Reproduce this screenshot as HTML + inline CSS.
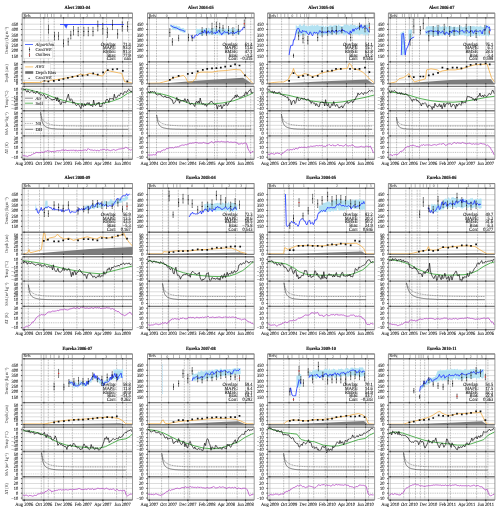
<!DOCTYPE html><html><head><meta charset="utf-8"><style>html,body{margin:0;padding:0;background:#fff;width:500px;height:512px;overflow:hidden}svg{display:block;will-change:transform}text{font-family:"Liberation Serif",serif;fill:#111;stroke:#111;stroke-width:0.07px;text-rendering:geometricPrecision}.tk{font-size:5.0px;text-anchor:end}.rs{font-size:4.4px;stroke-width:0.03px;fill:#222}.xl{text-anchor:middle}.st{font-size:5px;text-anchor:end}.sd{font-size:4.1px;text-anchor:middle;fill:#333;stroke-width:0}.lg{font-size:4.6px;stroke-width:0.04px;fill:#222}.ti{font-size:4.9px;font-weight:bold;text-anchor:middle;stroke-width:0.14px}.yl{font-size:4.6px;text-anchor:middle;stroke-width:0;fill:#333}</style></head><body><svg xmlns="http://www.w3.org/2000/svg" width="500" height="512" viewBox="0 0 500 512"><rect width="500" height="512" fill="#fff"/>
<text class="ti" transform="matrix(0.9 0 0 1 77.35 9)">Alert 2003-04</text>
<rect x="22.2" y="13.1" width="110.3" height="4.8" fill="#b9b9b9"/>
<path d="M22.7 13.8H39.9V17.1H22.7ZM40.9 13.8H44.4V17.1H40.9ZM45.4 13.8H47V17.1H45.4ZM48 13.8H51V17.1H48ZM52 13.8H53.5V17.1H52ZM54.5 13.8H67.5V17.1H54.5ZM68.5 13.8H79.9V17.1H68.5ZM80.9 13.8H93.6V17.1H80.9ZM94.6 13.8H106.1V17.1H94.6ZM107.1 13.8H118.1V17.1H107.1ZM119.1 13.8H127.8V17.1H119.1ZM128.8 13.8H132V17.1H128.8Z" fill="#fff"/>
<path d="M22.2 24.2H132.5M22.2 29.5H132.5M22.2 34.8H132.5M22.2 40.1H132.5M22.2 45.4H132.5M22.2 50.7H132.5M22.2 56H132.5M22.2 64.5H132.5M22.2 68.34H132.5M22.2 72.18H132.5M22.2 76.02H132.5M22.2 79.86H132.5M22.2 88.98H132.5M22.2 96.82H132.5M22.2 100.74H132.5M22.2 104.66H132.5M22.2 108.58H132.5M22.2 113.6H132.5M22.2 117.5H132.5M22.2 121.4H132.5M22.2 125.3H132.5M22.2 129.2H132.5M22.2 137.85H132.5M22.2 142.7H132.5M22.2 147.55H132.5M22.2 157.25H132.5" stroke="#d0d0d0" stroke-width="0.75" fill="none"/>
<path d="M24.2 17.9V61.8M43.88 17.9V61.8M63.56 17.9V61.8M83.24 17.9V61.8M102.92 17.9V61.8M122.6 17.9V61.8M24.2 61.8V83.9M43.88 61.8V83.9M63.56 61.8V83.9M83.24 61.8V83.9M102.92 61.8V83.9M122.6 61.8V83.9M24.2 86.3V110.7M43.88 86.3V110.7M63.56 86.3V110.7M83.24 86.3V110.7M102.92 86.3V110.7M122.6 86.3V110.7M24.2 110.7V135.9M43.88 110.7V135.9M63.56 110.7V135.9M83.24 110.7V135.9M102.92 110.7V135.9M122.6 110.7V135.9M24.2 135.9V159.2M43.88 135.9V159.2M63.56 135.9V159.2M83.24 135.9V159.2M102.92 135.9V159.2M122.6 135.9V159.2" stroke="#b4b4b4" stroke-width="0.65" fill="none"/>
<path d="M40.6 17.9V61.8M48.4 17.9V61.8M54.2 17.9V61.8M80.6 17.9V61.8M106.6 17.9V61.8M128.7 17.9V61.8M40.6 61.8V83.9M48.4 61.8V83.9M54.2 61.8V83.9M80.6 61.8V83.9M106.6 61.8V83.9M128.7 61.8V83.9M40.6 86.3V110.7M48.4 86.3V110.7M54.2 86.3V110.7M80.6 86.3V110.7M106.6 86.3V110.7M128.7 86.3V110.7M40.6 110.7V135.9M48.4 110.7V135.9M54.2 110.7V135.9M80.6 110.7V135.9M106.6 110.7V135.9M128.7 110.7V135.9M40.6 135.9V159.2M48.4 135.9V159.2M54.2 135.9V159.2M80.6 135.9V159.2M106.6 135.9V159.2M128.7 135.9V159.2" stroke="#5a5a5a" stroke-width="0.5" stroke-dasharray="0.75 0.85" fill="none"/>
<path d="M22.2 133.1H132.5M22.2 92.9H132.5" stroke="#a0a0a0" stroke-width="0.45" stroke-dasharray="1 0.8"/>
<path d="M63.5 24.3 68 24.3 66.3 28.8Z" fill="#3a55ff"/>
<path d="M60 24.5 124 24.5" stroke="#2238ff" stroke-width="0.85" fill="none" stroke-linejoin="round"/>
<path d="M48.5 25.2V33.3M48 25.2h0.9M48 33.3h0.9M54.5 32.2V40M54 32.2h0.9M54 40h0.9M58.5 32.4V39.7M58 32.4h0.9M58 39.7h0.9M63.5 39.7V46.8M63 39.7h0.9M63 46.8h0.9M68.2 38.2V45.2M67.8 38.2h0.9M67.8 45.2h0.9M70.8 31.2V39M70.3 31.2h0.9M70.3 39h0.9M73.5 26.5V35M73 26.5h0.9M73 35h0.9M78.2 27.3V35.8M77.8 27.3h0.9M77.8 35.8h0.9M83.8 27.3V35.8M83.3 27.3h0.9M83.3 35.8h0.9M88.3 27.3V35.8M87.8 27.3h0.9M87.8 35.8h0.9M93 27.3V35.8M92.5 27.3h0.9M92.5 35.8h0.9M97.8 21V31M97.3 21h0.9M97.3 31h0.9M102.8 23.4V34.3M102.3 23.4h0.9M102.3 34.3h0.9M107.5 28V37.4M107 28h0.9M107 37.4h0.9M112.5 20.2V29.6M112 20.2h0.9M112 29.6h0.9M117.6 29.6V38.2M117.1 29.6h0.9M117.1 38.2h0.9M122.3 21.8V31.2M121.8 21.8h0.9M121.8 31.2h0.9M127.5 21.8V31.2M127 21.8h0.9M127 31.2h0.9" stroke="#1e1e1e" stroke-width="0.55" fill="none"/>
<path d="M48.5 29.2h0.01M54.5 36.1h0.01M58.5 36h0.01M63.5 43.2h0.01M68.2 41.7h0.01M70.8 35.1h0.01M73.5 30.8h0.01M78.2 31.5h0.01M83.8 31.5h0.01M88.3 31.5h0.01M93 31.5h0.01M97.8 26h0.01M102.8 28.8h0.01M107.5 32.7h0.01M112.5 24.9h0.01M117.6 33.9h0.01M122.3 26.5h0.01M127.5 26.5h0.01" stroke="#111" stroke-width="1.1" stroke-linecap="round"/>
<text class="st" transform="matrix(.88 0 0 1 116.2 45.6)">Overlap:</text><text class="st" transform="matrix(.88 0 0 1 130.7 45.6)">71.4</text>
<text class="st" transform="matrix(.88 0 0 1 116.2 49.25)">MAPE:</text><text class="st" transform="matrix(.88 0 0 1 130.7 49.25)">93.3</text>
<text class="st" transform="matrix(.88 0 0 1 116.2 52.9)">RMSE:</text><text class="st" transform="matrix(.88 0 0 1 130.7 52.9)">91.3</text>
<text class="st" transform="matrix(.88 0 0 1 116.2 56.55)">Bias:</text><text class="st" transform="matrix(.88 0 0 1 130.7 56.55)">77.9</text>
<text class="st" transform="matrix(.88 0 0 1 116.2 60.2)">Corr:</text><text class="st" transform="matrix(.88 0 0 1 130.7 60.2)">nan</text>
<path d="M22.5 82.6 41 82.4 44.4 80.6 47.8 81.3 51.1 80.2 55.6 79.7 62.3 78.6 69 77.5 75.8 76.1 80.7 74.1 84.7 75.2 89.2 73.4 93.7 73.9 98.2 75.2 102.6 76.1 106.7 70.1 110.5 71.2 118.3 72.8 121.7 73.4 124.6 81.7 128.4 82.4 132.3 83" stroke="#f3ab3c" stroke-opacity="0.8" stroke-width="0.95" fill="none" stroke-linejoin="round"/>
<path d="M44.4 80.6h0.01M48.4 81.3h0.01M53.8 80.8h0.01M59 80.2h0.01M63.4 79h0.01M67.9 77.9h0.01M72.4 76.8h0.01M77.6 76.1h0.01M82.5 75.7h0.01M87.6 75h0.01M93.2 73.4h0.01M97.7 74.6h0.01M103.1 72.3h0.01M107.8 70.1h0.01M112.7 69.4h0.01M117.2 69h0.01M122.8 70.8h0.01M127.3 81.3h0.01" stroke="#111" stroke-width="1.7" stroke-linecap="square"/>
<path d="M22.5 90.2 26.5 89.1 35.4 91.4 44.4 93.6 55.6 98.1 66.8 101.4 78 103.7 89.2 104.8 100.4 103.7 111.6 101.4 120.6 98.1 127.3 93.6 132.3 91.4" stroke="#2ca02c" stroke-width="0.8" fill="none"/>
<path d="M22.5 89 23.4 88.7 24.3 89.9 25.2 89.1 26.1 91.1 27 92.2 27.9 90.4 28.8 92 29.7 92.6 30.6 91.9 31.5 91.1 32.4 90.5 33.3 92.8 34.2 92.2 35.1 93.2 36 93.3 36.9 91.1 37.8 92.6 38.7 93.7 39.6 93.3 40.5 95.4 41.4 94.5 42.3 95.6 43.2 94.6 44.1 94.8 45 96.7 45.9 98.7 46.8 98.1 47.7 96.1 48.6 97.4 49.5 98.4 50.4 98.9 51.3 99.1 52.2 100.3 53.1 99 54 100 54.9 99.2 55.8 97.3 56.7 101 57.6 97.5 58.5 101.8 59.4 100 60.3 104.4 61.2 104.4 62.1 101.6 63 102.5 63.9 102.2 64.8 102.7 65.7 102.9 66.6 99.1 67.5 96.9 68.4 94.1 69.3 99.1 70.2 100.7 71.1 98.7 72 99.6 72.9 103.4 73.8 101.9 74.7 102.6 75.6 104.7 76.5 105.7 77.4 104.4 78.3 104.1 79.2 105.4 80.1 107.1 81 108.7 81.9 103.3 82.8 105.9 83.7 106.4 84.6 103.7 85.5 105.9 86.4 103.9 87.3 102.6 88.2 104.4 89.1 102.5 90 105.2 90.9 105.4 91.8 105.4 92.7 106.6 93.6 100 94.5 104.4 95.4 105.5 96.3 104.8 97.2 102.8 98.1 103.9 99 102 99.9 107 100.8 106 101.7 106.5 102.6 103.1 103.5 102.8 104.4 103.6 105.3 102.6 106.2 99.7 107.1 99 108 100.1 108.9 102.5 109.8 98.1 110.7 98.8 111.6 98.7 112.5 98.4 113.4 99.9 114.3 94.2 115.2 97.9 116.1 98.1 117 97.6 117.9 95.5 118.8 95.1 119.7 95.7 120.6 93 121.5 93.2 122.4 94.2 123.3 94.5 124.2 92.1 125.1 91.3 126 92.6 126.9 92 127.8 90.2 128.7 89.4 129.6 90 130.5 91.5 131.4 91.1 132.3 93.1" stroke="#111" stroke-width="0.7" fill="none" stroke-linejoin="round"/>
<path d="M40.6 112.5 41.1 114.9 41.6 116.7 42.1 118.1 42.6 119.1 43.1 120 43.6 120.7 44.1 121.3 44.6 121.7 45.1 122.1 45.6 122.5 46.1 122.8 46.6 123 47.1 123.2 47.6 123.5 48.1 123.6 48.6 123.8 49.1 124 49.6 124.1 50.1 124.3 50.6 124.4 51.1 124.5 51.6 124.6 52.1 124.7 52.6 124.8 53.1 124.9 53.6 124.9 54.1 125 54.6 125.1 55.1 125.1 55.6 125.2 56.1 125.3 56.6 125.3 57.1 125.4 57.6 125.4 58.1 125.4 58.6 125.5 59.1 125.5 59.6 125.6 60.1 125.6 60.6 125.6 61.1 125.6 61.6 125.7 62.1 125.7 62.6 125.7 63.1 125.7 63.6 125.7 64.1 125.8 64.6 125.8 65.1 125.8 65.6 125.8 66.1 125.8 66.6 125.8 67.1 125.8 67.6 125.9 68.1 125.9 68.6 125.9 69.1 125.9 69.6 125.9 70.1 125.9 70.6 125.9 71.1 125.9 71.6 125.9 72.1 125.9 72.6 125.9 73.1 125.9 73.6 125.9 74.1 125.9 74.6 125.9 75.1 126 75.6 126 76.1 126 76.6 126 77.1 126 77.6 126 78.1 126 78.6 126 79.1 126 79.6 126 80.1 126 80.6 126 81.1 126 85.1 126 89.1 126 93.1 126 97.1 126 101.1 126 105.1 126 109.1 126 113.1 126 117.1 126 121.1 126 125.1 126 128.4 126" stroke="#444" stroke-width="0.55" stroke-dasharray="1 0.7" fill="none"/>
<path d="M40.6 112.5 41.1 116.6 41.6 119.4 42.1 121.4 42.6 122.9 43.1 124 43.6 124.8 44.1 125.4 44.6 125.9 45.1 126.3 45.6 126.7 46.1 127 46.6 127.2 47.1 127.4 47.6 127.6 48.1 127.8 48.6 127.9 49.1 128.1 49.6 128.2 50.1 128.3 50.6 128.4 51.1 128.5 51.6 128.6 52.1 128.6 52.6 128.7 53.1 128.7 53.6 128.8 54.1 128.8 54.6 128.9 55.1 128.9 55.6 129 56.1 129 56.6 129 57.1 129.1 57.6 129.1 58.1 129.1 58.6 129.1 59.1 129.1 59.6 129.1 60.1 129.2 60.6 129.2 61.1 129.2 61.6 129.2 62.1 129.2 62.6 129.2 63.1 129.2 63.6 129.2 64.1 129.2 64.6 129.2 65.1 129.2 65.6 129.3 66.1 129.3 66.6 129.3 67.1 129.3 67.6 129.3 68.1 129.3 68.6 129.3 69.1 129.3 69.6 129.3 70.1 129.3 70.6 129.3 71.1 129.3 71.6 129.3 72.1 129.3 72.6 129.3 73.1 129.3 73.6 129.3 74.1 129.3 74.6 129.3 75.1 129.3 75.6 129.3 76.1 129.3 76.6 129.3 77.1 129.3 77.6 129.3 78.1 129.3 78.6 129.3 79.1 129.3 79.6 129.3 80.1 129.3 80.6 129.3 81.1 129.3 85.1 129.3 89.1 129.3 93.1 129.3 97.1 129.3 101.1 129.3 105.1 129.3 109.1 129.3 113.1 129.3 117.1 129.3 121.1 129.3 125.1 129.3 128.4 129.3" stroke="#333" stroke-width="0.6" fill="none"/>
<path d="M22.2 152.4H132.5" stroke="#555" stroke-width="0.4" stroke-dasharray="1 0.8"/>
<path d="M22.5 155 23.3 155.7 24.1 155.4 24.9 156 25.7 156 26.5 156.1 27.3 156.6 28.1 156.1 28.9 155.6 29.7 155.5 30.5 155.5 31.3 154.9 32.1 154.7 32.9 153.9 33.7 153.7 34.5 153.5 35.3 153 36.1 152.6 36.9 152.3 37.7 152.6 38.5 152.7 39.3 152.6 40.1 152.7 40.9 152.1 41.7 152.2 42.5 152.3 43.3 152.5 44.1 151.9 44.9 151.8 45.7 151.1 46.5 151.3 47.3 150.7 48.1 150.7 48.9 151.6 49.7 150.8 50.5 151.5 51.3 151.6 52.1 151.4 52.9 151.5 53.7 151.6 54.5 151.8 55.3 151.4 56.1 151 56.9 150.8 57.7 150.6 58.5 150.8 59.3 150.6 60.1 151.1 60.9 150.3 61.7 150.1 62.5 150.1 63.3 149.6 64.1 150.9 64.9 149.8 65.7 150.1 66.5 150.1 67.3 151 68.1 150 68.9 150.7 69.7 150.3 70.5 150.3 71.3 150.2 72.1 150.6 72.9 150.1 73.7 150.2 74.5 150.4 75.3 151.1 76.1 149.8 76.9 150.7 77.7 150.9 78.5 150.4 79.3 150.5 80.1 150.2 80.9 150.9 81.7 150.6 82.5 150.4 83.3 150.2 84.1 150.1 84.9 150.1 85.7 149.8 86.5 150.8 87.3 149.7 88.1 148.5 88.9 149.3 89.7 149.6 90.5 150 91.3 150 92.1 150 92.9 150.2 93.7 150.5 94.5 150.1 95.3 150 96.1 150.8 96.9 150.6 97.7 150 98.5 150.9 99.3 150.8 100.1 150.2 100.9 149.7 101.7 150 102.5 149.7 103.3 149.5 104.1 149.3 104.9 149.5 105.7 150.2 106.5 150 107.3 149.5 108.1 150.1 108.9 150.1 109.7 150.4 110.5 150.7 111.3 150.3 112.1 150.1 112.9 150 113.7 149.5 114.5 149.9 115.3 150.4 116.1 150.1 116.9 149.8 117.7 149.6 118.5 149.2 119.3 149 120.1 149 120.9 148.8 121.7 148.7 122.5 148.2 123.3 148.5 124.1 148.5 124.9 147.9 125.7 147.1 126.5 147.5 127.3 148 128.1 148.5 128.9 149.2 129.7 149.7 130.5 150.1 131.3 149.7 132.1 150.2" stroke="#b03cc0" stroke-width="0.75" fill="none" stroke-linejoin="round"/>
<rect x="23.3" y="41.3" width="28.9" height="17.2" fill="#fff" fill-opacity="0.85" stroke="#ccc" stroke-width="0.4"/>
<path d="M25 44.5H33" stroke="#3050ff" stroke-width="0.8"/>
<path d="M29.5 47.8V51.3M29 47.8h1M29 51.3h1M29.5 53.3V56.5M29 53.3h1M29 56.5h1" stroke="#222" stroke-width="0.5"/>
<path d="M29.5 49.5h.01" stroke="#111" stroke-width="1.2" stroke-linecap="round"/><path d="M29.5 55h.01" stroke="#e8312a" stroke-width="1.3" stroke-linecap="round"/>
<text x="35.5" y="45.9" class="lg"><tspan font-style="italic">Algorithm</tspan></text>
<text x="35.5" y="51" class="lg">Can<tspan font-style="italic">SWE</tspan></text>
<text x="35.5" y="56.3" class="lg">Outliers</text>
<rect x="23.3" y="63.6" width="27" height="16.5" fill="#fff" fill-opacity="0.85" stroke="#ccc" stroke-width="0.4"/>
<path d="M25.2 66.9H33.2" stroke="#f9c77a" stroke-width="1.1"/>
<rect x="25.2" y="71.2" width="8" height="2.6" fill="#707070"/>
<path d="M29.1 78.3h.01" stroke="#111" stroke-width="1.2" stroke-linecap="round"/>
<text x="35.5" y="68.3" class="lg"><tspan font-style="italic">AWS</tspan></text>
<text x="35.5" y="73.6" class="lg">Depth Bias</text>
<text x="35.5" y="79.2" class="lg">Can<tspan font-style="italic">SWE</tspan></text>
<path d="M25 98.2H33" stroke="#444" stroke-width="0.6"/><path d="M25 103.2H33" stroke="#2ca02c" stroke-width="0.7"/>
<text x="35.5" y="99.6" class="lg"><tspan font-style="italic">Air</tspan></text>
<text x="35.5" y="104.6" class="lg">Soil</text>
<path d="M25 123.4H33" stroke="#555" stroke-width="0.5" stroke-dasharray="1 0.7"/><path d="M25 129.3H33" stroke="#333" stroke-width="0.55"/>
<text x="35.5" y="124.8" class="lg">NS</text>
<text x="35.5" y="130.7" class="lg">DH</text>
<path d="M22.2 17.9V13.1H132.5V17.9M22.2 17.9V61.8M132.5 17.9V61.8M22.2 61.8V83.9M132.5 61.8V83.9M22.2 86.3V110.7M132.5 86.3V110.7M22.2 110.7V135.9M132.5 110.7V135.9M22.2 135.9V159.2M132.5 135.9V159.2M22.2 13.1H132.5" stroke="#808080" stroke-width="0.8" fill="none"/>
<path d="M22.2 17.9H132.5M22.2 61.8H132.5M22.2 83.9H132.5M22.2 86.3H132.5M22.2 110.7H132.5M22.2 135.9H132.5M22.2 159.2H132.5" stroke="#7a7a7a" stroke-width="1.35" fill="none"/>
<path d="M24.2 17.2v1.4M43.88 17.2v1.4M63.56 17.2v1.4M83.24 17.2v1.4M102.92 17.2v1.4M122.6 17.2v1.4M24.2 61.1v1.4M43.88 61.1v1.4M63.56 61.1v1.4M83.24 61.1v1.4M102.92 61.1v1.4M122.6 61.1v1.4M20.9 24.2h1.3M20.9 29.5h1.3M20.9 34.8h1.3M20.9 40.1h1.3M20.9 45.4h1.3M20.9 50.7h1.3M20.9 56h1.3M24.2 83.2v1.4M43.88 83.2v1.4M63.56 83.2v1.4M83.24 83.2v1.4M102.92 83.2v1.4M122.6 83.2v1.4M20.9 64.5h1.3M20.9 68.34h1.3M20.9 72.18h1.3M20.9 76.02h1.3M20.9 79.86h1.3M20.9 83.7h1.3M24.2 85.6v1.4M43.88 85.6v1.4M63.56 85.6v1.4M83.24 85.6v1.4M102.92 85.6v1.4M122.6 85.6v1.4M24.2 110v1.4M43.88 110v1.4M63.56 110v1.4M83.24 110v1.4M102.92 110v1.4M122.6 110v1.4M20.9 88.98h1.3M20.9 92.9h1.3M20.9 96.82h1.3M20.9 100.74h1.3M20.9 104.66h1.3M20.9 108.58h1.3M24.2 135.2v1.4M43.88 135.2v1.4M63.56 135.2v1.4M83.24 135.2v1.4M102.92 135.2v1.4M122.6 135.2v1.4M20.9 113.6h1.3M20.9 117.5h1.3M20.9 121.4h1.3M20.9 125.3h1.3M20.9 129.2h1.3M20.9 133.1h1.3M24.2 158.5v1.4M43.88 158.5v1.4M63.56 158.5v1.4M83.24 158.5v1.4M102.92 158.5v1.4M122.6 158.5v1.4M20.9 137.85h1.3M20.9 142.7h1.3M20.9 147.55h1.3M20.9 152.4h1.3M20.9 157.25h1.3M24.2 159.2v1.3M43.88 159.2v1.3M63.56 159.2v1.3M83.24 159.2v1.3M102.92 159.2v1.3M122.6 159.2v1.3" stroke="#1e1e1e" stroke-width="0.75" fill="none"/>
<text class="sd" transform="matrix(.88 0 0 1 61 16.7)">0</text>
<text class="sd" transform="matrix(.88 0 0 1 74.2 16.7)">1</text>
<text class="sd" transform="matrix(.88 0 0 1 87.25 16.7)">2</text>
<text class="sd" transform="matrix(.88 0 0 1 100.35 16.7)">3</text>
<text class="rs" transform="matrix(.88 0 0 1 23.4 16.6)">Refs</text>
<text class="tk" transform="matrix(.88 0 0 1 18.2 25.9)">450</text>
<text class="tk" transform="matrix(.88 0 0 1 18.2 31.2)">400</text>
<text class="tk" transform="matrix(.88 0 0 1 18.2 36.5)">350</text>
<text class="tk" transform="matrix(.88 0 0 1 18.2 41.8)">300</text>
<text class="tk" transform="matrix(.88 0 0 1 18.2 47.1)">250</text>
<text class="tk" transform="matrix(.88 0 0 1 18.2 52.4)">200</text>
<text class="tk" transform="matrix(.88 0 0 1 18.2 57.7)">150</text>
<text class="yl" transform="translate(8.3 40.35) rotate(-90) scale(0.86 1)">Density (kg m<tspan dy="-1.3" font-size="3.2">−3</tspan><tspan dy="1.3">)</tspan></text>
<text class="tk" transform="matrix(.88 0 0 1 18.2 66.2)">50</text>
<text class="tk" transform="matrix(.88 0 0 1 18.2 70.04)">40</text>
<text class="tk" transform="matrix(.88 0 0 1 18.2 73.88)">30</text>
<text class="tk" transform="matrix(.88 0 0 1 18.2 77.72)">20</text>
<text class="tk" transform="matrix(.88 0 0 1 18.2 81.56)">10</text>
<text class="tk" transform="matrix(.88 0 0 1 18.2 85.4)">0</text>
<text class="yl" transform="translate(8.3 73.35) rotate(-90) scale(0.86 1)">Depth (cm)</text>
<text class="tk" transform="matrix(.88 0 0 1 18.2 90.68)">10</text>
<text class="tk" transform="matrix(.88 0 0 1 18.2 94.6)">0</text>
<text class="tk" transform="matrix(.88 0 0 1 18.2 98.52)">−10</text>
<text class="tk" transform="matrix(.88 0 0 1 18.2 102.44)">−20</text>
<text class="tk" transform="matrix(.88 0 0 1 18.2 106.36)">−30</text>
<text class="tk" transform="matrix(.88 0 0 1 18.2 110.28)">−40</text>
<text class="yl" transform="translate(8.3 99) rotate(-90) scale(0.86 1)">Temp (°C)</text>
<text class="tk" transform="matrix(.88 0 0 1 18.2 115.3)">50</text>
<text class="tk" transform="matrix(.88 0 0 1 18.2 119.2)">40</text>
<text class="tk" transform="matrix(.88 0 0 1 18.2 123.1)">30</text>
<text class="tk" transform="matrix(.88 0 0 1 18.2 127)">20</text>
<text class="tk" transform="matrix(.88 0 0 1 18.2 130.9)">10</text>
<text class="tk" transform="matrix(.88 0 0 1 18.2 134.8)">0</text>
<text class="yl" transform="translate(8.3 123.8) rotate(-90) scale(0.86 1)">SSA (m<tspan dy="-1.3" font-size="3.2">2</tspan><tspan dy="1.3"> kg</tspan><tspan dy="-1.3" font-size="3.2">−1</tspan><tspan dy="1.3">)</tspan></text>
<text class="tk" transform="matrix(.88 0 0 1 18.2 139.55)">30</text>
<text class="tk" transform="matrix(.88 0 0 1 18.2 144.4)">20</text>
<text class="tk" transform="matrix(.88 0 0 1 18.2 149.25)">10</text>
<text class="tk" transform="matrix(.88 0 0 1 18.2 154.1)">0</text>
<text class="tk" transform="matrix(.88 0 0 1 18.2 158.95)">−10</text>
<text class="yl" transform="translate(8.3 148.05) rotate(-90) scale(0.86 1)">ΔT (K)</text>
<text class="tk xl" transform="matrix(0.9 0 0 1 24.2 165)">Aug 2003</text>
<text class="tk xl" transform="matrix(0.9 0 0 1 43.88 165)">Oct 2003</text>
<text class="tk xl" transform="matrix(0.9 0 0 1 63.56 165)">Dec 2003</text>
<text class="tk xl" transform="matrix(0.9 0 0 1 83.24 165)">Feb 2004</text>
<text class="tk xl" transform="matrix(0.9 0 0 1 102.92 165)">Apr 2004</text>
<text class="tk xl" transform="matrix(0.9 0 0 1 122.6 165)">Jun 2004</text>
<text class="ti" transform="matrix(0.9 0 0 1 200.85 9)">Alert 2004-05</text>
<rect x="147.5" y="13.1" width="106.7" height="4.8" fill="#b9b9b9"/>
<path d="M148 13.8H155.8V17.1H148ZM156.8 13.8H176.3V17.1H156.8ZM177.3 13.8H195.7V17.1H177.3ZM196.7 13.8H206V17.1H196.7ZM207 13.8H214.1V17.1H207ZM215.1 13.8H215.9V17.1H215.1ZM216.9 13.8H227.3V17.1H216.9ZM228.3 13.8H235.3V17.1H228.3ZM236.3 13.8H244.1V17.1H236.3ZM245.1 13.8H251.1V17.1H245.1ZM252.1 13.8H253.7V17.1H252.1Z" fill="#fff"/>
<path d="M147.5 24.2H254.2M147.5 29.5H254.2M147.5 34.8H254.2M147.5 40.1H254.2M147.5 45.4H254.2M147.5 50.7H254.2M147.5 56H254.2M147.5 64.5H254.2M147.5 68.34H254.2M147.5 72.18H254.2M147.5 76.02H254.2M147.5 79.86H254.2M147.5 88.98H254.2M147.5 96.82H254.2M147.5 100.74H254.2M147.5 104.66H254.2M147.5 108.58H254.2M147.5 113.6H254.2M147.5 117.5H254.2M147.5 121.4H254.2M147.5 125.3H254.2M147.5 129.2H254.2M147.5 137.85H254.2M147.5 142.7H254.2M147.5 147.55H254.2M147.5 157.25H254.2" stroke="#d0d0d0" stroke-width="0.75" fill="none"/>
<path d="M149.4 17.9V61.8M168.64 17.9V61.8M187.88 17.9V61.8M207.12 17.9V61.8M226.36 17.9V61.8M245.6 17.9V61.8M149.4 61.8V83.9M168.64 61.8V83.9M187.88 61.8V83.9M207.12 61.8V83.9M226.36 61.8V83.9M245.6 61.8V83.9M149.4 86.3V110.7M168.64 86.3V110.7M187.88 86.3V110.7M207.12 86.3V110.7M226.36 86.3V110.7M245.6 86.3V110.7M149.4 110.7V135.9M168.64 110.7V135.9M187.88 110.7V135.9M207.12 110.7V135.9M226.36 110.7V135.9M245.6 110.7V135.9M149.4 135.9V159.2M168.64 135.9V159.2M187.88 135.9V159.2M207.12 135.9V159.2M226.36 135.9V159.2M245.6 135.9V159.2" stroke="#b4b4b4" stroke-width="0.65" fill="none"/>
<path d="M156.5 17.9V61.8M196.1 17.9V61.8M214.5 17.9V61.8M217.2 17.9V61.8M236.1 17.9V61.8M250.7 17.9V61.8M156.5 61.8V83.9M196.1 61.8V83.9M214.5 61.8V83.9M217.2 61.8V83.9M236.1 61.8V83.9M250.7 61.8V83.9M156.5 86.3V110.7M196.1 86.3V110.7M214.5 86.3V110.7M217.2 86.3V110.7M236.1 86.3V110.7M250.7 86.3V110.7M156.5 110.7V135.9M196.1 110.7V135.9M214.5 110.7V135.9M217.2 110.7V135.9M236.1 110.7V135.9M250.7 110.7V135.9M156.5 135.9V159.2M196.1 135.9V159.2M214.5 135.9V159.2M217.2 135.9V159.2M236.1 135.9V159.2M250.7 135.9V159.2" stroke="#5a5a5a" stroke-width="0.5" stroke-dasharray="0.75 0.85" fill="none"/>
<path d="M147.5 133.1H254.2M147.5 92.9H254.2" stroke="#a0a0a0" stroke-width="0.45" stroke-dasharray="1 0.8"/>
<path d="M170 24.9 171 24.1 172 25.6 173 25.3 174 24.7 175 26.2 176 25.4 177 25.7 178 26.8 179 26 180 26.7 181 28.4 182 28.4 183 27.7 184 28.6 185 30.1 186 29.5 186 31.1 185 32.9 184 32.5 183 32.8 182 31.8 181 31.4 180 31.5 179 30.2 178 29.9 177 29.8 176 30.6 175 30 174 28.9 173 30.2 172 28.3 171 26.8 170 27Z" fill="#b3e2f2"/>
<path d="M196 27.9 196.9 28.8 197.8 29.1 198.7 28.9 199.6 28.7 200.5 29.2 201.4 29 202.3 29.2 203.2 28.2 204.1 29.2 205 28.5 205.9 28 206.8 28.3 207.7 29.5 208.6 27.6 209.5 28.4 210.5 29.4 211.4 28.6 212.3 29.1 213.2 28.3 214.1 27.8 215 29.2 215.9 27.7 216.8 28.4 217.7 29.8 218.6 28.5 219.5 28.6 220.5 28.8 221.4 28.3 222.3 28.9 223.2 28.9 224.1 28 225 29.7 225.9 28.6 226.8 28.1 227.7 29.4 228.6 27.9 229.5 28.4 230.5 29.2 231.4 27.8 232.3 28.7 233.2 29.8 234.1 27.5 235 28 236 29.7 237 29.2 238 28.5 239 29.4 240 29.5 240 35.2 239.1 35.1 238.2 35.1 237.3 34.1 236.4 34.4 235.5 34.3 234.5 34.5 233.6 34.1 232.7 34.6 231.8 34.3 230.9 34.3 230 35 229.1 34.1 228.1 34.5 227.2 34.5 226.2 34.1 225.3 35.3 224.4 34.6 223.4 34.4 222.5 35.2 221.6 34.7 220.6 34.8 219.7 35.8 218.8 34.7 217.8 34.5 216.9 35.1 215.9 35.3 215 34.8 214.1 34.5 213.2 34.6 212.3 35.1 211.4 34.8 210.5 34.2 209.5 34.9 208.6 34.8 207.7 33.4 206.8 35.2 205.9 33.3 205 33.6 204.1 34.7 203.2 35 202.3 35.9 201.4 35.4 200.5 35.3 199.6 34 198.7 34.7 197.8 35.2 196.9 33.4 196 35Z" fill="#b3e2f2"/>
<path d="M170.6 25.4 173.5 27.2 176.8 28 179 29.4 182.3 30.2 185.2 31.6" stroke="#2238ff" stroke-width="0.85" fill="none" stroke-linejoin="round"/>
<path d="M191.1 35.2 192 37.8 192.9 37.3 193.8 38.3 194.7 35.5 195.6 36.1 196.5 34.4 197.4 35.5 198.3 35 199.2 33.8 200.1 33.1 201 33.6 201.9 33 202.8 31.8 203.7 33 204.6 29.9 205.5 31.7 206.4 34.1 207.3 33 208.2 30.9 209.1 33.1 210 32.6 210.9 31.8 211.8 31.6 212.7 32.3 213.6 33.2 214.5 32.3 215.4 34 216.3 31.7 217.2 33 218.1 30.9 219 30.2 219.9 32.2 220.8 33.1 221.7 35.1 222.6 33 223.5 33.1 224.4 31.4 225.3 32.2 226.2 32.8 227.1 31.8 228 33.2 228.9 34 229.8 33.5 230.7 32.8 231.6 32.7 232.5 33.7 233.4 32.1 234.3 33.8 235.2 32.4 236.1 33 237 31.5 237.9 31.2 238.8 31.1 239.7 32.1 240.6 30.9 241.5 29.8 242.4 29.8 243.3 27.1 244.2 27.8 245.1 27.2" stroke="#2238ff" stroke-width="0.85" fill="none" stroke-linejoin="round"/>
<path d="M169.8 28.7V36.4M169.4 28.7h0.9M169.4 36.4h0.9M172.4 38.6V45.2M172 38.6h0.9M172 45.2h0.9M178.6 35.3V40.8M178.2 35.3h0.9M178.2 40.8h0.9M188.5 34.2V40.8M188.1 34.2h0.9M188.1 40.8h0.9M192.2 35.3V40.8M191.8 35.3h0.9M191.8 40.8h0.9M202.1 27.6V35.3M201.7 27.6h0.9M201.7 35.3h0.9M206.5 28.7V35.3M206.1 28.7h0.9M206.1 35.3h0.9M212 23.2V34.2M211.6 23.2h0.9M211.6 34.2h0.9M216.4 22.1V30.9M216 22.1h0.9M216 30.9h0.9M219.7 23.2V32M219.2 23.2h0.9M219.2 32h0.9M223 25.4V30.9M222.6 25.4h0.9M222.6 30.9h0.9M228.5 26.5V34.2M228.1 26.5h0.9M228.1 34.2h0.9M232.9 27.6V35.3M232.5 27.6h0.9M232.5 35.3h0.9M238.4 25.4V34.2M238 25.4h0.9M238 34.2h0.9M244.3 19.9V27.6M243.9 19.9h0.9M243.9 27.6h0.9" stroke="#1e1e1e" stroke-width="0.55" fill="none"/>
<path d="M169.8 32.5h0.01M172.4 41.9h0.01M178.6 38h0.01M188.5 37.5h0.01M192.2 38h0.01M202.1 31.4h0.01M206.5 32h0.01M212 28.7h0.01M216.4 26.5h0.01M219.7 27.6h0.01M223 28.1h0.01M228.5 30.4h0.01M232.9 31.4h0.01M238.4 29.8h0.01" stroke="#111" stroke-width="1.1" stroke-linecap="round"/>
<path d="M244.3 23.8h0.01" stroke="#e8312a" stroke-width="1.4" stroke-linecap="round"/>
<text class="st" transform="matrix(.88 0 0 1 237.9 45.6)">Overlap:</text><text class="st" transform="matrix(.88 0 0 1 252.4 45.6)">61.4</text>
<text class="st" transform="matrix(.88 0 0 1 237.9 49.25)">MAPE:</text><text class="st" transform="matrix(.88 0 0 1 252.4 49.25)">11.6</text>
<text class="st" transform="matrix(.88 0 0 1 237.9 52.9)">RMSE:</text><text class="st" transform="matrix(.88 0 0 1 252.4 52.9)">47.1</text>
<text class="st" transform="matrix(.88 0 0 1 237.9 56.55)">Bias:</text><text class="st" transform="matrix(.88 0 0 1 252.4 56.55)">−1.2</text>
<text class="st" transform="matrix(.88 0 0 1 237.9 60.2)">Corr:</text><text class="st" transform="matrix(.88 0 0 1 252.4 60.2)">−0.315</text>
<path d="M163 83.6 200 80.5 243 77.8 252 83.6Z" fill="#6f6f6f" fill-opacity="0.9"/>
<path d="M148 83.3 159.2 83.1 163.6 82 168 80.9 170.2 79.4 174.6 77.6 179 76.5 183.4 75.4 185.6 77.6 187.8 82 192.2 82 195.5 78.7 197 73.2 201 72.1 207.6 72.1 212 72.1 218.6 71 225.2 70.6 234 69.5 240.6 69.9 243.9 74.3 247.2 77.2 250.5 80.9 253.4 84" stroke="#f3ab3c" stroke-opacity="0.8" stroke-width="0.95" fill="none" stroke-linejoin="round"/>
<path d="M169.8 79.8h0.01M173 77.6h0.01M178.6 75.8h0.01M187.8 73.9h0.01M192.2 73.2h0.01M197.7 71.4h0.01M202.8 69.9h0.01M207.2 68.8h0.01M212 68.4h0.01M216.4 68.1h0.01M220.8 67.7h0.01M225.2 66.6h0.01M230.7 66.2h0.01M235.1 64.4h0.01M239.5 65.5h0.01M245 75.4h0.01" stroke="#111" stroke-width="1.7" stroke-linecap="square"/>
<path d="M148 92.4 150.4 92.6 159.2 93.4 168 95.6 179 99.6 190 103.6 201 104 212 104 223 102.9 234 100.7 242.8 97.4 249.4 94.8 253.4 92.6" stroke="#2ca02c" stroke-width="0.8" fill="none"/>
<path d="M148 91.6 148.9 91.9 149.8 93.3 150.7 91.1 151.6 92.3 152.5 91.3 153.4 92.2 154.3 91.5 155.2 92.2 156.1 94.4 157 94.5 157.9 95.2 158.8 94.4 159.7 94.4 160.6 94.3 161.5 96 162.4 96.3 163.3 97 164.2 96.9 165.1 95.8 166 97.6 166.9 97.1 167.8 98 168.7 96.9 169.6 98.3 170.5 98.2 171.4 99.9 172.3 99.8 173.2 103.4 174.1 103.4 175 102.2 175.9 100.6 176.8 97.4 177.7 100.5 178.6 99.1 179.5 103.2 180.4 100.4 181.3 100.9 182.2 100.8 183.1 100.1 184 101.3 184.9 98.6 185.8 101 186.7 102.5 187.6 99 188.5 101 189.4 102.7 190.3 104.7 191.2 103.4 192.1 103.2 193 104.2 193.9 105 194.8 106.6 195.7 102.2 196.6 101.2 197.5 103.1 198.4 101 199.3 103.3 200.2 98 201.1 102 202 104.2 202.9 103.9 203.8 103.7 204.7 105.3 205.6 104 206.5 106.4 207.4 104.6 208.3 103.9 209.2 103.8 210.1 101.9 211 101.8 211.9 101.2 212.8 102.8 213.7 103.8 214.6 104.4 215.5 104.5 216.4 104.7 217.3 109.1 218.2 105.6 219.1 105.9 220 106.6 220.9 104.8 221.8 108.8 222.7 106.9 223.6 104.7 224.5 105.8 225.4 104.1 226.3 102.6 227.2 105.6 228.1 104.6 229 102.7 229.9 101.6 230.8 101.2 231.7 100 232.6 98.5 233.5 97.9 234.4 97.9 235.3 95.1 236.2 97.4 237.1 94.7 238 96.9 238.9 96.5 239.8 97.7 240.7 97 241.6 96.9 242.5 96.4 243.4 95.3 244.3 96 245.2 92.7 246.1 91.8 247 94.6 247.9 92.2 248.8 91.2 249.7 90 250.6 89.3 251.5 92.9 252.4 92.8 253.3 92.6" stroke="#111" stroke-width="0.7" fill="none" stroke-linejoin="round"/>
<path d="M156.6 115 157.1 116.9 157.6 118.4 158.1 119.5 158.6 120.4 159.1 121.1 159.6 121.7 160.1 122.1 160.6 122.5 161.1 122.8 161.6 123.1 162.1 123.4 162.6 123.6 163.1 123.8 163.6 123.9 164.1 124.1 164.6 124.2 165.1 124.3 165.6 124.5 166.1 124.6 166.6 124.7 167.1 124.8 167.6 124.9 168.1 124.9 168.6 125 169.1 125.1 169.6 125.1 170.1 125.2 170.6 125.3 171.1 125.3 171.6 125.4 172.1 125.4 172.6 125.4 173.1 125.5 173.6 125.5 174.1 125.5 174.6 125.6 175.1 125.6 175.6 125.6 176.1 125.7 176.6 125.7 177.1 125.7 177.6 125.7 178.1 125.7 178.6 125.8 179.1 125.8 179.6 125.8 180.1 125.8 180.6 125.8 181.1 125.8 181.6 125.8 182.1 125.9 182.6 125.9 183.1 125.9 183.6 125.9 184.1 125.9 184.6 125.9 185.1 125.9 185.6 125.9 186.1 125.9 186.6 125.9 187.1 125.9 187.6 125.9 188.1 125.9 188.6 125.9 189.1 125.9 189.6 126 190.1 126 190.6 126 191.1 126 191.6 126 192.1 126 192.6 126 193.1 126 193.6 126 194.1 126 194.6 126 195.1 126 195.6 126 196.1 126 196.6 126 200.6 126 204.6 126 208.6 126 212.6 126 216.6 126 220.6 126 224.6 126 228.6 126 232.6 126 236.6 126 240.6 126 244.6 126 248.6 126 251.2 126" stroke="#444" stroke-width="0.55" stroke-dasharray="1 0.7" fill="none"/>
<path d="M156.6 115 157.1 118.5 157.6 120.9 158.1 122.6 158.6 123.8 159.1 124.8 159.6 125.5 160.1 126 160.6 126.4 161.1 126.8 161.6 127.1 162.1 127.3 162.6 127.5 163.1 127.7 163.6 127.9 164.1 128 164.6 128.1 165.1 128.2 165.6 128.3 166.1 128.4 166.6 128.5 167.1 128.6 167.6 128.7 168.1 128.7 168.6 128.8 169.1 128.8 169.6 128.9 170.1 128.9 170.6 129 171.1 129 171.6 129 172.1 129 172.6 129.1 173.1 129.1 173.6 129.1 174.1 129.1 174.6 129.1 175.1 129.2 175.6 129.2 176.1 129.2 176.6 129.2 177.1 129.2 177.6 129.2 178.1 129.2 178.6 129.2 179.1 129.2 179.6 129.2 180.1 129.2 180.6 129.3 181.1 129.3 181.6 129.3 182.1 129.3 182.6 129.3 183.1 129.3 183.6 129.3 184.1 129.3 184.6 129.3 185.1 129.3 185.6 129.3 186.1 129.3 186.6 129.3 187.1 129.3 187.6 129.3 188.1 129.3 188.6 129.3 189.1 129.3 189.6 129.3 190.1 129.3 190.6 129.3 191.1 129.3 191.6 129.3 192.1 129.3 192.6 129.3 193.1 129.3 193.6 129.3 194.1 129.3 194.6 129.3 195.1 129.3 195.6 129.3 196.1 129.3 196.6 129.3 200.6 129.3 204.6 129.3 208.6 129.3 212.6 129.3 216.6 129.3 220.6 129.3 224.6 129.3 228.6 129.3 232.6 129.3 236.6 129.3 240.6 129.3 244.6 129.3 248.6 129.3 251.2 129.3" stroke="#333" stroke-width="0.6" fill="none"/>
<path d="M147.5 152.4H254.2" stroke="#555" stroke-width="0.4" stroke-dasharray="1 0.8"/>
<path d="M148 154.5 148.8 155.2 149.6 155.1 150.4 155 151.2 155.1 152 154.8 152.8 155 153.6 154.6 154.4 154.9 155.2 154.8 156 154.6 156.8 152.3 157.6 151.8 158.4 151.8 159.2 151.7 160 152.2 160.8 151.9 161.6 150.6 162.4 150.5 163.2 150 164 149.7 164.8 150.1 165.6 149.6 166.4 148.5 167.2 148.7 168 148.5 168.8 148 169.6 147.7 170.4 147.7 171.2 147.8 172 147.6 172.8 147.6 173.6 148.2 174.4 147.4 175.2 147 176 146.9 176.8 147.2 177.6 146.7 178.4 147.1 179.2 146.2 180 145.7 180.8 145.7 181.6 145.2 182.4 145 183.2 145.2 184 145.2 184.8 144.9 185.6 144.5 186.4 144.8 187.2 144.4 188 143.9 188.8 144.1 189.6 143.2 190.4 143.2 191.2 143.4 192 143.2 192.8 142.9 193.6 143 194.4 142.8 195.2 142.6 196 142.3 196.8 143 197.6 142.7 198.4 143.2 199.2 143.1 200 142.9 200.8 143.1 201.6 143.1 202.4 143 203.2 142.4 204 142.6 204.8 143 205.6 143.1 206.4 143.3 207.2 143.6 208 143.3 208.8 143.8 209.6 142.6 210.4 142.5 211.2 141.5 212 142.2 212.8 142.3 213.6 142.9 214.4 142.4 215.2 141.5 216 142.3 216.8 141.6 217.6 141.3 218.4 141.6 219.2 142 220 141.7 220.8 141.8 221.6 141.1 222.4 142 223.2 141.8 224 141.8 224.8 142 225.6 142 226.4 142 227.2 141.6 228 141.7 228.8 142 229.6 142.4 230.4 142.1 231.2 142.1 232 142.2 232.8 142.4 233.6 142.3 234.4 142.2 235.2 142.1 236 142.8 236.8 142.9 237.6 142.9 238.4 144.3 239.2 144 240 144 240.8 143.7 241.6 143.2 242.4 143.9 243.2 143.6 244 143.1 244.8 143.1 245.6 142.9 246.4 143.4 247.2 145.6 248 148.7 248.8 150.4 249.6 151.2 250.4 153.2 251.2 152.6 252 151.7 252.8 151.3 253.6 152.2" stroke="#b03cc0" stroke-width="0.75" fill="none" stroke-linejoin="round"/>
<path d="M147.5 17.9V13.1H254.2V17.9M147.5 17.9V61.8M254.2 17.9V61.8M147.5 61.8V83.9M254.2 61.8V83.9M147.5 86.3V110.7M254.2 86.3V110.7M147.5 110.7V135.9M254.2 110.7V135.9M147.5 135.9V159.2M254.2 135.9V159.2M147.5 13.1H254.2" stroke="#808080" stroke-width="0.8" fill="none"/>
<path d="M147.5 17.9H254.2M147.5 61.8H254.2M147.5 83.9H254.2M147.5 86.3H254.2M147.5 110.7H254.2M147.5 135.9H254.2M147.5 159.2H254.2" stroke="#7a7a7a" stroke-width="1.35" fill="none"/>
<path d="M149.4 17.2v1.4M168.64 17.2v1.4M187.88 17.2v1.4M207.12 17.2v1.4M226.36 17.2v1.4M245.6 17.2v1.4M149.4 61.1v1.4M168.64 61.1v1.4M187.88 61.1v1.4M207.12 61.1v1.4M226.36 61.1v1.4M245.6 61.1v1.4M146.2 24.2h1.3M146.2 29.5h1.3M146.2 34.8h1.3M146.2 40.1h1.3M146.2 45.4h1.3M146.2 50.7h1.3M146.2 56h1.3M149.4 83.2v1.4M168.64 83.2v1.4M187.88 83.2v1.4M207.12 83.2v1.4M226.36 83.2v1.4M245.6 83.2v1.4M146.2 64.5h1.3M146.2 68.34h1.3M146.2 72.18h1.3M146.2 76.02h1.3M146.2 79.86h1.3M146.2 83.7h1.3M149.4 85.6v1.4M168.64 85.6v1.4M187.88 85.6v1.4M207.12 85.6v1.4M226.36 85.6v1.4M245.6 85.6v1.4M149.4 110v1.4M168.64 110v1.4M187.88 110v1.4M207.12 110v1.4M226.36 110v1.4M245.6 110v1.4M146.2 88.98h1.3M146.2 92.9h1.3M146.2 96.82h1.3M146.2 100.74h1.3M146.2 104.66h1.3M146.2 108.58h1.3M149.4 135.2v1.4M168.64 135.2v1.4M187.88 135.2v1.4M207.12 135.2v1.4M226.36 135.2v1.4M245.6 135.2v1.4M146.2 113.6h1.3M146.2 117.5h1.3M146.2 121.4h1.3M146.2 125.3h1.3M146.2 129.2h1.3M146.2 133.1h1.3M149.4 158.5v1.4M168.64 158.5v1.4M187.88 158.5v1.4M207.12 158.5v1.4M226.36 158.5v1.4M245.6 158.5v1.4M146.2 137.85h1.3M146.2 142.7h1.3M146.2 147.55h1.3M146.2 152.4h1.3M146.2 157.25h1.3M149.4 159.2v1.3M168.64 159.2v1.3M187.88 159.2v1.3M207.12 159.2v1.3M226.36 159.2v1.3M245.6 159.2v1.3" stroke="#1e1e1e" stroke-width="0.75" fill="none"/>
<text class="sd" transform="matrix(.88 0 0 1 166.55 16.7)">0</text>
<text class="sd" transform="matrix(.88 0 0 1 186.5 16.7)">1</text>
<text class="sd" transform="matrix(.88 0 0 1 201.35 16.7)">2</text>
<text class="sd" transform="matrix(.88 0 0 1 210.55 16.7)">3</text>
<text class="rs" transform="matrix(.88 0 0 1 148.7 16.6)">Refs</text>
<text class="tk" transform="matrix(.88 0 0 1 143.5 25.9)">450</text>
<text class="tk" transform="matrix(.88 0 0 1 143.5 31.2)">400</text>
<text class="tk" transform="matrix(.88 0 0 1 143.5 36.5)">350</text>
<text class="tk" transform="matrix(.88 0 0 1 143.5 41.8)">300</text>
<text class="tk" transform="matrix(.88 0 0 1 143.5 47.1)">250</text>
<text class="tk" transform="matrix(.88 0 0 1 143.5 52.4)">200</text>
<text class="tk" transform="matrix(.88 0 0 1 143.5 57.7)">150</text>
<text class="tk" transform="matrix(.88 0 0 1 143.5 66.2)">50</text>
<text class="tk" transform="matrix(.88 0 0 1 143.5 70.04)">40</text>
<text class="tk" transform="matrix(.88 0 0 1 143.5 73.88)">30</text>
<text class="tk" transform="matrix(.88 0 0 1 143.5 77.72)">20</text>
<text class="tk" transform="matrix(.88 0 0 1 143.5 81.56)">10</text>
<text class="tk" transform="matrix(.88 0 0 1 143.5 85.4)">0</text>
<text class="tk" transform="matrix(.88 0 0 1 143.5 90.68)">10</text>
<text class="tk" transform="matrix(.88 0 0 1 143.5 94.6)">0</text>
<text class="tk" transform="matrix(.88 0 0 1 143.5 98.52)">−10</text>
<text class="tk" transform="matrix(.88 0 0 1 143.5 102.44)">−20</text>
<text class="tk" transform="matrix(.88 0 0 1 143.5 106.36)">−30</text>
<text class="tk" transform="matrix(.88 0 0 1 143.5 110.28)">−40</text>
<text class="tk" transform="matrix(.88 0 0 1 143.5 115.3)">50</text>
<text class="tk" transform="matrix(.88 0 0 1 143.5 119.2)">40</text>
<text class="tk" transform="matrix(.88 0 0 1 143.5 123.1)">30</text>
<text class="tk" transform="matrix(.88 0 0 1 143.5 127)">20</text>
<text class="tk" transform="matrix(.88 0 0 1 143.5 130.9)">10</text>
<text class="tk" transform="matrix(.88 0 0 1 143.5 134.8)">0</text>
<text class="tk" transform="matrix(.88 0 0 1 143.5 139.55)">30</text>
<text class="tk" transform="matrix(.88 0 0 1 143.5 144.4)">20</text>
<text class="tk" transform="matrix(.88 0 0 1 143.5 149.25)">10</text>
<text class="tk" transform="matrix(.88 0 0 1 143.5 154.1)">0</text>
<text class="tk" transform="matrix(.88 0 0 1 143.5 158.95)">−10</text>
<text class="tk xl" transform="matrix(0.9 0 0 1 149.4 165)">Aug 2004</text>
<text class="tk xl" transform="matrix(0.9 0 0 1 168.64 165)">Oct 2004</text>
<text class="tk xl" transform="matrix(0.9 0 0 1 187.88 165)">Dec 2004</text>
<text class="tk xl" transform="matrix(0.9 0 0 1 207.12 165)">Feb 2005</text>
<text class="tk xl" transform="matrix(0.9 0 0 1 226.36 165)">Apr 2005</text>
<text class="tk xl" transform="matrix(0.9 0 0 1 245.6 165)">Jun 2005</text>
<text class="ti" transform="matrix(0.9 0 0 1 321.1 9)">Alert 2005-06</text>
<rect x="267.6" y="13.1" width="107" height="4.8" fill="#b9b9b9"/>
<path d="M268.1 13.8H276.9V17.1H268.1ZM277.9 13.8H280.5V17.1H277.9ZM281.5 13.8H284.2V17.1H281.5ZM285.2 13.8H287.5V17.1H285.2ZM288.5 13.8H296.3V17.1H288.5ZM297.3 13.8H304V17.1H297.3ZM305 13.8H306.2V17.1H305ZM307.2 13.8H308.4V17.1H307.2ZM309.4 13.8H315.7V17.1H309.4ZM316.7 13.8H337.7V17.1H316.7ZM338.7 13.8H351.3V17.1H338.7ZM352.3 13.8H364.5V17.1H352.3ZM365.5 13.8H373.3V17.1H365.5Z" fill="#fff"/>
<path d="M267.6 24.2H374.6M267.6 29.5H374.6M267.6 34.8H374.6M267.6 40.1H374.6M267.6 45.4H374.6M267.6 50.7H374.6M267.6 56H374.6M267.6 64.5H374.6M267.6 68.34H374.6M267.6 72.18H374.6M267.6 76.02H374.6M267.6 79.86H374.6M267.6 88.98H374.6M267.6 96.82H374.6M267.6 100.74H374.6M267.6 104.66H374.6M267.6 108.58H374.6M267.6 113.6H374.6M267.6 117.5H374.6M267.6 121.4H374.6M267.6 125.3H374.6M267.6 129.2H374.6M267.6 137.85H374.6M267.6 142.7H374.6M267.6 147.55H374.6M267.6 157.25H374.6" stroke="#d0d0d0" stroke-width="0.75" fill="none"/>
<path d="M269.9 17.9V61.8M289.04 17.9V61.8M308.18 17.9V61.8M327.32 17.9V61.8M346.46 17.9V61.8M365.6 17.9V61.8M269.9 61.8V83.9M289.04 61.8V83.9M308.18 61.8V83.9M327.32 61.8V83.9M346.46 61.8V83.9M365.6 61.8V83.9M269.9 86.3V110.7M289.04 86.3V110.7M308.18 86.3V110.7M327.32 86.3V110.7M346.46 86.3V110.7M365.6 86.3V110.7M269.9 110.7V135.9M289.04 110.7V135.9M308.18 110.7V135.9M327.32 110.7V135.9M346.46 110.7V135.9M365.6 110.7V135.9M269.9 135.9V159.2M289.04 135.9V159.2M308.18 135.9V159.2M327.32 135.9V159.2M346.46 135.9V159.2M365.6 135.9V159.2" stroke="#b4b4b4" stroke-width="0.65" fill="none"/>
<path d="M281.6 17.9V61.8M304.3 17.9V61.8M322.3 17.9V61.8M352.5 17.9V61.8M368.5 17.9V61.8M281.6 61.8V83.9M304.3 61.8V83.9M322.3 61.8V83.9M352.5 61.8V83.9M368.5 61.8V83.9M281.6 86.3V110.7M304.3 86.3V110.7M322.3 86.3V110.7M352.5 86.3V110.7M368.5 86.3V110.7M281.6 110.7V135.9M304.3 110.7V135.9M322.3 110.7V135.9M352.5 110.7V135.9M368.5 110.7V135.9M281.6 135.9V159.2M304.3 135.9V159.2M322.3 135.9V159.2M352.5 135.9V159.2M368.5 135.9V159.2" stroke="#5a5a5a" stroke-width="0.5" stroke-dasharray="0.75 0.85" fill="none"/>
<path d="M267.6 133.1H374.6M267.6 92.9H374.6" stroke="#a0a0a0" stroke-width="0.45" stroke-dasharray="1 0.8"/>
<path d="M295.7 25.3 296.6 25.5 297.5 26.6 298.4 26.6 299.3 24.4 300.2 23.7 301.1 25.7 302 25.7 302.9 25.5 303.8 24 304.7 24.5 305.6 26.2 306.5 25.2 307.4 26.8 308.3 25.4 309.2 26.1 310.1 26 311 25.1 311.9 25.7 312.8 24.6 313.7 26.2 314.6 24.8 315.5 26.1 316.4 25.3 317.3 24.7 318.2 25 319.1 26.4 320 25.3 320.9 26.3 321.9 25.2 322.8 26.1 323.7 25.5 324.6 27.5 325.6 25.6 326.5 26.9 327.4 25.2 328.3 26.4 329.3 25.8 330.2 25.3 331.1 25.6 332 25.6 333 25.9 333.9 25.1 334.8 25.2 335.7 25.1 336.7 24.5 337.6 26.4 338.5 23.8 339.4 25.7 340.4 25.8 341.3 26.1 342.2 25.9 343.1 26.3 344.1 24.5 345 24.4 345.9 24.5 346.8 24.9 347.7 24.6 348.6 25.3 349.5 25.7 350.4 24.6 351.3 24.1 352.2 25.3 353.1 25.3 354 24.9 354.9 24.9 355.8 25.6 356.7 26.3 357.7 25.2 358.6 25.6 359.5 25.1 360.4 25.1 361.3 24.8 362.2 25.4 363.1 24.9 364 25.5 364.9 26 365.8 24.5 366.7 24.4 367.6 24.9 368.5 24.3 369.4 25 369.4 34.7 368.5 33.7 367.6 35.6 366.7 35.4 365.8 34.1 364.9 34.7 364 35.9 363.1 34 362.2 34.2 361.3 34 360.4 34.6 359.5 35.6 358.6 34.9 357.7 34.2 356.7 33.7 355.8 34.9 354.9 33.4 354 34.2 353.1 34.1 352.2 34.9 351.3 34.2 350.4 33.9 349.5 33.3 348.6 34.2 347.7 33.8 346.8 35 345.9 34.6 345 34.3 344.1 35.4 343.1 35 342.2 32.4 341.3 33.6 340.4 33.8 339.4 34.3 338.5 35.1 337.6 34.7 336.7 33.5 335.7 34.6 334.8 34.1 333.9 32.9 333 34.9 332 34.7 331.1 34.6 330.2 34.7 329.3 33.8 328.3 33.7 327.4 35.4 326.5 34.7 325.6 34.1 324.6 34.2 323.7 35.5 322.8 35.5 321.9 33.7 320.9 35.4 320 35.9 319.1 35 318.2 34.6 317.3 34.6 316.4 33.7 315.5 33.7 314.6 33.5 313.7 33.9 312.8 34.6 311.9 33.4 311 34.3 310.1 34.4 309.2 33.9 308.3 33.3 307.4 34.1 306.5 34 305.6 36.2 304.7 33.7 303.8 34.1 302.9 34.3 302 35.6 301.1 34.6 300.2 36.4 299.3 34.2 298.4 34.1 297.5 34.6 296.6 33.3 295.7 34.2Z" fill="#b3e2f2"/>
<path d="M289.1 55.1 290 49 290.9 45.3 291.8 45.4 292.7 45.4 293.6 39.7 294.5 39.8 295.4 35.4 296.3 31.2 297.2 28.8 298.1 28.6 299 28.7 299.9 32.1 300.8 31.9 301.7 32.9 302.6 30.3 303.5 31.4 304.4 31.2 305.3 31.7 306.2 31.2 307.1 33 308 33.9 308.9 35 309.8 32.1 310.7 32.2 311.6 34.6 312.5 35.9 313.4 33.6 314.3 31.9 315.2 33.3 316.1 32.6 317 32.5 317.9 33.7 318.8 32.6 319.7 30.6 320.6 31.3 321.5 32.8 322.4 31.5 323.3 32.5 324.2 31.7 325.1 32.6 326 31.6 326.9 32.9 327.8 31.8 328.7 30.7 329.6 32.1 330.5 32.2 331.4 31.9 332.3 30 333.2 30.7 334.1 32.3 335 31.8 335.9 30 336.8 32.2 337.7 31.7 338.6 31 339.5 30.6 340.4 31 341.3 31.8 342.2 29.1 343.1 30.8 344 30.1 344.9 31.9 345.8 31.9 346.7 31.9 347.6 32.3 348.5 33.8 349.4 34.4 350.3 30.9 351.2 33.1 352.1 31.4 353 28.9 353.9 31.3 354.8 29.1 355.7 28.4 356.6 29.5 357.5 28.1 358.4 27.8 359.3 28.5 360.2 27.3 361.1 24.6 362 27.7 362.9 28.1 363.8 27 364.7 25.8 365.6 27.5 366.5 28.3 367.4 28.8 368.3 31.4 369.2 32" stroke="#2238ff" stroke-width="0.85" fill="none" stroke-linejoin="round"/>
<path d="M293.5 54V57.3M293.1 54h0.9M293.1 57.3h0.9M298.6 32V39.7M298.2 32h0.9M298.2 39.7h0.9M303 34.2V43M302.6 34.2h0.9M302.6 43h0.9M307.8 36.4V44.1M307.4 36.4h0.9M307.4 44.1h0.9M317.7 34.2V40.8M317.2 34.2h0.9M317.2 40.8h0.9M322.1 27.6V36.4M321.7 27.6h0.9M321.7 36.4h0.9M327.6 27.6V35.3M327.2 27.6h0.9M327.2 35.3h0.9M332 27.6V34.2M331.6 27.6h0.9M331.6 34.2h0.9M336.4 26.5V34.2M335.9 26.5h0.9M335.9 34.2h0.9M341.9 27.6V33.1M341.4 27.6h0.9M341.4 33.1h0.9M350.7 34.2V40.8M350.2 34.2h0.9M350.2 40.8h0.9M359.5 23.2V29.8M359.1 23.2h0.9M359.1 29.8h0.9M365 25.4V32M364.6 25.4h0.9M364.6 32h0.9M369.4 23.2V32M368.9 23.2h0.9M368.9 32h0.9" stroke="#1e1e1e" stroke-width="0.55" fill="none"/>
<path d="M293.5 55.6h0.01M298.6 35.9h0.01M303 38.6h0.01M307.8 40.2h0.01M317.7 37.5h0.01M322.1 32h0.01M327.6 31.4h0.01M332 30.9h0.01M336.4 30.4h0.01M341.9 30.4h0.01M350.7 37.5h0.01M359.5 26.5h0.01M365 28.7h0.01" stroke="#111" stroke-width="1.1" stroke-linecap="round"/>
<path d="M369.4 27.6h0.01" stroke="#e8312a" stroke-width="1.4" stroke-linecap="round"/>
<text class="st" transform="matrix(.88 0 0 1 358.3 45.6)">Overlap:</text><text class="st" transform="matrix(.88 0 0 1 372.8 45.6)">54.1</text>
<text class="st" transform="matrix(.88 0 0 1 358.3 49.25)">MAPE:</text><text class="st" transform="matrix(.88 0 0 1 372.8 49.25)">15.7</text>
<text class="st" transform="matrix(.88 0 0 1 358.3 52.9)">RMSE:</text><text class="st" transform="matrix(.88 0 0 1 372.8 52.9)">62.8</text>
<text class="st" transform="matrix(.88 0 0 1 358.3 56.55)">Bias:</text><text class="st" transform="matrix(.88 0 0 1 372.8 56.55)">51.2</text>
<text class="st" transform="matrix(.88 0 0 1 358.3 60.2)">Corr:</text><text class="st" transform="matrix(.88 0 0 1 372.8 60.2)">0.516</text>
<path d="M279 83.6 320 81.5 367 79.4 373 83.6Z" fill="#6f6f6f" fill-opacity="0.9"/>
<path d="M268 83.2 269.3 83.1 274.8 82.4 279.2 82 283.6 82 288 79.8 290.2 75.4 292.4 72.1 293.5 68.4 294.6 72.1 296.8 75.4 301.2 75.4 304.5 73.6 307.8 74.3 312.2 76.5 316.6 75.4 321 73.2 325.4 72.1 332 71 338.6 69.2 343 68.8 347.4 68.4 349.2 63.3 350.7 64.4 352.9 68.8 358.4 69.9 362.8 72.1 367.2 76.5 370.5 79.8 374 82.6" stroke="#f3ab3c" stroke-opacity="0.8" stroke-width="0.95" fill="none" stroke-linejoin="round"/>
<path d="M289.1 80.9h0.01M293.5 73.2h0.01M298.6 77.2h0.01M303 75.8h0.01M307.8 75h0.01M312.6 77.2h0.01M317.7 75.8h0.01M322.1 71.4h0.01M327.6 71h0.01M332 70.6h0.01M336 68.8h0.01M340.8 68.8h0.01M350 68.8h0.01M355.1 69.2h0.01M359.5 68.8h0.01M365 67.7h0.01M369.4 72.1h0.01" stroke="#111" stroke-width="1.7" stroke-linecap="square"/>
<path d="M268 91.8 269.3 91.9 277 93.4 288 95.2 299 97.8 310 100.7 321 102.2 332 102.9 343 101.8 354 99.6 365 97.4 374 95.1" stroke="#2ca02c" stroke-width="0.8" fill="none"/>
<path d="M268 90.6 268.9 89.4 269.8 90.6 270.7 91.5 271.6 91.8 272.5 91.2 273.4 93.3 274.3 91.2 275.2 93 276.1 92.9 277 92.8 277.9 93.1 278.8 92 279.7 92.2 280.6 94.4 281.5 94.3 282.4 95.3 283.3 95 284.2 96.1 285.1 96.2 286 96.8 286.9 97.7 287.8 96.9 288.7 100.5 289.6 99.6 290.5 100.6 291.4 104.9 292.3 101.5 293.2 100.7 294.1 100.3 295 103.6 295.9 102.4 296.8 97.6 297.7 97.2 298.6 100.5 299.5 100.4 300.4 99.8 301.3 98.1 302.2 98.2 303.1 99.4 304 98.2 304.9 98.7 305.8 99.8 306.7 100.2 307.6 99 308.5 99.1 309.4 101.2 310.3 101.1 311.2 103.5 312.1 101.4 313 102.7 313.9 103.5 314.8 102.9 315.7 105.7 316.6 103.6 317.5 105.2 318.4 106.7 319.3 106.6 320.2 102.5 321.1 102.6 322 101.7 322.9 103 323.8 102.1 324.7 106 325.6 99.7 326.5 104.5 327.4 105.9 328.3 103.4 329.2 107 330.1 108 331 106 331.9 103.8 332.8 105.6 333.7 101.5 334.6 104.7 335.5 106.4 336.4 104.5 337.3 104.7 338.2 106.8 339.1 108.2 340 106.8 340.9 107.2 341.8 105.7 342.7 108 343.6 106.4 344.5 104.6 345.4 103.3 346.3 102.7 347.2 101.2 348.1 103.6 349 102.2 349.9 102.2 350.8 101.6 351.7 100.5 352.6 102.9 353.5 102 354.4 99.4 355.3 99.5 356.2 96.7 357.1 96.4 358 92.9 358.9 94.7 359.8 94.3 360.7 93.8 361.6 92.5 362.5 93.6 363.4 94.7 364.3 92.6 365.2 92.9 366.1 93.1 367 93.1 367.9 92.3 368.8 91 369.7 90.4 370.6 91.3 371.5 90.6 372.4 90.8 373.3 91.2" stroke="#111" stroke-width="0.7" fill="none" stroke-linejoin="round"/>
<path d="M281.4 114.2 281.9 116.3 282.4 117.9 282.9 119.1 283.4 120 283.9 120.8 284.4 121.4 284.9 121.8 285.4 122.3 285.9 122.6 286.4 122.9 286.9 123.2 287.4 123.4 287.9 123.6 288.4 123.8 288.9 123.9 289.4 124.1 289.9 124.2 290.4 124.4 290.9 124.5 291.4 124.6 291.9 124.7 292.4 124.8 292.9 124.9 293.4 124.9 293.9 125 294.4 125.1 294.9 125.1 295.4 125.2 295.9 125.3 296.4 125.3 296.9 125.4 297.4 125.4 297.9 125.4 298.4 125.5 298.9 125.5 299.4 125.5 299.9 125.6 300.4 125.6 300.9 125.6 301.4 125.7 301.9 125.7 302.4 125.7 302.9 125.7 303.4 125.7 303.9 125.8 304.4 125.8 304.9 125.8 305.4 125.8 305.9 125.8 306.4 125.8 306.9 125.8 307.4 125.9 307.9 125.9 308.4 125.9 308.9 125.9 309.4 125.9 309.9 125.9 310.4 125.9 310.9 125.9 311.4 125.9 311.9 125.9 312.4 125.9 312.9 125.9 313.4 125.9 313.9 125.9 314.4 125.9 314.9 126 315.4 126 315.9 126 316.4 126 316.9 126 317.4 126 317.9 126 318.4 126 318.9 126 319.4 126 319.9 126 320.4 126 320.9 126 321.4 126 325.4 126 329.4 126 333.4 126 337.4 126 341.4 126 345.4 126 349.4 126 353.4 126 357.4 126 361.4 126 365.4 126 369.4 126 372 126" stroke="#444" stroke-width="0.55" stroke-dasharray="1 0.7" fill="none"/>
<path d="M281.4 114.2 281.9 117.9 282.4 120.4 282.9 122.2 283.4 123.5 283.9 124.5 284.4 125.2 284.9 125.8 285.4 126.3 285.9 126.6 286.4 126.9 286.9 127.2 287.4 127.4 287.9 127.6 288.4 127.8 288.9 127.9 289.4 128.1 289.9 128.2 290.4 128.3 290.9 128.4 291.4 128.5 291.9 128.6 292.4 128.6 292.9 128.7 293.4 128.8 293.9 128.8 294.4 128.9 294.9 128.9 295.4 128.9 295.9 129 296.4 129 296.9 129 297.4 129.1 297.9 129.1 298.4 129.1 298.9 129.1 299.4 129.1 299.9 129.2 300.4 129.2 300.9 129.2 301.4 129.2 301.9 129.2 302.4 129.2 302.9 129.2 303.4 129.2 303.9 129.2 304.4 129.2 304.9 129.2 305.4 129.3 305.9 129.3 306.4 129.3 306.9 129.3 307.4 129.3 307.9 129.3 308.4 129.3 308.9 129.3 309.4 129.3 309.9 129.3 310.4 129.3 310.9 129.3 311.4 129.3 311.9 129.3 312.4 129.3 312.9 129.3 313.4 129.3 313.9 129.3 314.4 129.3 314.9 129.3 315.4 129.3 315.9 129.3 316.4 129.3 316.9 129.3 317.4 129.3 317.9 129.3 318.4 129.3 318.9 129.3 319.4 129.3 319.9 129.3 320.4 129.3 320.9 129.3 321.4 129.3 325.4 129.3 329.4 129.3 333.4 129.3 337.4 129.3 341.4 129.3 345.4 129.3 349.4 129.3 353.4 129.3 357.4 129.3 361.4 129.3 365.4 129.3 369.4 129.3 372 129.3" stroke="#333" stroke-width="0.6" fill="none"/>
<path d="M267.6 152.4H374.6" stroke="#555" stroke-width="0.4" stroke-dasharray="1 0.8"/>
<path d="M268 154.5 268.8 154.3 269.6 154.8 270.4 153.7 271.2 154 272 153.2 272.8 154 273.6 154 274.4 154.3 275.2 153.6 276 153.5 276.8 153.1 277.6 153 278.4 153.5 279.2 153.3 280 153.7 280.8 154.5 281.6 154.4 282.4 153.3 283.2 153.3 284 152.2 284.8 151.4 285.6 151.1 286.4 150.4 287.2 150 288 149.5 288.8 150.3 289.6 149.9 290.4 149.6 291.2 149.6 292 150.1 292.8 149.4 293.6 148.8 294.4 149.7 295.2 148.5 296 148.3 296.8 148.5 297.6 149.1 298.4 148.2 299.2 147 300 147.6 300.8 147.4 301.6 147.2 302.4 147.4 303.2 147.3 304 147.3 304.8 147 305.6 147.4 306.4 147.7 307.2 147.2 308 146.7 308.8 146.9 309.6 146.9 310.4 146.2 311.2 146.1 312 146.6 312.8 146.3 313.6 146.1 314.4 146.1 315.2 146 316 145.9 316.8 145.1 317.6 146 318.4 145.9 319.2 145.4 320 145.8 320.8 145.7 321.6 145.5 322.4 145.8 323.2 146.4 324 146.1 324.8 146.3 325.6 146.6 326.4 145.5 327.2 145.1 328 145.4 328.8 144.6 329.6 144.7 330.4 145.4 331.2 145.6 332 145.5 332.8 144.6 333.6 145.8 334.4 145.7 335.2 145.8 336 145.8 336.8 144.9 337.6 144.6 338.4 144.6 339.2 145.8 340 145.4 340.8 145.5 341.6 145.5 342.4 145.9 343.2 146.1 344 146 344.8 145.4 345.6 144.4 346.4 145.2 347.2 145.6 348 146.2 348.8 145.9 349.6 145.6 350.4 145.9 351.2 145.2 352 145.1 352.8 145.1 353.6 145.5 354.4 146.6 355.2 146.8 356 147.1 356.8 147 357.6 147.1 358.4 147 359.2 147.1 360 146.4 360.8 146.6 361.6 146.3 362.4 146.8 363.2 146.9 364 147 364.8 147.1 365.6 146.2 366.4 146.2 367.2 146.4 368 146.2 368.8 146.6 369.6 146.5 370.4 146 371.2 147.8 372 149.4 372.8 151.4 373.6 153.1" stroke="#b03cc0" stroke-width="0.75" fill="none" stroke-linejoin="round"/>
<path d="M267.6 17.9V13.1H374.6V17.9M267.6 17.9V61.8M374.6 17.9V61.8M267.6 61.8V83.9M374.6 61.8V83.9M267.6 86.3V110.7M374.6 86.3V110.7M267.6 110.7V135.9M374.6 110.7V135.9M267.6 135.9V159.2M374.6 135.9V159.2M267.6 13.1H374.6" stroke="#808080" stroke-width="0.8" fill="none"/>
<path d="M267.6 17.9H374.6M267.6 61.8H374.6M267.6 83.9H374.6M267.6 86.3H374.6M267.6 110.7H374.6M267.6 135.9H374.6M267.6 159.2H374.6" stroke="#7a7a7a" stroke-width="1.35" fill="none"/>
<path d="M269.9 17.2v1.4M289.04 17.2v1.4M308.18 17.2v1.4M327.32 17.2v1.4M346.46 17.2v1.4M365.6 17.2v1.4M269.9 61.1v1.4M289.04 61.1v1.4M308.18 61.1v1.4M327.32 61.1v1.4M346.46 61.1v1.4M365.6 61.1v1.4M266.3 24.2h1.3M266.3 29.5h1.3M266.3 34.8h1.3M266.3 40.1h1.3M266.3 45.4h1.3M266.3 50.7h1.3M266.3 56h1.3M269.9 83.2v1.4M289.04 83.2v1.4M308.18 83.2v1.4M327.32 83.2v1.4M346.46 83.2v1.4M365.6 83.2v1.4M266.3 64.5h1.3M266.3 68.34h1.3M266.3 72.18h1.3M266.3 76.02h1.3M266.3 79.86h1.3M266.3 83.7h1.3M269.9 85.6v1.4M289.04 85.6v1.4M308.18 85.6v1.4M327.32 85.6v1.4M346.46 85.6v1.4M365.6 85.6v1.4M269.9 110v1.4M289.04 110v1.4M308.18 110v1.4M327.32 110v1.4M346.46 110v1.4M365.6 110v1.4M266.3 88.98h1.3M266.3 92.9h1.3M266.3 96.82h1.3M266.3 100.74h1.3M266.3 104.66h1.3M266.3 108.58h1.3M269.9 135.2v1.4M289.04 135.2v1.4M308.18 135.2v1.4M327.32 135.2v1.4M346.46 135.2v1.4M365.6 135.2v1.4M266.3 113.6h1.3M266.3 117.5h1.3M266.3 121.4h1.3M266.3 125.3h1.3M266.3 129.2h1.3M266.3 133.1h1.3M269.9 158.5v1.4M289.04 158.5v1.4M308.18 158.5v1.4M327.32 158.5v1.4M346.46 158.5v1.4M365.6 158.5v1.4M266.3 137.85h1.3M266.3 142.7h1.3M266.3 147.55h1.3M266.3 152.4h1.3M266.3 157.25h1.3M269.9 159.2v1.3M289.04 159.2v1.3M308.18 159.2v1.3M327.32 159.2v1.3M346.46 159.2v1.3M365.6 159.2v1.3" stroke="#1e1e1e" stroke-width="0.75" fill="none"/>
<text class="sd" transform="matrix(.88 0 0 1 292.4 16.7)">0</text>
<text class="sd" transform="matrix(.88 0 0 1 300.65 16.7)">1</text>
<text class="sd" transform="matrix(.88 0 0 1 327.2 16.7)">2</text>
<text class="sd" transform="matrix(.88 0 0 1 345 16.7)">3</text>
<text class="rs" transform="matrix(.88 0 0 1 268.8 16.6)">Refs</text>
<text class="tk" transform="matrix(.88 0 0 1 263.6 25.9)">450</text>
<text class="tk" transform="matrix(.88 0 0 1 263.6 31.2)">400</text>
<text class="tk" transform="matrix(.88 0 0 1 263.6 36.5)">350</text>
<text class="tk" transform="matrix(.88 0 0 1 263.6 41.8)">300</text>
<text class="tk" transform="matrix(.88 0 0 1 263.6 47.1)">250</text>
<text class="tk" transform="matrix(.88 0 0 1 263.6 52.4)">200</text>
<text class="tk" transform="matrix(.88 0 0 1 263.6 57.7)">150</text>
<text class="tk" transform="matrix(.88 0 0 1 263.6 66.2)">50</text>
<text class="tk" transform="matrix(.88 0 0 1 263.6 70.04)">40</text>
<text class="tk" transform="matrix(.88 0 0 1 263.6 73.88)">30</text>
<text class="tk" transform="matrix(.88 0 0 1 263.6 77.72)">20</text>
<text class="tk" transform="matrix(.88 0 0 1 263.6 81.56)">10</text>
<text class="tk" transform="matrix(.88 0 0 1 263.6 85.4)">0</text>
<text class="tk" transform="matrix(.88 0 0 1 263.6 90.68)">10</text>
<text class="tk" transform="matrix(.88 0 0 1 263.6 94.6)">0</text>
<text class="tk" transform="matrix(.88 0 0 1 263.6 98.52)">−10</text>
<text class="tk" transform="matrix(.88 0 0 1 263.6 102.44)">−20</text>
<text class="tk" transform="matrix(.88 0 0 1 263.6 106.36)">−30</text>
<text class="tk" transform="matrix(.88 0 0 1 263.6 110.28)">−40</text>
<text class="tk" transform="matrix(.88 0 0 1 263.6 115.3)">50</text>
<text class="tk" transform="matrix(.88 0 0 1 263.6 119.2)">40</text>
<text class="tk" transform="matrix(.88 0 0 1 263.6 123.1)">30</text>
<text class="tk" transform="matrix(.88 0 0 1 263.6 127)">20</text>
<text class="tk" transform="matrix(.88 0 0 1 263.6 130.9)">10</text>
<text class="tk" transform="matrix(.88 0 0 1 263.6 134.8)">0</text>
<text class="tk" transform="matrix(.88 0 0 1 263.6 139.55)">30</text>
<text class="tk" transform="matrix(.88 0 0 1 263.6 144.4)">20</text>
<text class="tk" transform="matrix(.88 0 0 1 263.6 149.25)">10</text>
<text class="tk" transform="matrix(.88 0 0 1 263.6 154.1)">0</text>
<text class="tk" transform="matrix(.88 0 0 1 263.6 158.95)">−10</text>
<text class="tk xl" transform="matrix(0.9 0 0 1 269.9 165)">Aug 2005</text>
<text class="tk xl" transform="matrix(0.9 0 0 1 289.04 165)">Oct 2005</text>
<text class="tk xl" transform="matrix(0.9 0 0 1 308.18 165)">Dec 2005</text>
<text class="tk xl" transform="matrix(0.9 0 0 1 327.32 165)">Feb 2006</text>
<text class="tk xl" transform="matrix(0.9 0 0 1 346.46 165)">Apr 2006</text>
<text class="tk xl" transform="matrix(0.9 0 0 1 365.6 165)">Jun 2006</text>
<text class="ti" transform="matrix(0.9 0 0 1 441.65 9)">Alert 2006-07</text>
<rect x="388.4" y="13.1" width="106.5" height="4.8" fill="#b9b9b9"/>
<path d="M388.9 13.8H396.4V17.1H388.9ZM397.4 13.8H401.9V17.1H397.4ZM402.9 13.8H404.1V17.1H402.9ZM405.1 13.8H408.5V17.1H405.1ZM409.5 13.8H410.7V17.1H409.5ZM411.7 13.8H414V17.1H411.7ZM415 13.8H417.3V17.1H415ZM418.3 13.8H431.6V17.1H418.3ZM432.6 13.8H441.1V17.1H432.6ZM442.1 13.8H460.2V17.1H442.1ZM461.2 13.8H476.7V17.1H461.2ZM477.7 13.8H486.6V17.1H477.7ZM487.6 13.8H494.4V17.1H487.6Z" fill="#fff"/>
<path d="M388.4 24.2H494.9M388.4 29.5H494.9M388.4 34.8H494.9M388.4 40.1H494.9M388.4 45.4H494.9M388.4 50.7H494.9M388.4 56H494.9M388.4 64.5H494.9M388.4 68.34H494.9M388.4 72.18H494.9M388.4 76.02H494.9M388.4 79.86H494.9M388.4 88.98H494.9M388.4 96.82H494.9M388.4 100.74H494.9M388.4 104.66H494.9M388.4 108.58H494.9M388.4 113.6H494.9M388.4 117.5H494.9M388.4 121.4H494.9M388.4 125.3H494.9M388.4 129.2H494.9M388.4 137.85H494.9M388.4 142.7H494.9M388.4 147.55H494.9M388.4 157.25H494.9" stroke="#d0d0d0" stroke-width="0.75" fill="none"/>
<path d="M390.3 17.9V61.8M409.4 17.9V61.8M428.5 17.9V61.8M447.6 17.9V61.8M466.7 17.9V61.8M485.8 17.9V61.8M390.3 61.8V83.9M409.4 61.8V83.9M428.5 61.8V83.9M447.6 61.8V83.9M466.7 61.8V83.9M485.8 61.8V83.9M390.3 86.3V110.7M409.4 86.3V110.7M428.5 86.3V110.7M447.6 86.3V110.7M466.7 86.3V110.7M485.8 86.3V110.7M390.3 110.7V135.9M409.4 110.7V135.9M428.5 110.7V135.9M447.6 110.7V135.9M466.7 110.7V135.9M485.8 110.7V135.9M390.3 135.9V159.2M409.4 135.9V159.2M428.5 135.9V159.2M447.6 135.9V159.2M466.7 135.9V159.2M485.8 135.9V159.2" stroke="#b4b4b4" stroke-width="0.65" fill="none"/>
<path d="M396.6 17.9V61.8M405.5 17.9V61.8M412.3 17.9V61.8M419.5 17.9V61.8M477.1 17.9V61.8M396.6 61.8V83.9M405.5 61.8V83.9M412.3 61.8V83.9M419.5 61.8V83.9M477.1 61.8V83.9M396.6 86.3V110.7M405.5 86.3V110.7M412.3 86.3V110.7M419.5 86.3V110.7M477.1 86.3V110.7M396.6 110.7V135.9M405.5 110.7V135.9M412.3 110.7V135.9M419.5 110.7V135.9M477.1 110.7V135.9M396.6 135.9V159.2M405.5 135.9V159.2M412.3 135.9V159.2M419.5 135.9V159.2M477.1 135.9V159.2" stroke="#5a5a5a" stroke-width="0.5" stroke-dasharray="0.75 0.85" fill="none"/>
<path d="M388.4 133.1H494.9M388.4 92.9H494.9" stroke="#a0a0a0" stroke-width="0.45" stroke-dasharray="1 0.8"/>
<path d="M400.5 33 404 31 406 52 402 56Z" fill="#b3e2f2"/>
<path d="M408.5 29.4 412 29.4 412 38.5 408.5 40Z" fill="#b3e2f2"/>
<path d="M425.5 28.1 426.4 26.3 427.3 26.7 428.2 25.5 429.1 26.3 430 26.1 430.9 26.6 431.9 25.9 432.8 26.5 433.7 26.4 434.6 26.8 435.5 27 436.4 24.5 437.3 26.8 438.2 27.4 439.1 25.1 440 25.7 440.9 27.3 441.8 26.4 442.7 25.9 443.6 27.2 444.6 25.9 445.5 25.5 446.4 26.7 447.3 27.2 448.2 26.6 449.1 26.3 450 26.8 450.9 26.1 451.8 26.7 452.7 27.2 453.6 26.5 454.5 26.4 455.5 26.6 456.4 27.4 457.3 26.5 458.2 27.4 459.1 26.1 460 26.5 460.9 26.3 461.8 26.2 462.7 27.6 463.6 26.9 464.5 26.5 465.5 26.2 466.4 26.6 467.3 26.6 468.2 26 469.1 25.6 470 26.6 470.9 26.7 471.8 26.6 472.8 25.9 473.7 26.2 474.6 26.3 475.5 26.8 476.4 26.1 477.4 26.8 478.3 26.4 479.2 27 480.1 25.4 481 26.3 481.9 26.8 482.9 27.2 483.8 27 484.7 25.9 485.6 25.1 486.5 24.8 487.5 26.6 488.4 25 489.3 26 489.3 36.2 488.4 36.4 487.5 35.1 486.5 35.7 485.6 35.8 484.7 35.1 483.8 36.1 482.9 35 481.9 36.6 481 34.6 480.1 35.4 479.2 36.4 478.3 34.9 477.4 35.6 476.4 37.4 475.5 34.5 474.6 34.7 473.7 35.8 472.8 35.9 471.8 35.7 470.9 35.8 470 35.3 469.1 36.1 468.2 36.2 467.3 36.8 466.4 35.6 465.5 35.5 464.5 35.8 463.6 34.4 462.7 35.1 461.8 35 460.9 35.5 460 34 459.1 35.6 458.2 35.5 457.3 35.2 456.4 35.8 455.5 36 454.5 34.8 453.6 35.7 452.7 34.8 451.8 34.2 450.9 35.8 450 35.9 449.1 35.1 448.2 35.1 447.3 34.7 446.4 35 445.5 35.8 444.6 36 443.6 33.6 442.7 35.7 441.8 35.7 440.9 34.8 440 35.6 439.1 35.7 438.2 35.5 437.3 35.3 436.4 35.7 435.5 35.9 434.6 36.1 433.7 35.2 432.8 35.5 431.9 34.9 430.9 35.6 430 35.1 429.1 34.8 428.2 34.5 427.3 34.9 426.4 35.2 425.5 35.3Z" fill="#b3e2f2"/>
<path d="M401.3 55.1 402 34 403.5 33.5 404.5 45 405.2 55.1 406 50 408 46 410 40 412 38 414.2 37" stroke="#2238ff" stroke-width="0.85" fill="none" stroke-linejoin="round"/>
<path d="M425.5 31.6 426.4 32.7 427.3 31.5 428.2 32.4 429.1 30.8 430 31.6 430.9 30.3 431.8 31.2 432.7 30.9 433.6 31.9 434.5 31.4 435.4 31.1 436.3 31.4 437.2 31 438.1 34.3 439 31.1 439.9 32.3 440.8 33 441.7 32.1 442.6 30.8 443.5 32.6 444.4 34.2 445.3 34.5 446.2 32 447.1 32.7 448 33.2 448.9 34.9 449.8 32.1 450.7 31.4 451.6 32.9 452.5 30.3 453.4 31 454.3 29.7 455.2 31.3 456.1 30.9 457 30.8 457.9 32.1 458.8 32 459.7 31.6 460.6 31 461.5 30.7 462.4 30.1 463.3 31.9 464.2 32.6 465.1 31.4 466 30.4 466.9 30 467.8 31.5 468.7 32.4 469.6 32.5 470.5 30.6 471.4 30.8 472.3 30.7 473.2 33.3 474.1 32.5 475 30.4 475.9 31.5 476.8 31.4 477.7 31.3 478.6 31.7 479.5 30.8 480.4 30.5 481.3 32.3 482.2 34 483.1 30.4 484 29.3 484.9 30.7 485.8 28.5 486.7 25.8 487.6 27 488.5 27.9 489.4 26.8 490.3 31.2" stroke="#2238ff" stroke-width="0.85" fill="none" stroke-linejoin="round"/>
<path d="M410.1 34.2V45.2M409.7 34.2h0.9M409.7 45.2h0.9M413.8 18.8V33.1M413.4 18.8h0.9M413.4 33.1h0.9M420.4 26.5V34.2M419.9 26.5h0.9M419.9 34.2h0.9M423.3 17.7V28.7M422.9 17.7h0.9M422.9 28.7h0.9M428.8 30.9V40.8M428.4 30.9h0.9M428.4 40.8h0.9M433.2 26.5V36.4M432.8 26.5h0.9M432.8 36.4h0.9M438 25.4V35.3M437.6 25.4h0.9M437.6 35.3h0.9M444.2 24.3V34.2M443.8 24.3h0.9M443.8 34.2h0.9M449.7 26.5V36.4M449.2 26.5h0.9M449.2 36.4h0.9M454.1 27.6V35.3M453.7 27.6h0.9M453.7 35.3h0.9M459.6 25.4V34.2M459.2 25.4h0.9M459.2 34.2h0.9M466.2 24.3V33.1M465.8 24.3h0.9M465.8 33.1h0.9M470.6 26.5V36.4M470.2 26.5h0.9M470.2 36.4h0.9M476.1 29.8V37.5M475.7 29.8h0.9M475.7 37.5h0.9M484.9 25.4V34.2M484.4 25.4h0.9M484.4 34.2h0.9M489.3 29.8V34.2M488.9 29.8h0.9M488.9 34.2h0.9" stroke="#1e1e1e" stroke-width="0.55" fill="none"/>
<path d="M410.1 39.7h0.01M413.8 26h0.01M420.4 30.4h0.01M423.3 23.2h0.01M428.8 35.8h0.01M433.2 31.4h0.01M438 30.3h0.01M444.2 29.2h0.01M449.7 31.4h0.01M454.1 31.4h0.01M459.6 29.8h0.01M466.2 28.7h0.01M470.6 31.4h0.01M476.1 33.6h0.01M484.9 29.8h0.01" stroke="#111" stroke-width="1.1" stroke-linecap="round"/>
<path d="M489.3 32h0.01" stroke="#e8312a" stroke-width="1.4" stroke-linecap="round"/>
<text class="st" transform="matrix(.88 0 0 1 478.6 45.6)">Overlap:</text><text class="st" transform="matrix(.88 0 0 1 493.1 45.6)">76.1</text>
<text class="st" transform="matrix(.88 0 0 1 478.6 49.25)">MAPE:</text><text class="st" transform="matrix(.88 0 0 1 493.1 49.25)">6.1</text>
<text class="st" transform="matrix(.88 0 0 1 478.6 52.9)">RMSE:</text><text class="st" transform="matrix(.88 0 0 1 493.1 52.9)">28.5</text>
<text class="st" transform="matrix(.88 0 0 1 478.6 56.55)">Bias:</text><text class="st" transform="matrix(.88 0 0 1 493.1 56.55)">3.4</text>
<text class="st" transform="matrix(.88 0 0 1 478.6 60.2)">Corr:</text><text class="st" transform="matrix(.88 0 0 1 493.1 60.2)">0.598</text>
<path d="M395.8 84 450 79.9 491 79.3 494.5 84Z" fill="#6f6f6f" fill-opacity="0.9"/>
<path d="M389 83.2 390.3 83.1 395.8 82 399.1 78.7 403.5 77.6 406.8 75.4 409 73.6 411.2 77.6 414.5 82 417.8 80.9 422.2 79.8 425.5 78.7 426.6 69.9 431 68.8 437.6 69.9 439.8 72.1 442 71 448.6 69.9 455.2 69.9 461.8 68.8 468.4 66.6 475 64.8 481.6 64.4 487.1 64 489.3 71 491.5 77.6 494.6 82.2" stroke="#f3ab3c" stroke-opacity="0.8" stroke-width="0.95" fill="none" stroke-linejoin="round"/>
<path d="M409 76.5h0.01M413.8 77.2h0.01M420.4 76.5h0.01M423.3 76.5h0.01M428.8 75.4h0.01M433.2 74.3h0.01M438 72.8h0.01M442.4 67.7h0.01M447.5 68.8h0.01M452.6 67.7h0.01M457 67.7h0.01M461.4 68.4h0.01M466.6 66.6h0.01M470.6 64.8h0.01M476.1 64h0.01M480.5 64.4h0.01M485.6 63.3h0.01M489.7 64.4h0.01" stroke="#111" stroke-width="1.7" stroke-linecap="square"/>
<path d="M389 91.8 390.3 91.9 398 93 409 95.2 420 98.5 431 100.7 442 101.8 453 102.2 464 101.4 475 99.6 486 97.4 494.6 96.3" stroke="#2ca02c" stroke-width="0.8" fill="none"/>
<path d="M389 89.9 389.9 91.9 390.8 93.1 391.7 90.6 392.6 91.3 393.5 91.4 394.4 90.4 395.3 91.7 396.2 92 397.1 93.5 398 92.7 398.9 93.7 399.8 92.4 400.7 94.4 401.6 92.6 402.5 94.2 403.4 93.8 404.3 94.9 405.2 93.5 406.1 94.3 407 94.2 407.9 95.6 408.8 96.2 409.7 97 410.6 98.3 411.5 100.2 412.4 101.4 413.3 99.1 414.2 99.9 415.1 99.6 416 98.6 416.9 101.1 417.8 100.3 418.7 102.1 419.6 102.3 420.5 103.9 421.4 106 422.3 103.1 423.2 103.8 424.1 103.6 425 102.6 425.9 103.6 426.8 105.9 427.7 107.5 428.6 105 429.5 105.4 430.4 106.1 431.3 106.6 432.2 109.5 433.1 106.3 434 107.9 434.9 103.2 435.8 105.6 436.7 105.8 437.6 107.1 438.5 105.7 439.4 103.8 440.3 106.9 441.2 104.7 442.1 108.9 443 105.7 443.9 103.2 444.8 107.2 445.7 104.1 446.6 103.8 447.5 102.8 448.4 104.4 449.3 103.2 450.2 103.1 451.1 107.1 452 106.3 452.9 104.1 453.8 104.6 454.7 105.3 455.6 108.8 456.5 104 457.4 106.2 458.3 104.2 459.2 103.5 460.1 104.4 461 105.4 461.9 101.3 462.8 103.3 463.7 102.6 464.6 102.5 465.5 102.9 466.4 100.1 467.3 96.3 468.2 96.4 469.1 97.2 470 96.6 470.9 97.8 471.8 97.3 472.7 99.4 473.6 98.7 474.5 100.7 475.4 98.5 476.3 100.8 477.2 97.4 478.1 95.8 479 96.3 479.9 93 480.8 96.3 481.7 96.5 482.6 95.1 483.5 97.1 484.4 94.8 485.3 95.6 486.2 96.4 487.1 96.4 488 95.1 488.9 93.5 489.8 93.8 490.7 94.6 491.6 92.5 492.5 90 493.4 91 494.3 93.8" stroke="#111" stroke-width="0.7" fill="none" stroke-linejoin="round"/>
<path d="M396.5 117.4 397 119.4 397.5 120.8 398 121.8 398.5 122.5 399 123 399.5 123.4 400 123.7 400.5 124 401 124.2 401.5 124.4 402 124.6 402.5 124.7 403 124.8 403.5 125 404 125.1 404.5 125.2 405 125.2 405.5 125.3 406 125.4 406.5 125.4 407 125.5 407.5 125.5 408 125.6 408.5 125.6 409 125.7 409.5 125.7 410 125.7 410.5 125.8 411 125.8 411.5 125.8 412 125.8 412.5 125.8 413 125.9 413.5 125.9 414 125.9 414.5 125.9 415 125.9 415.5 125.9 416 125.9 416.5 125.9 417 125.9 417.5 125.9 418 125.9 418.5 126 419 126 419.5 126 420 126 420.5 126 421 126 421.5 126 422 126 422.5 126 423 126 423.5 126 424 126 424.5 126 425 126 425.5 126 426 126 426.5 126 427 126 427.5 126 428 126 428.5 126 429 126 429.5 126 430 126 430.5 126 431 126 431.5 126 432 126 432.5 126 433 126 433.5 126 434 126 434.5 126 435 126 435.5 126 436 126 436.5 126 440.5 126 444.5 126 448.5 126 452.5 126 456.5 126 460.5 126 464.5 126 468.5 126 472.5 126 476.5 126 480.5 126 484.5 126 488.5 126 492.5 126 494.5 126" stroke="#444" stroke-width="0.55" stroke-dasharray="1 0.7" fill="none"/>
<path d="M396.5 117.4 397 121.2 397.5 123.6 398 125 398.5 126 399 126.6 399.5 127.1 400 127.4 400.5 127.7 401 128 401.5 128.1 402 128.3 402.5 128.4 403 128.6 403.5 128.7 404 128.7 404.5 128.8 405 128.9 405.5 128.9 406 129 406.5 129 407 129.1 407.5 129.1 408 129.1 408.5 129.1 409 129.2 409.5 129.2 410 129.2 410.5 129.2 411 129.2 411.5 129.2 412 129.2 412.5 129.3 413 129.3 413.5 129.3 414 129.3 414.5 129.3 415 129.3 415.5 129.3 416 129.3 416.5 129.3 417 129.3 417.5 129.3 418 129.3 418.5 129.3 419 129.3 419.5 129.3 420 129.3 420.5 129.3 421 129.3 421.5 129.3 422 129.3 422.5 129.3 423 129.3 423.5 129.3 424 129.3 424.5 129.3 425 129.3 425.5 129.3 426 129.3 426.5 129.3 427 129.3 427.5 129.3 428 129.3 428.5 129.3 429 129.3 429.5 129.3 430 129.3 430.5 129.3 431 129.3 431.5 129.3 432 129.3 432.5 129.3 433 129.3 433.5 129.3 434 129.3 434.5 129.3 435 129.3 435.5 129.3 436 129.3 436.5 129.3 440.5 129.3 444.5 129.3 448.5 129.3 452.5 129.3 456.5 129.3 460.5 129.3 464.5 129.3 468.5 129.3 472.5 129.3 476.5 129.3 480.5 129.3 484.5 129.3 488.5 129.3 492.5 129.3 494.5 129.3" stroke="#333" stroke-width="0.6" fill="none"/>
<path d="M388.4 152.4H494.9" stroke="#555" stroke-width="0.4" stroke-dasharray="1 0.8"/>
<path d="M389 155.5 389.8 154.7 390.6 154.7 391.4 155 392.2 155.6 393 155.3 393.8 154.5 394.6 154.8 395.4 154.4 396.2 154.9 397 154.2 397.8 154.5 398.6 153.7 399.4 152.7 400.2 151.7 401 151.3 401.8 151.2 402.6 151.1 403.4 150.2 404.2 149 405 148.4 405.8 147.1 406.6 147.1 407.4 146.4 408.2 146.7 409 146.4 409.8 146.2 410.6 145.5 411.4 145.7 412.2 145.7 413 145.3 413.8 145.2 414.6 146 415.4 145.9 416.2 146.3 417 146.9 417.8 146.2 418.6 146.9 419.4 146.8 420.2 146 421 145.4 421.8 144.9 422.6 145.4 423.4 144.4 424.2 145.2 425 145.3 425.8 145 426.6 144.9 427.4 144.9 428.2 144.9 429 145.3 429.8 144.8 430.6 145.3 431.4 145.5 432.2 145.1 433 145.1 433.8 144.7 434.6 144.6 435.4 144.8 436.2 145.3 437 144.8 437.8 144.5 438.6 144.3 439.4 144.1 440.2 143.7 441 144.5 441.8 143.9 442.6 143.7 443.4 143.5 444.2 143.9 445 145 445.8 145.6 446.6 145 447.4 144.5 448.2 144.1 449 143.5 449.8 143.9 450.6 143.7 451.4 144.5 452.2 143.9 453 143.4 453.8 142.7 454.6 142.4 455.4 143.2 456.2 143.5 457 143 457.8 142.6 458.6 143.1 459.4 143.1 460.2 143.3 461 143.3 461.8 143 462.6 142.4 463.4 142.9 464.2 143.1 465 143.3 465.8 143.7 466.6 143.9 467.4 143.5 468.2 143.7 469 142.8 469.8 143.5 470.6 143.6 471.4 144 472.2 144.3 473 143.7 473.8 143.7 474.6 144.3 475.4 143.9 476.2 144 477 143.8 477.8 144.1 478.6 144.2 479.4 143.9 480.2 143.5 481 143 481.8 143.9 482.6 143.9 483.4 143.9 484.2 144 485 144.2 485.8 145.1 486.6 145.7 487.4 145 488.2 145.7 489 146.2 489.8 147 490.6 148.2 491.4 149.9 492.2 150.8 493 152.5 493.8 154.3 494.6 155.1" stroke="#b03cc0" stroke-width="0.75" fill="none" stroke-linejoin="round"/>
<path d="M388.4 17.9V13.1H494.9V17.9M388.4 17.9V61.8M494.9 17.9V61.8M388.4 61.8V83.9M494.9 61.8V83.9M388.4 86.3V110.7M494.9 86.3V110.7M388.4 110.7V135.9M494.9 110.7V135.9M388.4 135.9V159.2M494.9 135.9V159.2M388.4 13.1H494.9" stroke="#808080" stroke-width="0.8" fill="none"/>
<path d="M388.4 17.9H494.9M388.4 61.8H494.9M388.4 83.9H494.9M388.4 86.3H494.9M388.4 110.7H494.9M388.4 135.9H494.9M388.4 159.2H494.9" stroke="#7a7a7a" stroke-width="1.35" fill="none"/>
<path d="M390.3 17.2v1.4M409.4 17.2v1.4M428.5 17.2v1.4M447.6 17.2v1.4M466.7 17.2v1.4M485.8 17.2v1.4M390.3 61.1v1.4M409.4 61.1v1.4M428.5 61.1v1.4M447.6 61.1v1.4M466.7 61.1v1.4M485.8 61.1v1.4M387.1 24.2h1.3M387.1 29.5h1.3M387.1 34.8h1.3M387.1 40.1h1.3M387.1 45.4h1.3M387.1 50.7h1.3M387.1 56h1.3M390.3 83.2v1.4M409.4 83.2v1.4M428.5 83.2v1.4M447.6 83.2v1.4M466.7 83.2v1.4M485.8 83.2v1.4M387.1 64.5h1.3M387.1 68.34h1.3M387.1 72.18h1.3M387.1 76.02h1.3M387.1 79.86h1.3M387.1 83.7h1.3M390.3 85.6v1.4M409.4 85.6v1.4M428.5 85.6v1.4M447.6 85.6v1.4M466.7 85.6v1.4M485.8 85.6v1.4M390.3 110v1.4M409.4 110v1.4M428.5 110v1.4M447.6 110v1.4M466.7 110v1.4M485.8 110v1.4M387.1 88.98h1.3M387.1 92.9h1.3M387.1 96.82h1.3M387.1 100.74h1.3M387.1 104.66h1.3M387.1 108.58h1.3M390.3 135.2v1.4M409.4 135.2v1.4M428.5 135.2v1.4M447.6 135.2v1.4M466.7 135.2v1.4M485.8 135.2v1.4M387.1 113.6h1.3M387.1 117.5h1.3M387.1 121.4h1.3M387.1 125.3h1.3M387.1 129.2h1.3M387.1 133.1h1.3M390.3 158.5v1.4M409.4 158.5v1.4M428.5 158.5v1.4M447.6 158.5v1.4M466.7 158.5v1.4M485.8 158.5v1.4M387.1 137.85h1.3M387.1 142.7h1.3M387.1 147.55h1.3M387.1 152.4h1.3M387.1 157.25h1.3M390.3 159.2v1.3M409.4 159.2v1.3M428.5 159.2v1.3M447.6 159.2v1.3M466.7 159.2v1.3M485.8 159.2v1.3" stroke="#1e1e1e" stroke-width="0.75" fill="none"/>
<text class="sd" transform="matrix(.88 0 0 1 424.95 16.7)">0</text>
<text class="sd" transform="matrix(.88 0 0 1 436.85 16.7)">1</text>
<text class="sd" transform="matrix(.88 0 0 1 451.15 16.7)">2</text>
<text class="sd" transform="matrix(.88 0 0 1 468.95 16.7)">3</text>
<text class="rs" transform="matrix(.88 0 0 1 389.6 16.6)">Refs</text>
<text class="tk" transform="matrix(.88 0 0 1 384.4 25.9)">450</text>
<text class="tk" transform="matrix(.88 0 0 1 384.4 31.2)">400</text>
<text class="tk" transform="matrix(.88 0 0 1 384.4 36.5)">350</text>
<text class="tk" transform="matrix(.88 0 0 1 384.4 41.8)">300</text>
<text class="tk" transform="matrix(.88 0 0 1 384.4 47.1)">250</text>
<text class="tk" transform="matrix(.88 0 0 1 384.4 52.4)">200</text>
<text class="tk" transform="matrix(.88 0 0 1 384.4 57.7)">150</text>
<text class="tk" transform="matrix(.88 0 0 1 384.4 66.2)">50</text>
<text class="tk" transform="matrix(.88 0 0 1 384.4 70.04)">40</text>
<text class="tk" transform="matrix(.88 0 0 1 384.4 73.88)">30</text>
<text class="tk" transform="matrix(.88 0 0 1 384.4 77.72)">20</text>
<text class="tk" transform="matrix(.88 0 0 1 384.4 81.56)">10</text>
<text class="tk" transform="matrix(.88 0 0 1 384.4 85.4)">0</text>
<text class="tk" transform="matrix(.88 0 0 1 384.4 90.68)">10</text>
<text class="tk" transform="matrix(.88 0 0 1 384.4 94.6)">0</text>
<text class="tk" transform="matrix(.88 0 0 1 384.4 98.52)">−10</text>
<text class="tk" transform="matrix(.88 0 0 1 384.4 102.44)">−20</text>
<text class="tk" transform="matrix(.88 0 0 1 384.4 106.36)">−30</text>
<text class="tk" transform="matrix(.88 0 0 1 384.4 110.28)">−40</text>
<text class="tk" transform="matrix(.88 0 0 1 384.4 115.3)">50</text>
<text class="tk" transform="matrix(.88 0 0 1 384.4 119.2)">40</text>
<text class="tk" transform="matrix(.88 0 0 1 384.4 123.1)">30</text>
<text class="tk" transform="matrix(.88 0 0 1 384.4 127)">20</text>
<text class="tk" transform="matrix(.88 0 0 1 384.4 130.9)">10</text>
<text class="tk" transform="matrix(.88 0 0 1 384.4 134.8)">0</text>
<text class="tk" transform="matrix(.88 0 0 1 384.4 139.55)">30</text>
<text class="tk" transform="matrix(.88 0 0 1 384.4 144.4)">20</text>
<text class="tk" transform="matrix(.88 0 0 1 384.4 149.25)">10</text>
<text class="tk" transform="matrix(.88 0 0 1 384.4 154.1)">0</text>
<text class="tk" transform="matrix(.88 0 0 1 384.4 158.95)">−10</text>
<text class="tk xl" transform="matrix(0.9 0 0 1 390.3 165)">Aug 2006</text>
<text class="tk xl" transform="matrix(0.9 0 0 1 409.4 165)">Oct 2006</text>
<text class="tk xl" transform="matrix(0.9 0 0 1 428.5 165)">Dec 2006</text>
<text class="tk xl" transform="matrix(0.9 0 0 1 447.6 165)">Feb 2007</text>
<text class="tk xl" transform="matrix(0.9 0 0 1 466.7 165)">Apr 2007</text>
<text class="tk xl" transform="matrix(0.9 0 0 1 485.8 165)">Jun 2007</text>
<text class="ti" transform="matrix(0.9 0 0 1 77.35 179.4)">Alert 2008-09</text>
<rect x="22.2" y="183.5" width="110.3" height="4.8" fill="#b9b9b9"/>
<path d="M22.7 184.2H38.7V187.6H22.7ZM39.7 184.2H58.1V187.6H39.7ZM59.1 184.2H77V187.6H59.1ZM78 184.2H95.7V187.6H78ZM96.7 184.2H114V187.6H96.7ZM115 184.2H124.2V187.6H115ZM125.2 184.2H132V187.6H125.2Z" fill="#fff"/>
<path d="M22.2 194.6H132.5M22.2 199.9H132.5M22.2 205.2H132.5M22.2 210.5H132.5M22.2 215.8H132.5M22.2 221.1H132.5M22.2 226.4H132.5M22.2 234.9H132.5M22.2 238.74H132.5M22.2 242.58H132.5M22.2 246.42H132.5M22.2 250.26H132.5M22.2 259.38H132.5M22.2 267.22H132.5M22.2 271.14H132.5M22.2 275.06H132.5M22.2 278.98H132.5M22.2 284H132.5M22.2 287.9H132.5M22.2 291.8H132.5M22.2 295.7H132.5M22.2 299.6H132.5M22.2 308.25H132.5M22.2 313.1H132.5M22.2 317.95H132.5M22.2 327.65H132.5" stroke="#d0d0d0" stroke-width="0.75" fill="none"/>
<path d="M24.2 188.3V232.2M43.88 188.3V232.2M63.56 188.3V232.2M83.24 188.3V232.2M102.92 188.3V232.2M122.6 188.3V232.2M24.2 232.2V254.3M43.88 232.2V254.3M63.56 232.2V254.3M83.24 232.2V254.3M102.92 232.2V254.3M122.6 232.2V254.3M24.2 256.7V281.1M43.88 256.7V281.1M63.56 256.7V281.1M83.24 256.7V281.1M102.92 256.7V281.1M122.6 256.7V281.1M24.2 281.1V306.3M43.88 281.1V306.3M63.56 281.1V306.3M83.24 281.1V306.3M102.92 281.1V306.3M122.6 281.1V306.3M24.2 306.3V329.6M43.88 306.3V329.6M63.56 306.3V329.6M83.24 306.3V329.6M102.92 306.3V329.6M122.6 306.3V329.6" stroke="#b4b4b4" stroke-width="0.65" fill="none"/>
<path d="M28.3 188.3V232.2M39.5 188.3V232.2M76.9 188.3V232.2M114.4 188.3V232.2M28.3 232.2V254.3M39.5 232.2V254.3M76.9 232.2V254.3M114.4 232.2V254.3M28.3 256.7V281.1M39.5 256.7V281.1M76.9 256.7V281.1M114.4 256.7V281.1M28.3 281.1V306.3M39.5 281.1V306.3M76.9 281.1V306.3M114.4 281.1V306.3M28.3 306.3V329.6M39.5 306.3V329.6M76.9 306.3V329.6M114.4 306.3V329.6" stroke="#5a5a5a" stroke-width="0.5" stroke-dasharray="0.75 0.85" fill="none"/>
<path d="M22.2 303.5H132.5M22.2 263.3H132.5" stroke="#a0a0a0" stroke-width="0.45" stroke-dasharray="1 0.8"/>
<path d="M35 210 35.8 202.8 36.8 210.5Z" fill="#b3e2f2"/>
<path d="M44.5 208 45.5 200.5 47.5 200.8 48 208.5Z" fill="#b3e2f2"/>
<path d="M84.8 205.6 85.8 206.4 86.7 204.9 87.6 205.2 88.6 206.1 89.5 205.7 90.5 205.3 91.5 204.6 92.4 204.3 93.3 204.6 94.3 203.7 95.2 204.6 96.2 203 97.2 203.7 98.1 203.5 99 202.3 100 202.3 100.9 202.7 101.9 204.2 102.8 203.3 103.8 201.9 104.7 200.1 105.6 200.9 106.6 201.7 107.5 201.5 108.4 201.5 109.4 201.4 110.3 198.9 111.2 198.9 112.2 200.1 113.1 201.5 114.1 200 115 201.4 115.9 201.1 116.9 198 117.8 200.3 118.8 199.3 119.7 197.4 120.7 199.1 121.6 198.2 122.5 198.8 123.5 197.7 124.4 198.2 125.4 195.6 126.3 195.8 127.3 196.7 128.2 196.5 128.2 198.6 127.3 199.8 126.3 200.4 125.4 200.8 124.4 201.4 123.5 201 122.5 201.3 121.6 202.7 120.7 202.8 119.7 203.1 118.8 202.9 117.8 204.2 116.9 203.3 115.9 204.1 115 205 114.1 204 113.1 205.4 112.2 205.5 111.2 205 110.3 205.5 109.4 204.9 108.4 204.9 107.5 205.8 106.6 207.2 105.6 205.5 104.7 206.6 103.8 207.4 102.8 206.2 101.9 207.4 100.9 207.7 100 207.6 99 207.3 98.1 208.2 97.2 208 96.2 207.8 95.2 207 94.3 209.4 93.3 208.7 92.4 208.2 91.5 208.5 90.5 209.2 89.5 208 88.6 209.9 87.7 210.2 86.7 210.1 85.8 210.1 84.8 210Z" fill="#b3e2f2"/>
<path d="M35.8 209.9 36.7 208.6 37.6 212.6 38.5 213.4 39.4 210.6 40.3 210.5 41.2 207.4 42.1 210.3 43 210 43.9 209.3 44.8 207.8 45.7 207.6 46.6 207.6 47.5 207.2 48.4 206.6 49.3 207 50.2 208 51.1 207.4 52 209.1 52.9 210.1 53.8 207.9 54.7 210.2 55.6 209.2 56.5 209.6 57.4 209.7 58.3 209.5 59.2 209.7 60.1 210.6 61 209.4 61.9 211.8 62.8 209.6 63.7 210.9 64.6 211.4 65.5 209.9 66.4 210.2 67.3 210 68.2 209.4 69.1 209.3 70 212.7 70.9 212.9 71.8 211.2 72.7 211.8 73.6 212.1 74.5 212.2 75.4 212.3 76.3 211.7 77.2 209.7 78.1 211.3 79 208.1 79.9 210.2 80.8 209.3 81.7 208.6 82.6 210.2 83.5 207.9 84.4 210 85.3 208.1 86.2 208.4 87.1 207.4 88 206.4 88.9 209.2 89.8 209 90.7 206.5 91.6 205.8 92.5 204.7 93.4 206 94.3 206.6 95.2 206.7 96.1 203.9 97 203.7 97.9 202.3 98.8 203.9 99.7 204.5 100.6 203.1 101.5 202.8 102.4 205.6 103.3 204.6 104.2 205.6 105.1 205.2 106 204.6 106.9 205.6 107.8 206.4 108.7 206.2 109.6 205.6 110.5 205.8 111.4 205.9 112.3 205.5 113.2 205.5 114.1 203.1 115 202.1 115.9 200.6 116.8 199 117.7 198.1 118.6 199.2 119.5 200 120.4 200.2 121.3 197.3 122.2 196.2 123.1 195.7 124 195.8 124.9 195.8 125.8 195.2 126.7 193.7 127.6 195.6 128.5 195.1 129.4 193.8" stroke="#2238ff" stroke-width="0.85" fill="none" stroke-linejoin="round"/>
<path d="M44.3 208.5V216.5M43.8 208.5h0.9M43.8 216.5h0.9M48.4 210.8V216.5M47.9 210.8h0.9M47.9 216.5h0.9M54.1 201.7V208.5M53.6 201.7h0.9M53.6 208.5h0.9M58.6 203.9V210.8M58.1 203.9h0.9M58.1 210.8h0.9M63.2 205.1V211.9M62.8 205.1h0.9M62.8 211.9h0.9M68.4 201.7V208.5M68 201.7h0.9M68 208.5h0.9M78 207.4V214.2M77.5 207.4h0.9M77.5 214.2h0.9M83.7 206.2V211.9M83.2 206.2h0.9M83.2 211.9h0.9M88.3 206.2V213.1M87.8 206.2h0.9M87.8 213.1h0.9M92.8 200.5V207.4M92.3 200.5h0.9M92.3 207.4h0.9M97.4 200.5V207.4M97 200.5h0.9M97 207.4h0.9M101.9 201.7V208.5M101.5 201.7h0.9M101.5 208.5h0.9M106.5 201.7V208.5M106 201.7h0.9M106 208.5h0.9M112.2 203.9V208.5M111.8 203.9h0.9M111.8 208.5h0.9M117.9 199.4V206.2M117.5 199.4h0.9M117.5 206.2h0.9M122.5 206.2V211.9M122 206.2h0.9M122 211.9h0.9M127 202.8V209.6M126.5 202.8h0.9M126.5 209.6h0.9" stroke="#1e1e1e" stroke-width="0.55" fill="none"/>
<path d="M44.3 212.5h0.01M48.4 213.7h0.01M54.1 205.1h0.01M58.6 207.4h0.01M63.2 208.5h0.01M68.4 205.1h0.01M78 210.8h0.01M83.7 209.1h0.01M88.3 209.6h0.01M92.8 203.9h0.01M97.4 203.9h0.01M101.9 205.1h0.01M106.5 205.1h0.01M112.2 206.2h0.01M117.9 202.8h0.01M122.5 209.1h0.01" stroke="#111" stroke-width="1.1" stroke-linecap="round"/>
<path d="M127 206.2h0.01" stroke="#e8312a" stroke-width="1.4" stroke-linecap="round"/>
<text class="st" transform="matrix(.88 0 0 1 116.2 216)">Overlap:</text><text class="st" transform="matrix(.88 0 0 1 130.7 216)">56.9</text>
<text class="st" transform="matrix(.88 0 0 1 116.2 219.65)">MAPE:</text><text class="st" transform="matrix(.88 0 0 1 130.7 219.65)">13.5</text>
<text class="st" transform="matrix(.88 0 0 1 116.2 223.3)">RMSE:</text><text class="st" transform="matrix(.88 0 0 1 130.7 223.3)">43.5</text>
<text class="st" transform="matrix(.88 0 0 1 116.2 226.95)">Bias:</text><text class="st" transform="matrix(.88 0 0 1 130.7 226.95)">−5.3</text>
<text class="st" transform="matrix(.88 0 0 1 116.2 230.6)">Corr:</text><text class="st" transform="matrix(.88 0 0 1 130.7 230.6)">0.167</text>
<path d="M29 254.1 90 249 132.5 247 132.5 254.1Z" fill="#6f6f6f" fill-opacity="0.9"/>
<path d="M22.8 254 24.4 253.9 27.8 252.8 29 249.4 30.1 252.8 34.7 251.7 39.2 250.5 41.5 249.4 42.7 239.1 43.8 232.7 44.9 233.4 46.1 240.3 49.5 238 55.2 236.8 57.5 234.1 59.8 236.8 64.3 239.1 68.9 238 73.4 240.3 78 239.1 82.6 238 87.1 236.8 91.7 238 96.2 239.1 100.8 236.8 107.6 238 114.5 236.8 121.3 235 123.6 232.7 125.9 238 129.3 242.5 132.5 246" stroke="#f3ab3c" stroke-opacity="0.8" stroke-width="0.95" fill="none" stroke-linejoin="round"/>
<path d="M43.8 240.9h0.01M47.9 239.6h0.01M54.1 241.4h0.01M58.6 241.4h0.01M63.2 240.3h0.01M68.4 239.1h0.01M78 240.3h0.01M83.7 239.1h0.01M88.3 239.1h0.01M92.8 239.6h0.01M97.4 240.3h0.01M101.9 238h0.01M106.5 238h0.01M112.2 237.3h0.01M117.9 235.7h0.01M122.5 234.6h0.01M127 238.7h0.01" stroke="#111" stroke-width="1.7" stroke-linecap="square"/>
<path d="M22.8 260.6 24.4 260.8 32.4 261.9 43.8 263.7 55.2 266.5 66.6 269.2 78 271 89.4 272.9 100.8 273.8 107.6 272.2 116.8 269.9 125.9 267.6 132.5 266" stroke="#2ca02c" stroke-width="0.8" fill="none"/>
<path d="M22.8 260.5 23.7 263.2 24.6 261.1 25.5 262.4 26.4 261.9 27.3 264.3 28.2 262.6 29.1 263.1 30 263.4 30.9 263.8 31.8 262.4 32.7 263.6 33.6 264.1 34.5 264.2 35.4 265.5 36.3 265 37.2 264.3 38.1 264.4 39 264.2 39.9 265.7 40.8 264.4 41.7 266.7 42.6 265.7 43.5 266.2 44.4 264.7 45.3 265.4 46.2 266.6 47.1 267.3 48 266.6 48.9 266 49.8 267.6 50.7 266.9 51.6 266.6 52.5 269.9 53.4 264.8 54.3 269.3 55.2 270.7 56.1 271.8 57 270.4 57.9 268.3 58.8 271.8 59.7 271.9 60.6 272.1 61.5 271.4 62.4 270 63.3 267.4 64.2 270.6 65.1 268.7 66 269.7 66.9 270.1 67.8 270.1 68.7 268.4 69.6 269.5 70.5 272.7 71.4 276.7 72.3 272.2 73.2 275.3 74.1 271.3 75 271.2 75.9 274.8 76.8 272.6 77.7 272.5 78.6 270.8 79.5 269.4 80.4 270.4 81.3 272.4 82.2 272.7 83.1 274.3 84 275.5 84.9 274.1 85.8 275.7 86.7 278.6 87.6 274.5 88.5 274 89.4 273.2 90.3 273.1 91.2 275 92.1 275.5 93 277.4 93.9 276.2 94.8 276.4 95.7 278 96.6 277.7 97.5 276 98.4 276.8 99.3 274.3 100.2 277.3 101.1 276.2 102 275.4 102.9 276.3 103.8 271.6 104.7 274.2 105.6 273.9 106.5 272.7 107.4 269 108.3 269.6 109.2 267.7 110.1 270.5 111 269.9 111.9 267 112.8 268.1 113.7 266.7 114.6 265.9 115.5 266.8 116.4 266.2 117.3 266.3 118.2 265 119.1 266.2 120 265.4 120.9 263.9 121.8 264.6 122.7 263.5 123.6 262.9 124.5 264.6 125.4 263.9 126.3 263.3 127.2 263.7 128.1 263.9 129 262.8 129.9 264.4 130.8 264.6 131.7 263.8" stroke="#111" stroke-width="0.7" fill="none" stroke-linejoin="round"/>
<path d="M28.3 284.8 28.8 286.9 29.3 288.4 29.8 289.6 30.3 290.6 30.8 291.3 31.3 291.9 31.8 292.4 32.3 292.8 32.8 293.1 33.3 293.4 33.8 293.7 34.3 293.9 34.8 294.1 35.3 294.3 35.8 294.5 36.3 294.6 36.8 294.7 37.3 294.9 37.8 295 38.3 295.1 38.8 295.2 39.3 295.3 39.8 295.4 40.3 295.4 40.8 295.5 41.3 295.6 41.8 295.6 42.3 295.7 42.8 295.8 43.3 295.8 43.8 295.9 44.3 295.9 44.8 295.9 45.3 296 45.8 296 46.3 296.1 46.8 296.1 47.3 296.1 47.8 296.1 48.3 296.2 48.8 296.2 49.3 296.2 49.8 296.2 50.3 296.2 50.8 296.3 51.3 296.3 51.8 296.3 52.3 296.3 52.8 296.3 53.3 296.3 53.8 296.3 54.3 296.4 54.8 296.4 55.3 296.4 55.8 296.4 56.3 296.4 56.8 296.4 57.3 296.4 57.8 296.4 58.3 296.4 58.8 296.4 59.3 296.4 59.8 296.4 60.3 296.4 60.8 296.4 61.3 296.4 61.8 296.5 62.3 296.5 62.8 296.5 63.3 296.5 63.8 296.5 64.3 296.5 64.8 296.5 65.3 296.5 65.8 296.5 66.3 296.5 66.8 296.5 67.3 296.5 67.8 296.5 68.3 296.5 72.3 296.5 76.3 296.5 80.3 296.5 84.3 296.5 88.3 296.5 92.3 296.5 96.3 296.5 100.3 296.5 104.3 296.5 108.3 296.5 112.3 296.5 116.3 296.5 120.3 296.5 124.3 296.5 128.3 296.5 132.3 296.5 132.3 296.5" stroke="#444" stroke-width="0.55" stroke-dasharray="1 0.7" fill="none"/>
<path d="M28.3 284.8 28.8 288.4 29.3 290.9 29.8 292.7 30.3 294 30.8 295 31.3 295.7 31.8 296.3 32.3 296.7 32.8 297.1 33.3 297.4 33.8 297.6 34.3 297.8 34.8 298 35.3 298.2 35.8 298.4 36.3 298.5 36.8 298.6 37.3 298.7 37.8 298.8 38.3 298.9 38.8 299 39.3 299 39.8 299.1 40.3 299.2 40.8 299.2 41.3 299.3 41.8 299.3 42.3 299.3 42.8 299.4 43.3 299.4 43.8 299.4 44.3 299.5 44.8 299.5 45.3 299.5 45.8 299.5 46.3 299.5 46.8 299.6 47.3 299.6 47.8 299.6 48.3 299.6 48.8 299.6 49.3 299.6 49.8 299.6 50.3 299.6 50.8 299.6 51.3 299.6 51.8 299.6 52.3 299.7 52.8 299.7 53.3 299.7 53.8 299.7 54.3 299.7 54.8 299.7 55.3 299.7 55.8 299.7 56.3 299.7 56.8 299.7 57.3 299.7 57.8 299.7 58.3 299.7 58.8 299.7 59.3 299.7 59.8 299.7 60.3 299.7 60.8 299.7 61.3 299.7 61.8 299.7 62.3 299.7 62.8 299.7 63.3 299.7 63.8 299.7 64.3 299.7 64.8 299.7 65.3 299.7 65.8 299.7 66.3 299.7 66.8 299.7 67.3 299.7 67.8 299.7 68.3 299.7 72.3 299.7 76.3 299.7 80.3 299.7 84.3 299.7 88.3 299.7 92.3 299.7 96.3 299.7 100.3 299.7 104.3 299.7 108.3 299.7 112.3 299.7 116.3 299.7 120.3 299.7 124.3 299.7 128.3 299.7 132.3 299.7 132.3 299.7" stroke="#333" stroke-width="0.6" fill="none"/>
<path d="M22.2 322.8H132.5" stroke="#555" stroke-width="0.4" stroke-dasharray="1 0.8"/>
<path d="M22.8 327.9 23.6 328 24.4 327.7 25.2 327.1 26 326.4 26.8 326.1 27.6 326.3 28.4 325.9 29.2 325.7 30 325.1 30.8 324.4 31.6 323.5 32.4 322 33.2 321.8 34 321.1 34.8 320.4 35.6 318.8 36.4 317.6 37.2 316.9 38 316.3 38.8 315.8 39.6 315.3 40.4 315.2 41.2 314.5 42 314.6 42.8 314.9 43.6 314.7 44.4 315.1 45.2 314.6 46 314.3 46.8 313.3 47.6 312.4 48.4 312 49.2 311.9 50 312.1 50.8 312 51.6 311.6 52.4 311.1 53.2 311 54 311.6 54.8 311 55.6 311 56.4 311.1 57.2 310.3 58 310.4 58.8 310.9 59.6 309.7 60.4 309.8 61.2 309.8 62 309.5 62.8 309.8 63.6 309.7 64.4 309 65.2 309.5 66 309.7 66.8 309.8 67.6 310 68.4 309.7 69.2 309.4 70 308.6 70.8 308.9 71.6 308.6 72.4 308.4 73.2 308 74 307.9 74.8 308 75.6 308.7 76.4 307.7 77.2 307.4 78 307.9 78.8 308.6 79.6 308.6 80.4 307.6 81.2 306.8 82 307.5 82.8 307.4 83.6 307.2 84.4 307.9 85.2 308.3 86 308.1 86.8 308 87.6 308 88.4 308.4 89.2 308.2 90 308.1 90.8 308.1 91.6 307.3 92.4 308 93.2 308.3 94 308.3 94.8 307.3 95.6 307.4 96.4 308 97.2 307.3 98 307.6 98.8 308.2 99.6 307.6 100.4 308.5 101.2 308.5 102 308.2 102.8 308.2 103.6 308.2 104.4 308.1 105.2 308.3 106 307.7 106.8 307.5 107.6 307.9 108.4 308 109.2 307.8 110 308.5 110.8 309.1 111.6 308.8 112.4 308.5 113.2 309 114 309.5 114.8 309.9 115.6 310.9 116.4 310.7 117.2 311.7 118 311.4 118.8 311.7 119.6 312.6 120.4 313.5 121.2 314.1 122 314.4 122.8 314.7 123.6 315.1 124.4 315.7 125.2 315.4 126 314.9 126.8 314.5 127.6 313.8 128.4 313.4 129.2 312.5 130 312.1 130.8 313.2 131.6 314.1 132.4 315.3" stroke="#b03cc0" stroke-width="0.75" fill="none" stroke-linejoin="round"/>
<path d="M22.2 188.3V183.5H132.5V188.3M22.2 188.3V232.2M132.5 188.3V232.2M22.2 232.2V254.3M132.5 232.2V254.3M22.2 256.7V281.1M132.5 256.7V281.1M22.2 281.1V306.3M132.5 281.1V306.3M22.2 306.3V329.6M132.5 306.3V329.6M22.2 183.5H132.5" stroke="#808080" stroke-width="0.8" fill="none"/>
<path d="M22.2 188.3H132.5M22.2 232.2H132.5M22.2 254.3H132.5M22.2 256.7H132.5M22.2 281.1H132.5M22.2 306.3H132.5M22.2 329.6H132.5" stroke="#7a7a7a" stroke-width="1.35" fill="none"/>
<path d="M24.2 187.6v1.4M43.88 187.6v1.4M63.56 187.6v1.4M83.24 187.6v1.4M102.92 187.6v1.4M122.6 187.6v1.4M24.2 231.5v1.4M43.88 231.5v1.4M63.56 231.5v1.4M83.24 231.5v1.4M102.92 231.5v1.4M122.6 231.5v1.4M20.9 194.6h1.3M20.9 199.9h1.3M20.9 205.2h1.3M20.9 210.5h1.3M20.9 215.8h1.3M20.9 221.1h1.3M20.9 226.4h1.3M24.2 253.6v1.4M43.88 253.6v1.4M63.56 253.6v1.4M83.24 253.6v1.4M102.92 253.6v1.4M122.6 253.6v1.4M20.9 234.9h1.3M20.9 238.74h1.3M20.9 242.58h1.3M20.9 246.42h1.3M20.9 250.26h1.3M20.9 254.1h1.3M24.2 256v1.4M43.88 256v1.4M63.56 256v1.4M83.24 256v1.4M102.92 256v1.4M122.6 256v1.4M24.2 280.4v1.4M43.88 280.4v1.4M63.56 280.4v1.4M83.24 280.4v1.4M102.92 280.4v1.4M122.6 280.4v1.4M20.9 259.38h1.3M20.9 263.3h1.3M20.9 267.22h1.3M20.9 271.14h1.3M20.9 275.06h1.3M20.9 278.98h1.3M24.2 305.6v1.4M43.88 305.6v1.4M63.56 305.6v1.4M83.24 305.6v1.4M102.92 305.6v1.4M122.6 305.6v1.4M20.9 284h1.3M20.9 287.9h1.3M20.9 291.8h1.3M20.9 295.7h1.3M20.9 299.6h1.3M20.9 303.5h1.3M24.2 328.9v1.4M43.88 328.9v1.4M63.56 328.9v1.4M83.24 328.9v1.4M102.92 328.9v1.4M122.6 328.9v1.4M20.9 308.25h1.3M20.9 313.1h1.3M20.9 317.95h1.3M20.9 322.8h1.3M20.9 327.65h1.3M24.2 329.6v1.3M43.88 329.6v1.3M63.56 329.6v1.3M83.24 329.6v1.3M102.92 329.6v1.3M122.6 329.6v1.3" stroke="#1e1e1e" stroke-width="0.75" fill="none"/>
<text class="sd" transform="matrix(.88 0 0 1 48.9 187.1)">0</text>
<text class="sd" transform="matrix(.88 0 0 1 68.05 187.1)">1</text>
<text class="sd" transform="matrix(.88 0 0 1 86.85 187.1)">2</text>
<text class="sd" transform="matrix(.88 0 0 1 105.35 187.1)">3</text>
<text class="rs" transform="matrix(.88 0 0 1 23.4 187)">Refs</text>
<text class="tk" transform="matrix(.88 0 0 1 18.2 196.3)">450</text>
<text class="tk" transform="matrix(.88 0 0 1 18.2 201.6)">400</text>
<text class="tk" transform="matrix(.88 0 0 1 18.2 206.9)">350</text>
<text class="tk" transform="matrix(.88 0 0 1 18.2 212.2)">300</text>
<text class="tk" transform="matrix(.88 0 0 1 18.2 217.5)">250</text>
<text class="tk" transform="matrix(.88 0 0 1 18.2 222.8)">200</text>
<text class="tk" transform="matrix(.88 0 0 1 18.2 228.1)">150</text>
<text class="yl" transform="translate(8.3 210.75) rotate(-90) scale(0.86 1)">Density (kg m<tspan dy="-1.3" font-size="3.2">−3</tspan><tspan dy="1.3">)</tspan></text>
<text class="tk" transform="matrix(.88 0 0 1 18.2 236.6)">50</text>
<text class="tk" transform="matrix(.88 0 0 1 18.2 240.44)">40</text>
<text class="tk" transform="matrix(.88 0 0 1 18.2 244.28)">30</text>
<text class="tk" transform="matrix(.88 0 0 1 18.2 248.12)">20</text>
<text class="tk" transform="matrix(.88 0 0 1 18.2 251.96)">10</text>
<text class="tk" transform="matrix(.88 0 0 1 18.2 255.8)">0</text>
<text class="yl" transform="translate(8.3 243.75) rotate(-90) scale(0.86 1)">Depth (cm)</text>
<text class="tk" transform="matrix(.88 0 0 1 18.2 261.08)">10</text>
<text class="tk" transform="matrix(.88 0 0 1 18.2 265)">0</text>
<text class="tk" transform="matrix(.88 0 0 1 18.2 268.92)">−10</text>
<text class="tk" transform="matrix(.88 0 0 1 18.2 272.84)">−20</text>
<text class="tk" transform="matrix(.88 0 0 1 18.2 276.76)">−30</text>
<text class="tk" transform="matrix(.88 0 0 1 18.2 280.68)">−40</text>
<text class="yl" transform="translate(8.3 269.4) rotate(-90) scale(0.86 1)">Temp (°C)</text>
<text class="tk" transform="matrix(.88 0 0 1 18.2 285.7)">50</text>
<text class="tk" transform="matrix(.88 0 0 1 18.2 289.6)">40</text>
<text class="tk" transform="matrix(.88 0 0 1 18.2 293.5)">30</text>
<text class="tk" transform="matrix(.88 0 0 1 18.2 297.4)">20</text>
<text class="tk" transform="matrix(.88 0 0 1 18.2 301.3)">10</text>
<text class="tk" transform="matrix(.88 0 0 1 18.2 305.2)">0</text>
<text class="yl" transform="translate(8.3 294.2) rotate(-90) scale(0.86 1)">SSA (m<tspan dy="-1.3" font-size="3.2">2</tspan><tspan dy="1.3"> kg</tspan><tspan dy="-1.3" font-size="3.2">−1</tspan><tspan dy="1.3">)</tspan></text>
<text class="tk" transform="matrix(.88 0 0 1 18.2 309.95)">30</text>
<text class="tk" transform="matrix(.88 0 0 1 18.2 314.8)">20</text>
<text class="tk" transform="matrix(.88 0 0 1 18.2 319.65)">10</text>
<text class="tk" transform="matrix(.88 0 0 1 18.2 324.5)">0</text>
<text class="tk" transform="matrix(.88 0 0 1 18.2 329.35)">−10</text>
<text class="yl" transform="translate(8.3 318.45) rotate(-90) scale(0.86 1)">ΔT (K)</text>
<text class="tk xl" transform="matrix(0.9 0 0 1 24.2 335.4)">Aug 2008</text>
<text class="tk xl" transform="matrix(0.9 0 0 1 43.88 335.4)">Oct 2008</text>
<text class="tk xl" transform="matrix(0.9 0 0 1 63.56 335.4)">Dec 2008</text>
<text class="tk xl" transform="matrix(0.9 0 0 1 83.24 335.4)">Feb 2009</text>
<text class="tk xl" transform="matrix(0.9 0 0 1 102.92 335.4)">Apr 2009</text>
<text class="tk xl" transform="matrix(0.9 0 0 1 122.6 335.4)">Jun 2009</text>
<text class="ti" transform="matrix(0.9 0 0 1 200.85 179.4)">Eureka 2003-04</text>
<rect x="147.5" y="183.5" width="106.7" height="4.8" fill="#b9b9b9"/>
<path d="M148 184.2H162.7V187.6H148ZM163.7 184.2H167.1V187.6H163.7ZM168.1 184.2H173V187.6H168.1ZM174 184.2H176.3V187.6H174ZM177.3 184.2H179.6V187.6H177.3ZM180.6 184.2H203.8V187.6H180.6ZM204.8 184.2H221.4V187.6H204.8ZM222.4 184.2H235.7V187.6H222.4ZM236.7 184.2H245.6V187.6H236.7ZM246.6 184.2H253.7V187.6H246.6Z" fill="#fff"/>
<path d="M147.5 194.6H254.2M147.5 199.9H254.2M147.5 205.2H254.2M147.5 210.5H254.2M147.5 215.8H254.2M147.5 221.1H254.2M147.5 226.4H254.2M147.5 234.9H254.2M147.5 238.74H254.2M147.5 242.58H254.2M147.5 246.42H254.2M147.5 250.26H254.2M147.5 259.38H254.2M147.5 267.22H254.2M147.5 271.14H254.2M147.5 275.06H254.2M147.5 278.98H254.2M147.5 284H254.2M147.5 287.9H254.2M147.5 291.8H254.2M147.5 295.7H254.2M147.5 299.6H254.2M147.5 308.25H254.2M147.5 313.1H254.2M147.5 317.95H254.2M147.5 327.65H254.2" stroke="#d0d0d0" stroke-width="0.75" fill="none"/>
<path d="M149.4 188.3V232.2M168.64 188.3V232.2M187.88 188.3V232.2M207.12 188.3V232.2M226.36 188.3V232.2M245.6 188.3V232.2M149.4 232.2V254.3M168.64 232.2V254.3M187.88 232.2V254.3M207.12 232.2V254.3M226.36 232.2V254.3M245.6 232.2V254.3M149.4 256.7V281.1M168.64 256.7V281.1M187.88 256.7V281.1M207.12 256.7V281.1M226.36 256.7V281.1M245.6 256.7V281.1M149.4 281.1V306.3M168.64 281.1V306.3M187.88 281.1V306.3M207.12 281.1V306.3M226.36 281.1V306.3M245.6 281.1V306.3M149.4 306.3V329.6M168.64 306.3V329.6M187.88 306.3V329.6M207.12 306.3V329.6M226.36 306.3V329.6M245.6 306.3V329.6" stroke="#b4b4b4" stroke-width="0.65" fill="none"/>
<path d="M162.6 188.3V232.2M168.2 188.3V232.2M178.3 188.3V232.2M235.6 188.3V232.2M162.6 232.2V254.3M168.2 232.2V254.3M178.3 232.2V254.3M235.6 232.2V254.3M162.6 256.7V281.1M168.2 256.7V281.1M178.3 256.7V281.1M235.6 256.7V281.1M162.6 281.1V306.3M168.2 281.1V306.3M178.3 281.1V306.3M235.6 281.1V306.3M162.6 306.3V329.6M168.2 306.3V329.6M178.3 306.3V329.6M235.6 306.3V329.6" stroke="#5a5a5a" stroke-width="0.5" stroke-dasharray="0.75 0.85" fill="none"/>
<path d="M147.5 303.5H254.2M147.5 263.3H254.2" stroke="#a0a0a0" stroke-width="0.45" stroke-dasharray="1 0.8"/>
<path d="M204.3 204 205.3 204 206.2 203.9 207.2 202.8 208.2 203.5 209.2 204.4 210.1 203 211.1 204.1 212.1 203.4 213.1 204.3 214 203.7 215 203.3 215.9 203.4 216.8 203 217.7 202.8 218.6 203.4 219.5 202.4 220.5 203.7 221.4 204.7 222.3 202.6 223.2 202.7 224.1 204.2 225 202.8 225.9 203.2 226.9 203.1 227.8 203.8 228.8 201.3 229.7 204.7 230.7 203.4 231.6 203 232.6 202.8 233.5 203.1 234.5 203.3 235.4 204.9 236.4 204.5 237.3 203.5 237.3 211.3 236.4 210.9 235.4 210.8 234.5 210.5 233.5 212.1 232.6 211.5 231.6 211.1 230.7 211 229.7 212.4 228.8 211.4 227.8 209.8 226.9 210.9 225.9 211.3 225 211.4 224.1 210.7 223.2 211.1 222.3 211.3 221.4 211.3 220.5 210.3 219.5 211.1 218.6 211.1 217.7 210.8 216.8 211.1 215.9 211.8 215 211 214 210.2 213.1 210.6 212.1 211.1 211.1 210.8 210.1 211.2 209.2 211 208.2 210.1 207.2 210.2 206.2 211 205.3 211.7 204.3 210.8Z" fill="#b3e2f2"/>
<path d="M188.9 217 189.8 216 190.7 213.7 191.6 213.9 192.5 212.1 193.4 213.8 194.3 213.5 195.2 214.2 196.1 213.6 197 214.3 197.9 213.6 198.8 213.2 199.7 212.5 200.6 211 201.5 214 202.4 211.2 203.3 212.3 204.2 209.7 205.1 209.4 206 208.9 206.9 210.8 207.8 211.7 208.7 211.4 209.6 208.3 210.5 209.1 211.4 209.7 212.3 211.6 213.2 209.2 214.1 208.9 215 210.1 215.9 207.2 216.8 207.7 217.7 206.3 218.6 207.7 219.5 207.6 220.4 207.9 221.3 209.3 222.2 209.4 223.1 209.1 224 208.2 224.9 207.6 225.8 206.8 226.7 208.6 227.6 209.3 228.5 208.5 229.4 207.9 230.3 207.7 231.2 209.3 232.1 210.2 233 210 233.9 207.8 234.8 207.6 235.7 207.2 236.6 209.7" stroke="#2238ff" stroke-width="0.85" fill="none" stroke-linejoin="round"/>
<path d="M169.1 191V200.9M168.7 191h0.9M168.7 200.9h0.9M173.1 211.9V217.4M172.7 211.9h0.9M172.7 217.4h0.9M178.6 198.7V206.4M178.2 198.7h0.9M178.2 206.4h0.9M183 194.3V203.1M182.6 194.3h0.9M182.6 203.1h0.9M188.2 195.4V204.2M187.8 195.4h0.9M187.8 204.2h0.9M192.2 199.8V207.5M191.8 199.8h0.9M191.8 207.5h0.9M197.7 206.4V213M197.2 206.4h0.9M197.2 213h0.9M202.1 202V210.8M201.7 202h0.9M201.7 210.8h0.9M207.6 202V210.8M207.2 202h0.9M207.2 210.8h0.9M212 199.8V208.6M211.6 199.8h0.9M211.6 208.6h0.9M216.4 191V199.8M216 191h0.9M216 199.8h0.9M220.8 195.4V204.2M220.4 195.4h0.9M220.4 204.2h0.9M225.6 197.6V206.4M225.2 197.6h0.9M225.2 206.4h0.9M230.7 202V210.8M230.2 202h0.9M230.2 210.8h0.9M235.1 198.7V208.6M234.7 198.7h0.9M234.7 208.6h0.9M239.5 200.9V208.6M239.1 200.9h0.9M239.1 208.6h0.9" stroke="#1e1e1e" stroke-width="0.55" fill="none"/>
<path d="M169.1 195.9h0.01M173.1 214.7h0.01M178.6 202.6h0.01M183 198.7h0.01M188.2 199.8h0.01M192.2 203.7h0.01M197.7 209.7h0.01M202.1 206.4h0.01M207.6 206.4h0.01M212 204.2h0.01M216.4 195.4h0.01M220.8 199.8h0.01M225.6 202h0.01M230.7 206.4h0.01M235.1 203.6h0.01M239.5 204.8h0.01" stroke="#111" stroke-width="1.1" stroke-linecap="round"/>
<text class="st" transform="matrix(.88 0 0 1 237.9 216)">Overlap:</text><text class="st" transform="matrix(.88 0 0 1 252.4 216)">72.3</text>
<text class="st" transform="matrix(.88 0 0 1 237.9 219.65)">MAPE:</text><text class="st" transform="matrix(.88 0 0 1 252.4 219.65)">20.6</text>
<text class="st" transform="matrix(.88 0 0 1 237.9 223.3)">RMSE:</text><text class="st" transform="matrix(.88 0 0 1 252.4 223.3)">59.5</text>
<text class="st" transform="matrix(.88 0 0 1 237.9 226.95)">Bias:</text><text class="st" transform="matrix(.88 0 0 1 252.4 226.95)">−75.8</text>
<text class="st" transform="matrix(.88 0 0 1 237.9 230.6)">Corr:</text><text class="st" transform="matrix(.88 0 0 1 252.4 230.6)">0.543</text>
<path d="M162.5 254.2 200 253.3 240 252.4 247 254.2Z" fill="#6f6f6f" fill-opacity="0.9"/>
<path d="M148 253.8 162.5 253.8 163.6 251.6 168 252 174.6 250.9 181.2 250.9 190 250.9 198.8 249.8 207.6 249.4 216.4 248.7 225.2 248 231.8 248.3 236.2 249.8 240.6 252 245 253.1 247.2 254.2" stroke="#f3ab3c" stroke-opacity="0.8" stroke-width="0.95" fill="none" stroke-linejoin="round"/>
<path d="M169.1 252.4h0.01M173.5 252h0.01M178.6 251.1h0.01M183 251.1h0.01M187.8 250.9h0.01M192.6 250.2h0.01M197.7 249.4h0.01M202.1 249.8h0.01M207.2 249.8h0.01M212 248.7h0.01M216.8 247.6h0.01M221.2 248h0.01M226.3 247.2h0.01M230.7 246.7h0.01M235.1 246.3h0.01M240.2 246.7h0.01" stroke="#111" stroke-width="1.7" stroke-linecap="square"/>
<path d="M148 260.9 150.4 261 159.2 262.4 165.8 264.6 170.2 266.8 176.8 270.5 183.4 272.7 190 274.2 201 275.6 212 276.4 223 276.7 229.6 276 236.2 273.8 242.8 270.5 248.3 266.1 251.6 263.2 253.8 261.7" stroke="#2ca02c" stroke-width="0.8" fill="none"/>
<path d="M148 261.9 148.9 261.2 149.8 260.2 150.7 260.6 151.6 261.9 152.5 262.7 153.4 261.2 154.3 260.9 155.2 262 156.1 262.1 157 261.8 157.9 262.7 158.8 262.7 159.7 263.6 160.6 261.6 161.5 262.5 162.4 263.1 163.3 262.4 164.2 264.2 165.1 264.6 166 264.6 166.9 266.1 167.8 267.4 168.7 266.5 169.6 268.8 170.5 269.8 171.4 267.6 172.3 268.8 173.2 273.2 174.1 274.1 175 269.6 175.9 267.2 176.8 273.1 177.7 275.6 178.6 275.4 179.5 275.9 180.4 279.2 181.3 276.8 182.2 276.2 183.1 274.5 184 275.2 184.9 274.2 185.8 274.8 186.7 273.5 187.6 275.1 188.5 276.1 189.4 274.7 190.3 277.3 191.2 273.1 192.1 271.7 193 271.4 193.9 272.5 194.8 273.7 195.7 273.4 196.6 274.8 197.5 274 198.4 274 199.3 272.2 200.2 278 201.1 279.6 202 281.1 202.9 279 203.8 279.7 204.7 278.6 205.6 277.6 206.5 273.6 207.4 273.5 208.3 272.5 209.2 278.3 210.1 281.5 211 280.1 211.9 277.6 212.8 277.9 213.7 279.1 214.6 278 215.5 279.4 216.4 278.5 217.3 277.7 218.2 279.6 219.1 278.2 220 280.4 220.9 276.3 221.8 275.4 222.7 278.4 223.6 276 224.5 273.7 225.4 277.6 226.3 275.5 227.2 272.3 228.1 275.7 229 273.5 229.9 273.6 230.8 274.1 231.7 271.4 232.6 273.4 233.5 272.9 234.4 270.5 235.3 272.2 236.2 271.9 237.1 271.1 238 269.6 238.9 265 239.8 264.8 240.7 263.4 241.6 264.8 242.5 264 243.4 262.6 244.3 263.6 245.2 262.7 246.1 260.7 247 261.6 247.9 261.9 248.8 263.2 249.7 262.1 250.6 261.6 251.5 262 252.4 261.5 253.3 262.3" stroke="#111" stroke-width="0.7" fill="none" stroke-linejoin="round"/>
<path d="M162.5 283.5 163 285.8 163.5 287.5 164 288.9 164.5 289.9 165 290.7 165.5 291.4 166 291.9 166.5 292.4 167 292.8 167.5 293.1 168 293.4 168.5 293.6 169 293.8 169.5 294 170 294.2 170.5 294.4 171 294.5 171.5 294.7 172 294.8 172.5 294.9 173 295 173.5 295.1 174 295.2 174.5 295.3 175 295.4 175.5 295.5 176 295.6 176.5 295.6 177 295.7 177.5 295.7 178 295.8 178.5 295.8 179 295.9 179.5 295.9 180 296 180.5 296 181 296 181.5 296.1 182 296.1 182.5 296.1 183 296.2 183.5 296.2 184 296.2 184.5 296.2 185 296.2 185.5 296.3 186 296.3 186.5 296.3 187 296.3 187.5 296.3 188 296.3 188.5 296.3 189 296.4 189.5 296.4 190 296.4 190.5 296.4 191 296.4 191.5 296.4 192 296.4 192.5 296.4 193 296.4 193.5 296.4 194 296.4 194.5 296.4 195 296.4 195.5 296.4 196 296.4 196.5 296.4 197 296.5 197.5 296.5 198 296.5 198.5 296.5 199 296.5 199.5 296.5 200 296.5 200.5 296.5 201 296.5 201.5 296.5 202 296.5 202.5 296.5 206.5 296.5 210.5 296.5 214.5 296.5 218.5 296.5 222.5 296.5 226.5 296.5 230.5 296.5 234.5 296.5 238.5 296.5 242.5 296.5 246.1 296.5" stroke="#444" stroke-width="0.55" stroke-dasharray="1 0.7" fill="none"/>
<path d="M162.5 283.5 163 287.4 163.5 290.2 164 292.1 164.5 293.5 165 294.6 165.5 295.3 166 296 166.5 296.4 167 296.8 167.5 297.2 168 297.4 168.5 297.7 169 297.9 169.5 298.1 170 298.2 170.5 298.4 171 298.5 171.5 298.6 172 298.7 172.5 298.8 173 298.9 173.5 299 174 299 174.5 299.1 175 299.2 175.5 299.2 176 299.3 176.5 299.3 177 299.3 177.5 299.4 178 299.4 178.5 299.4 179 299.5 179.5 299.5 180 299.5 180.5 299.5 181 299.5 181.5 299.6 182 299.6 182.5 299.6 183 299.6 183.5 299.6 184 299.6 184.5 299.6 185 299.6 185.5 299.6 186 299.6 186.5 299.6 187 299.7 187.5 299.7 188 299.7 188.5 299.7 189 299.7 189.5 299.7 190 299.7 190.5 299.7 191 299.7 191.5 299.7 192 299.7 192.5 299.7 193 299.7 193.5 299.7 194 299.7 194.5 299.7 195 299.7 195.5 299.7 196 299.7 196.5 299.7 197 299.7 197.5 299.7 198 299.7 198.5 299.7 199 299.7 199.5 299.7 200 299.7 200.5 299.7 201 299.7 201.5 299.7 202 299.7 202.5 299.7 206.5 299.7 210.5 299.7 214.5 299.7 218.5 299.7 222.5 299.7 226.5 299.7 230.5 299.7 234.5 299.7 238.5 299.7 242.5 299.7 246.1 299.7" stroke="#333" stroke-width="0.6" fill="none"/>
<path d="M147.5 322.8H254.2" stroke="#555" stroke-width="0.4" stroke-dasharray="1 0.8"/>
<path d="M148 324.3 148.8 325.2 149.6 325.2 150.4 325.2 151.2 325 152 324.9 152.8 325 153.6 324.8 154.4 324.4 155.2 324.1 156 323.7 156.8 324.1 157.6 324.3 158.4 324.7 159.2 324.4 160 324.1 160.8 324.1 161.6 323.7 162.4 322.7 163.2 323.3 164 323 164.8 322.9 165.6 322.6 166.4 323.6 167.2 323.3 168 322.8 168.8 321.3 169.6 321.1 170.4 320 171.2 319.9 172 318.9 172.8 318.9 173.6 319.2 174.4 318.6 175.2 318.7 176 318.8 176.8 319.2 177.6 318.8 178.4 319.1 179.2 319.7 180 318.6 180.8 318.2 181.6 318.5 182.4 318.2 183.2 317.7 184 318.5 184.8 318.7 185.6 318.8 186.4 318.8 187.2 318.7 188 318 188.8 317 189.6 317.6 190.4 317.3 191.2 317.6 192 317.8 192.8 317.3 193.6 317.4 194.4 318.2 195.2 318.2 196 317.3 196.8 317.3 197.6 317.4 198.4 317.7 199.2 317.9 200 317.6 200.8 317.4 201.6 317.7 202.4 316.9 203.2 317.6 204 317.6 204.8 317.2 205.6 317 206.4 317.3 207.2 316.7 208 316 208.8 316.8 209.6 317.6 210.4 317.4 211.2 317.4 212 317.3 212.8 316.9 213.6 317.3 214.4 317.6 215.2 317.4 216 317.7 216.8 317.1 217.6 317.3 218.4 317 219.2 316.9 220 317.2 220.8 317.3 221.6 317.6 222.4 317.7 223.2 317 224 317.6 224.8 316.8 225.6 317 226.4 317.2 227.2 317.2 228 317.4 228.8 317.3 229.6 316.9 230.4 317.4 231.2 317.3 232 316.9 232.8 317.1 233.6 317.1 234.4 317.4 235.2 317.3 236 317.7 236.8 317.8 237.6 318.7 238.4 318.5 239.2 319 240 318.8 240.8 319.3 241.6 320 242.4 319.4 243.2 319.4 244 319 244.8 319 245.6 319.3 246.4 320.1 247.2 321 248 321.7 248.8 321.7 249.6 322.2 250.4 322.1 251.2 323.1 252 323.5 252.8 323.6 253.6 324.1" stroke="#b03cc0" stroke-width="0.75" fill="none" stroke-linejoin="round"/>
<path d="M147.5 188.3V183.5H254.2V188.3M147.5 188.3V232.2M254.2 188.3V232.2M147.5 232.2V254.3M254.2 232.2V254.3M147.5 256.7V281.1M254.2 256.7V281.1M147.5 281.1V306.3M254.2 281.1V306.3M147.5 306.3V329.6M254.2 306.3V329.6M147.5 183.5H254.2" stroke="#808080" stroke-width="0.8" fill="none"/>
<path d="M147.5 188.3H254.2M147.5 232.2H254.2M147.5 254.3H254.2M147.5 256.7H254.2M147.5 281.1H254.2M147.5 306.3H254.2M147.5 329.6H254.2" stroke="#7a7a7a" stroke-width="1.35" fill="none"/>
<path d="M149.4 187.6v1.4M168.64 187.6v1.4M187.88 187.6v1.4M207.12 187.6v1.4M226.36 187.6v1.4M245.6 187.6v1.4M149.4 231.5v1.4M168.64 231.5v1.4M187.88 231.5v1.4M207.12 231.5v1.4M226.36 231.5v1.4M245.6 231.5v1.4M146.2 194.6h1.3M146.2 199.9h1.3M146.2 205.2h1.3M146.2 210.5h1.3M146.2 215.8h1.3M146.2 221.1h1.3M146.2 226.4h1.3M149.4 253.6v1.4M168.64 253.6v1.4M187.88 253.6v1.4M207.12 253.6v1.4M226.36 253.6v1.4M245.6 253.6v1.4M146.2 234.9h1.3M146.2 238.74h1.3M146.2 242.58h1.3M146.2 246.42h1.3M146.2 250.26h1.3M146.2 254.1h1.3M149.4 256v1.4M168.64 256v1.4M187.88 256v1.4M207.12 256v1.4M226.36 256v1.4M245.6 256v1.4M149.4 280.4v1.4M168.64 280.4v1.4M187.88 280.4v1.4M207.12 280.4v1.4M226.36 280.4v1.4M245.6 280.4v1.4M146.2 259.38h1.3M146.2 263.3h1.3M146.2 267.22h1.3M146.2 271.14h1.3M146.2 275.06h1.3M146.2 278.98h1.3M149.4 305.6v1.4M168.64 305.6v1.4M187.88 305.6v1.4M207.12 305.6v1.4M226.36 305.6v1.4M245.6 305.6v1.4M146.2 284h1.3M146.2 287.9h1.3M146.2 291.8h1.3M146.2 295.7h1.3M146.2 299.6h1.3M146.2 303.5h1.3M149.4 328.9v1.4M168.64 328.9v1.4M187.88 328.9v1.4M207.12 328.9v1.4M226.36 328.9v1.4M245.6 328.9v1.4M146.2 308.25h1.3M146.2 313.1h1.3M146.2 317.95h1.3M146.2 322.8h1.3M146.2 327.65h1.3M149.4 329.6v1.3M168.64 329.6v1.3M187.88 329.6v1.3M207.12 329.6v1.3M226.36 329.6v1.3M245.6 329.6v1.3" stroke="#1e1e1e" stroke-width="0.75" fill="none"/>
<text class="sd" transform="matrix(.88 0 0 1 192.2 187.1)">0</text>
<text class="sd" transform="matrix(.88 0 0 1 213.1 187.1)">1</text>
<text class="sd" transform="matrix(.88 0 0 1 229.05 187.1)">2</text>
<text class="sd" transform="matrix(.88 0 0 1 241.15 187.1)">3</text>
<text class="rs" transform="matrix(.88 0 0 1 148.7 187)">Refs</text>
<text class="tk" transform="matrix(.88 0 0 1 143.5 196.3)">450</text>
<text class="tk" transform="matrix(.88 0 0 1 143.5 201.6)">400</text>
<text class="tk" transform="matrix(.88 0 0 1 143.5 206.9)">350</text>
<text class="tk" transform="matrix(.88 0 0 1 143.5 212.2)">300</text>
<text class="tk" transform="matrix(.88 0 0 1 143.5 217.5)">250</text>
<text class="tk" transform="matrix(.88 0 0 1 143.5 222.8)">200</text>
<text class="tk" transform="matrix(.88 0 0 1 143.5 228.1)">150</text>
<text class="tk" transform="matrix(.88 0 0 1 143.5 236.6)">50</text>
<text class="tk" transform="matrix(.88 0 0 1 143.5 240.44)">40</text>
<text class="tk" transform="matrix(.88 0 0 1 143.5 244.28)">30</text>
<text class="tk" transform="matrix(.88 0 0 1 143.5 248.12)">20</text>
<text class="tk" transform="matrix(.88 0 0 1 143.5 251.96)">10</text>
<text class="tk" transform="matrix(.88 0 0 1 143.5 255.8)">0</text>
<text class="tk" transform="matrix(.88 0 0 1 143.5 261.08)">10</text>
<text class="tk" transform="matrix(.88 0 0 1 143.5 265)">0</text>
<text class="tk" transform="matrix(.88 0 0 1 143.5 268.92)">−10</text>
<text class="tk" transform="matrix(.88 0 0 1 143.5 272.84)">−20</text>
<text class="tk" transform="matrix(.88 0 0 1 143.5 276.76)">−30</text>
<text class="tk" transform="matrix(.88 0 0 1 143.5 280.68)">−40</text>
<text class="tk" transform="matrix(.88 0 0 1 143.5 285.7)">50</text>
<text class="tk" transform="matrix(.88 0 0 1 143.5 289.6)">40</text>
<text class="tk" transform="matrix(.88 0 0 1 143.5 293.5)">30</text>
<text class="tk" transform="matrix(.88 0 0 1 143.5 297.4)">20</text>
<text class="tk" transform="matrix(.88 0 0 1 143.5 301.3)">10</text>
<text class="tk" transform="matrix(.88 0 0 1 143.5 305.2)">0</text>
<text class="tk" transform="matrix(.88 0 0 1 143.5 309.95)">30</text>
<text class="tk" transform="matrix(.88 0 0 1 143.5 314.8)">20</text>
<text class="tk" transform="matrix(.88 0 0 1 143.5 319.65)">10</text>
<text class="tk" transform="matrix(.88 0 0 1 143.5 324.5)">0</text>
<text class="tk" transform="matrix(.88 0 0 1 143.5 329.35)">−10</text>
<text class="tk xl" transform="matrix(0.9 0 0 1 149.4 335.4)">Aug 2003</text>
<text class="tk xl" transform="matrix(0.9 0 0 1 168.64 335.4)">Oct 2003</text>
<text class="tk xl" transform="matrix(0.9 0 0 1 187.88 335.4)">Dec 2003</text>
<text class="tk xl" transform="matrix(0.9 0 0 1 207.12 335.4)">Feb 2004</text>
<text class="tk xl" transform="matrix(0.9 0 0 1 226.36 335.4)">Apr 2004</text>
<text class="tk xl" transform="matrix(0.9 0 0 1 245.6 335.4)">Jun 2004</text>
<text class="ti" transform="matrix(0.9 0 0 1 321.1 179.4)">Eureka 2004-05</text>
<rect x="267.6" y="183.5" width="107" height="4.8" fill="#b9b9b9"/>
<path d="M268.1 184.2H283.1V187.6H268.1ZM284.1 184.2H293V187.6H284.1ZM294 184.2H313.9V187.6H294ZM314.9 184.2H359V187.6H314.9ZM360 184.2H366.3V187.6H360ZM367.3 184.2H374.1V187.6H367.3Z" fill="#fff"/>
<path d="M267.6 194.6H374.6M267.6 199.9H374.6M267.6 205.2H374.6M267.6 210.5H374.6M267.6 215.8H374.6M267.6 221.1H374.6M267.6 226.4H374.6M267.6 234.9H374.6M267.6 238.74H374.6M267.6 242.58H374.6M267.6 246.42H374.6M267.6 250.26H374.6M267.6 259.38H374.6M267.6 267.22H374.6M267.6 271.14H374.6M267.6 275.06H374.6M267.6 278.98H374.6M267.6 284H374.6M267.6 287.9H374.6M267.6 291.8H374.6M267.6 295.7H374.6M267.6 299.6H374.6M267.6 308.25H374.6M267.6 313.1H374.6M267.6 317.95H374.6M267.6 327.65H374.6" stroke="#d0d0d0" stroke-width="0.75" fill="none"/>
<path d="M269.9 188.3V232.2M289.04 188.3V232.2M308.18 188.3V232.2M327.32 188.3V232.2M346.46 188.3V232.2M365.6 188.3V232.2M269.9 232.2V254.3M289.04 232.2V254.3M308.18 232.2V254.3M327.32 232.2V254.3M346.46 232.2V254.3M365.6 232.2V254.3M269.9 256.7V281.1M289.04 256.7V281.1M308.18 256.7V281.1M327.32 256.7V281.1M346.46 256.7V281.1M365.6 256.7V281.1M269.9 281.1V306.3M289.04 281.1V306.3M308.18 281.1V306.3M327.32 281.1V306.3M346.46 281.1V306.3M365.6 281.1V306.3M269.9 306.3V329.6M289.04 306.3V329.6M308.18 306.3V329.6M327.32 306.3V329.6M346.46 306.3V329.6M365.6 306.3V329.6" stroke="#b4b4b4" stroke-width="0.65" fill="none"/>
<path d="M284.3 188.3V232.2M293.5 188.3V232.2M314.5 188.3V232.2M359.9 188.3V232.2M284.3 232.2V254.3M293.5 232.2V254.3M314.5 232.2V254.3M359.9 232.2V254.3M284.3 256.7V281.1M293.5 256.7V281.1M314.5 256.7V281.1M359.9 256.7V281.1M284.3 281.1V306.3M293.5 281.1V306.3M314.5 281.1V306.3M359.9 281.1V306.3M284.3 306.3V329.6M293.5 306.3V329.6M314.5 306.3V329.6M359.9 306.3V329.6" stroke="#5a5a5a" stroke-width="0.5" stroke-dasharray="0.75 0.85" fill="none"/>
<path d="M267.6 303.5H374.6M267.6 263.3H374.6" stroke="#a0a0a0" stroke-width="0.45" stroke-dasharray="1 0.8"/>
<path d="M285 194 286 194 286.3 205 285 205Z" fill="#b3e2f2"/>
<path d="M318.8 206.2 319.8 205.4 320.9 205.7 321.9 204.9 322.9 203.6 324 202.6 325 203.2 325.9 201.9 326.8 202.4 327.7 201 328.6 201.8 329.5 201.3 330.5 203.3 331.4 201.3 332.3 200.8 333.2 200.4 334.1 199.8 335 201.2 335.9 199.3 336.8 200 337.7 199.4 338.6 198.6 339.5 199.6 340.5 199.5 341.4 200 342.3 200.4 343.2 200.6 344.1 200.5 345 199.6 345.9 199.8 346.8 200.5 347.7 200 348.6 200.8 349.5 198.9 350.5 199.5 351.4 201.5 352.3 199.3 353.2 199.8 354.1 200.5 355 200.3 356 198.7 357 200.5 358 199.8 359 199.6 360 198.8 361 200 362 200.1 363 199.5 364 200.7 365 200.5 365 210.5 364.1 209.2 363.2 209.6 362.3 210.1 361.4 209.5 360.5 210.5 359.5 209.8 358.6 208.3 357.7 208.8 356.8 208.7 355.9 208.7 355 208.8 354.1 209 353.2 207.9 352.3 208.3 351.4 208.1 350.5 208 349.5 206.8 348.6 209.4 347.7 209.3 346.8 208.8 345.9 209.6 345 209.8 344.1 210.8 343.2 211.1 342.3 210 341.4 210.2 340.5 210.2 339.5 211 338.6 210.6 337.7 207.6 336.8 210.7 335.9 210.9 335 210.8 334.1 209.9 333.2 212.1 332.3 210.5 331.4 211.1 330.5 212 329.5 211.4 328.6 211.3 327.7 211.5 326.8 212.4 325.9 211.8 325 211.9 324 211.1 322.9 212.2 321.9 212.2 320.9 212.2 319.8 212 318.8 212.5Z" fill="#b3e2f2"/>
<path d="M285.4 194 286.3 225.3 287.2 226.6 288.1 225.8 289 224.9 289.9 223.7 290.8 222.7 291.7 221.2 292.6 222.6 293.5 223.1 294.4 222 295.3 224.4 296.2 223.8 297.1 224.6 298 226.4 298.9 224.8 299.8 220.8 300.7 220.1 301.6 218.7 302.5 218.9 303.4 219.3 304.3 221.2 305.2 221.2 306.1 224.2 307 224.9 307.9 221.9 308.8 220.6 309.7 220.4 310.6 223.9 311.5 223.1 312.4 222.4 313.3 224.7 314.2 222.8 315.1 219.6 316 220.4 316.9 219.1 317.8 214.7 318.7 212.7 319.6 212.9 320.5 211.4 321.4 210.4 322.3 211.3 323.2 210.5 324.1 210.3 325 211.7 325.9 210 326.8 209 327.7 207.2 328.6 208.1 329.5 207.8 330.4 207.5 331.3 207.3 332.2 207.8 333.1 207.6 334 207.7 334.9 207.9 335.8 206.2 336.7 205.2 337.6 204.6 338.5 205.3 339.4 203.6 340.3 204.8 341.2 205.4 342.1 206.2 343 205 343.9 206 344.8 206.2 345.7 205.8 346.6 206.4 347.5 206.3 348.4 205.5 349.3 206.3 350.2 206.1 351.1 209.2 352 207.6 352.9 206.6 353.8 205.3 354.7 206.3 355.6 207 356.5 207 357.4 205.8 358.3 206.2 359.2 205.4 360.1 205.8 361 203.9 361.9 203.1 362.8 203.9 363.7 201.6 364.6 203.7" stroke="#2238ff" stroke-width="0.85" fill="none" stroke-linejoin="round"/>
<path d="M289.8 222.9V228.4M289.4 222.9h0.9M289.4 228.4h0.9M293.5 215.2V221.8M293.1 215.2h0.9M293.1 221.8h0.9M299 198.7V206.4M298.6 198.7h0.9M298.6 206.4h0.9M303 213V218.5M302.6 213h0.9M302.6 218.5h0.9M308.2 207.5V214.1M307.8 207.5h0.9M307.8 214.1h0.9M312.6 194.3V203.1M312.2 194.3h0.9M312.2 203.1h0.9M317.7 199.8V207.5M317.2 199.8h0.9M317.2 207.5h0.9M322.1 196.5V204.2M321.7 196.5h0.9M321.7 204.2h0.9M327.6 192.1V200.9M327.2 192.1h0.9M327.2 200.9h0.9M332 196.5V205.3M331.6 196.5h0.9M331.6 205.3h0.9M336.4 195.4V204.2M335.9 195.4h0.9M335.9 204.2h0.9M340.8 195.4V203.1M340.4 195.4h0.9M340.4 203.1h0.9M345.6 196.5V204.2M345.2 196.5h0.9M345.2 204.2h0.9M350.7 199.8V207.5M350.2 199.8h0.9M350.2 207.5h0.9M355.1 200.9V207.5M354.7 200.9h0.9M354.7 207.5h0.9M359.5 202V208.6M359.1 202h0.9M359.1 208.6h0.9" stroke="#1e1e1e" stroke-width="0.55" fill="none"/>
<path d="M289.8 225.7h0.01M293.5 218.5h0.01M303 215.8h0.01M308.2 210.8h0.01M312.6 198.7h0.01M317.7 203.7h0.01M322.1 200.3h0.01M327.6 196.5h0.01M332 200.9h0.01M336.4 199.8h0.01M340.8 199.2h0.01M345.6 200.3h0.01M350.7 203.7h0.01M355.1 204.2h0.01M359.5 205.3h0.01" stroke="#111" stroke-width="1.1" stroke-linecap="round"/>
<path d="M299 202.6h0.01" stroke="#e8312a" stroke-width="1.4" stroke-linecap="round"/>
<text class="st" transform="matrix(.88 0 0 1 358.3 216)">Overlap:</text><text class="st" transform="matrix(.88 0 0 1 372.8 216)">82.2</text>
<text class="st" transform="matrix(.88 0 0 1 358.3 219.65)">MAPE:</text><text class="st" transform="matrix(.88 0 0 1 372.8 219.65)">20.3</text>
<text class="st" transform="matrix(.88 0 0 1 358.3 223.3)">RMSE:</text><text class="st" transform="matrix(.88 0 0 1 372.8 223.3)">50.2</text>
<text class="st" transform="matrix(.88 0 0 1 358.3 226.95)">Bias:</text><text class="st" transform="matrix(.88 0 0 1 372.8 226.95)">24.9</text>
<text class="st" transform="matrix(.88 0 0 1 358.3 230.6)">Corr:</text><text class="st" transform="matrix(.88 0 0 1 372.8 230.6)">0.846</text>
<path d="M285 254.2 330 252.5 362 251.5 366 254.2Z" fill="#6f6f6f" fill-opacity="0.9"/>
<path d="M268 253.8 283.6 253.8 284.7 247.6 288 249.4 292.4 247.6 296.8 245.8 303.4 245.4 310 245.4 316.6 245.8 323.2 245.8 329.8 245 336.4 244.3 343 243.6 349.6 243.6 356.2 243.2 360.6 245.4 363.9 248.7 366.1 253.8 374 253.8" stroke="#f3ab3c" stroke-opacity="0.8" stroke-width="0.95" fill="none" stroke-linejoin="round"/>
<path d="M289.8 250.2h0.01M293.5 250.2h0.01M298.6 245.8h0.01M303 245.8h0.01M307.8 245.4h0.01M312.6 245.8h0.01M317.7 245.8h0.01M322.1 246.5h0.01M327.6 245h0.01M332 244.3h0.01M336.4 245h0.01M340.8 243.6h0.01M345.6 244.3h0.01M350.7 245.4h0.01M355.1 240.6h0.01M359.5 241.4h0.01" stroke="#111" stroke-width="1.7" stroke-linecap="square"/>
<path d="M268 261.6 270.4 261.7 279.2 262.8 285.8 263.9 290.2 266.1 294.6 268.3 299 271.6 305.6 274.2 314.4 274.9 323.2 275.3 332 274.9 340.8 274.9 349.6 274.9 356.2 272.7 362.8 269.8 367.2 266.1 370.5 262.8 374 261.7" stroke="#2ca02c" stroke-width="0.8" fill="none"/>
<path d="M268 260.7 268.9 262.1 269.8 260.6 270.7 261.4 271.6 260.6 272.5 261 273.4 262.8 274.3 263.7 275.2 263 276.1 262.9 277 265.3 277.9 264.6 278.8 263.4 279.7 265 280.6 265.8 281.5 263 282.4 263.6 283.3 265.6 284.2 267.5 285.1 266.8 286 268 286.9 269.2 287.8 271.5 288.7 271.3 289.6 269.6 290.5 267.7 291.4 267.4 292.3 270.7 293.2 273.5 294.1 273.2 295 270 295.9 270.3 296.8 276.5 297.7 274.8 298.6 279 299.5 277.2 300.4 278.1 301.3 275.7 302.2 275.2 303.1 275.9 304 272.8 304.9 270.1 305.8 271.3 306.7 270.7 307.6 274.8 308.5 277 309.4 276.1 310.3 274.8 311.2 277.7 312.1 276.5 313 276.9 313.9 275.4 314.8 270.6 315.7 271.4 316.6 275 317.5 273.5 318.4 277 319.3 276.5 320.2 278.6 321.1 279.3 322 274.9 322.9 278.6 323.8 271.7 324.7 277.9 325.6 277.4 326.5 279.1 327.4 275.5 328.3 275.1 329.2 273.7 330.1 275.4 331 274.4 331.9 275.5 332.8 277.1 333.7 274.8 334.6 276.9 335.5 274.6 336.4 272.5 337.3 276.6 338.2 276.7 339.1 276.1 340 277.4 340.9 274.9 341.8 272.6 342.7 272.4 343.6 276.1 344.5 275.9 345.4 276.5 346.3 275.4 347.2 276.5 348.1 274.7 349 276 349.9 274.1 350.8 276.9 351.7 276.4 352.6 277 353.5 274.1 354.4 272.9 355.3 268.5 356.2 269.1 357.1 270.6 358 269.4 358.9 266.9 359.8 267.7 360.7 266.8 361.6 266.3 362.5 265.7 363.4 265.4 364.3 264.9 365.2 264.3 366.1 263.1 367 260.9 367.9 260.4 368.8 259.7 369.7 259.9 370.6 262 371.5 262.4 372.4 261.5 373.3 262.7" stroke="#111" stroke-width="0.7" fill="none" stroke-linejoin="round"/>
<path d="M284 282.8 284.5 285.2 285 287 285.5 288.5 286 289.5 286.5 290.4 287 291.1 287.5 291.7 288 292.2 288.5 292.6 289 292.9 289.5 293.2 290 293.5 290.5 293.7 291 293.9 291.5 294.1 292 294.3 292.5 294.4 293 294.6 293.5 294.7 294 294.8 294.5 295 295 295.1 295.5 295.2 296 295.3 296.5 295.3 297 295.4 297.5 295.5 298 295.6 298.5 295.6 299 295.7 299.5 295.8 300 295.8 300.5 295.9 301 295.9 301.5 295.9 302 296 302.5 296 303 296 303.5 296.1 304 296.1 304.5 296.1 305 296.2 305.5 296.2 306 296.2 306.5 296.2 307 296.2 307.5 296.3 308 296.3 308.5 296.3 309 296.3 309.5 296.3 310 296.3 310.5 296.3 311 296.4 311.5 296.4 312 296.4 312.5 296.4 313 296.4 313.5 296.4 314 296.4 314.5 296.4 315 296.4 315.5 296.4 316 296.4 316.5 296.4 317 296.4 317.5 296.4 318 296.4 318.5 296.5 319 296.5 319.5 296.5 320 296.5 320.5 296.5 321 296.5 321.5 296.5 322 296.5 322.5 296.5 323 296.5 323.5 296.5 324 296.5 328 296.5 332 296.5 336 296.5 340 296.5 344 296.5 348 296.5 352 296.5 356 296.5 360 296.5 364 296.5 366.1 296.5" stroke="#444" stroke-width="0.55" stroke-dasharray="1 0.7" fill="none"/>
<path d="M284 282.8 284.5 286.9 285 289.8 285.5 291.8 286 293.3 286.5 294.3 287 295.2 287.5 295.8 288 296.3 288.5 296.7 289 297.1 289.5 297.3 290 297.6 290.5 297.8 291 298 291.5 298.2 292 298.3 292.5 298.5 293 298.6 293.5 298.7 294 298.8 294.5 298.9 295 298.9 295.5 299 296 299.1 296.5 299.1 297 299.2 297.5 299.2 298 299.3 298.5 299.3 299 299.4 299.5 299.4 300 299.4 300.5 299.5 301 299.5 301.5 299.5 302 299.5 302.5 299.5 303 299.5 303.5 299.6 304 299.6 304.5 299.6 305 299.6 305.5 299.6 306 299.6 306.5 299.6 307 299.6 307.5 299.6 308 299.6 308.5 299.6 309 299.7 309.5 299.7 310 299.7 310.5 299.7 311 299.7 311.5 299.7 312 299.7 312.5 299.7 313 299.7 313.5 299.7 314 299.7 314.5 299.7 315 299.7 315.5 299.7 316 299.7 316.5 299.7 317 299.7 317.5 299.7 318 299.7 318.5 299.7 319 299.7 319.5 299.7 320 299.7 320.5 299.7 321 299.7 321.5 299.7 322 299.7 322.5 299.7 323 299.7 323.5 299.7 324 299.7 328 299.7 332 299.7 336 299.7 340 299.7 344 299.7 348 299.7 352 299.7 356 299.7 360 299.7 364 299.7 366.1 299.7" stroke="#333" stroke-width="0.6" fill="none"/>
<path d="M267.6 322.8H374.6" stroke="#555" stroke-width="0.4" stroke-dasharray="1 0.8"/>
<path d="M268 323.8 268.8 324.1 269.6 324.7 270.4 325.1 271.2 325.3 272 325 272.8 325 273.6 325 274.4 324.7 275.2 325 276 325.8 276.8 326.1 277.6 325.7 278.4 325 279.2 324.9 280 324.4 280.8 324.3 281.6 324.2 282.4 323 283.2 323.2 284 322.6 284.8 322.3 285.6 322 286.4 322.5 287.2 322.5 288 322.3 288.8 321.6 289.6 320.9 290.4 320.7 291.2 320.8 292 320.6 292.8 320.6 293.6 320.1 294.4 320.5 295.2 320.2 296 320.3 296.8 319.6 297.6 318.8 298.4 318.1 299.2 318.2 300 318.2 300.8 317.7 301.6 317.4 302.4 316.9 303.2 316.4 304 316.1 304.8 315.2 305.6 314.9 306.4 315.1 307.2 315.1 308 315.3 308.8 315 309.6 314.6 310.4 314.1 311.2 312.8 312 312.9 312.8 312.7 313.6 313.1 314.4 313.1 315.2 313 316 312.9 316.8 312.9 317.6 312.3 318.4 313.5 319.2 315.3 320 315.5 320.8 315.3 321.6 315.2 322.4 315.2 323.2 316.5 324 316.2 324.8 315.8 325.6 315.3 326.4 314.4 327.2 314.9 328 315.6 328.8 315.7 329.6 315.5 330.4 315 331.2 314.6 332 314.8 332.8 314.7 333.6 314.4 334.4 315.3 335.2 314.8 336 314.7 336.8 313.9 337.6 315.1 338.4 315 339.2 315 340 315.2 340.8 314.8 341.6 314.8 342.4 315.1 343.2 314.9 344 315.3 344.8 315.8 345.6 315.9 346.4 316.2 347.2 316.2 348 316.5 348.8 316 349.6 315.9 350.4 315.2 351.2 315.2 352 315 352.8 315.2 353.6 314.9 354.4 315.3 355.2 316.5 356 315.9 356.8 316.2 357.6 316.4 358.4 316 359.2 316.1 360 316.1 360.8 316.6 361.6 316.8 362.4 318.3 363.2 318.6 364 319 364.8 319.8 365.6 321.7 366.4 323.5 367.2 324.6 368 324.4 368.8 324.4 369.6 324.7 370.4 323.7 371.2 323.3 372 323.6 372.8 324.1 373.6 323.9" stroke="#b03cc0" stroke-width="0.75" fill="none" stroke-linejoin="round"/>
<path d="M267.6 188.3V183.5H374.6V188.3M267.6 188.3V232.2M374.6 188.3V232.2M267.6 232.2V254.3M374.6 232.2V254.3M267.6 256.7V281.1M374.6 256.7V281.1M267.6 281.1V306.3M374.6 281.1V306.3M267.6 306.3V329.6M374.6 306.3V329.6M267.6 183.5H374.6" stroke="#808080" stroke-width="0.8" fill="none"/>
<path d="M267.6 188.3H374.6M267.6 232.2H374.6M267.6 254.3H374.6M267.6 256.7H374.6M267.6 281.1H374.6M267.6 306.3H374.6M267.6 329.6H374.6" stroke="#7a7a7a" stroke-width="1.35" fill="none"/>
<path d="M269.9 187.6v1.4M289.04 187.6v1.4M308.18 187.6v1.4M327.32 187.6v1.4M346.46 187.6v1.4M365.6 187.6v1.4M269.9 231.5v1.4M289.04 231.5v1.4M308.18 231.5v1.4M327.32 231.5v1.4M346.46 231.5v1.4M365.6 231.5v1.4M266.3 194.6h1.3M266.3 199.9h1.3M266.3 205.2h1.3M266.3 210.5h1.3M266.3 215.8h1.3M266.3 221.1h1.3M266.3 226.4h1.3M269.9 253.6v1.4M289.04 253.6v1.4M308.18 253.6v1.4M327.32 253.6v1.4M346.46 253.6v1.4M365.6 253.6v1.4M266.3 234.9h1.3M266.3 238.74h1.3M266.3 242.58h1.3M266.3 246.42h1.3M266.3 250.26h1.3M266.3 254.1h1.3M269.9 256v1.4M289.04 256v1.4M308.18 256v1.4M327.32 256v1.4M346.46 256v1.4M365.6 256v1.4M269.9 280.4v1.4M289.04 280.4v1.4M308.18 280.4v1.4M327.32 280.4v1.4M346.46 280.4v1.4M365.6 280.4v1.4M266.3 259.38h1.3M266.3 263.3h1.3M266.3 267.22h1.3M266.3 271.14h1.3M266.3 275.06h1.3M266.3 278.98h1.3M269.9 305.6v1.4M289.04 305.6v1.4M308.18 305.6v1.4M327.32 305.6v1.4M346.46 305.6v1.4M365.6 305.6v1.4M266.3 284h1.3M266.3 287.9h1.3M266.3 291.8h1.3M266.3 295.7h1.3M266.3 299.6h1.3M266.3 303.5h1.3M269.9 328.9v1.4M289.04 328.9v1.4M308.18 328.9v1.4M327.32 328.9v1.4M346.46 328.9v1.4M365.6 328.9v1.4M266.3 308.25h1.3M266.3 313.1h1.3M266.3 317.95h1.3M266.3 322.8h1.3M266.3 327.65h1.3M269.9 329.6v1.3M289.04 329.6v1.3M308.18 329.6v1.3M327.32 329.6v1.3M346.46 329.6v1.3M365.6 329.6v1.3" stroke="#1e1e1e" stroke-width="0.75" fill="none"/>
<text class="sd" transform="matrix(.88 0 0 1 288.55 187.1)">0</text>
<text class="sd" transform="matrix(.88 0 0 1 303.95 187.1)">1</text>
<text class="sd" transform="matrix(.88 0 0 1 336.95 187.1)">2</text>
<text class="sd" transform="matrix(.88 0 0 1 370.7 187.1)">3</text>
<text class="rs" transform="matrix(.88 0 0 1 268.8 187)">Refs</text>
<text class="tk" transform="matrix(.88 0 0 1 263.6 196.3)">450</text>
<text class="tk" transform="matrix(.88 0 0 1 263.6 201.6)">400</text>
<text class="tk" transform="matrix(.88 0 0 1 263.6 206.9)">350</text>
<text class="tk" transform="matrix(.88 0 0 1 263.6 212.2)">300</text>
<text class="tk" transform="matrix(.88 0 0 1 263.6 217.5)">250</text>
<text class="tk" transform="matrix(.88 0 0 1 263.6 222.8)">200</text>
<text class="tk" transform="matrix(.88 0 0 1 263.6 228.1)">150</text>
<text class="tk" transform="matrix(.88 0 0 1 263.6 236.6)">50</text>
<text class="tk" transform="matrix(.88 0 0 1 263.6 240.44)">40</text>
<text class="tk" transform="matrix(.88 0 0 1 263.6 244.28)">30</text>
<text class="tk" transform="matrix(.88 0 0 1 263.6 248.12)">20</text>
<text class="tk" transform="matrix(.88 0 0 1 263.6 251.96)">10</text>
<text class="tk" transform="matrix(.88 0 0 1 263.6 255.8)">0</text>
<text class="tk" transform="matrix(.88 0 0 1 263.6 261.08)">10</text>
<text class="tk" transform="matrix(.88 0 0 1 263.6 265)">0</text>
<text class="tk" transform="matrix(.88 0 0 1 263.6 268.92)">−10</text>
<text class="tk" transform="matrix(.88 0 0 1 263.6 272.84)">−20</text>
<text class="tk" transform="matrix(.88 0 0 1 263.6 276.76)">−30</text>
<text class="tk" transform="matrix(.88 0 0 1 263.6 280.68)">−40</text>
<text class="tk" transform="matrix(.88 0 0 1 263.6 285.7)">50</text>
<text class="tk" transform="matrix(.88 0 0 1 263.6 289.6)">40</text>
<text class="tk" transform="matrix(.88 0 0 1 263.6 293.5)">30</text>
<text class="tk" transform="matrix(.88 0 0 1 263.6 297.4)">20</text>
<text class="tk" transform="matrix(.88 0 0 1 263.6 301.3)">10</text>
<text class="tk" transform="matrix(.88 0 0 1 263.6 305.2)">0</text>
<text class="tk" transform="matrix(.88 0 0 1 263.6 309.95)">30</text>
<text class="tk" transform="matrix(.88 0 0 1 263.6 314.8)">20</text>
<text class="tk" transform="matrix(.88 0 0 1 263.6 319.65)">10</text>
<text class="tk" transform="matrix(.88 0 0 1 263.6 324.5)">0</text>
<text class="tk" transform="matrix(.88 0 0 1 263.6 329.35)">−10</text>
<text class="tk xl" transform="matrix(0.9 0 0 1 269.9 335.4)">Aug 2004</text>
<text class="tk xl" transform="matrix(0.9 0 0 1 289.04 335.4)">Oct 2004</text>
<text class="tk xl" transform="matrix(0.9 0 0 1 308.18 335.4)">Dec 2004</text>
<text class="tk xl" transform="matrix(0.9 0 0 1 327.32 335.4)">Feb 2005</text>
<text class="tk xl" transform="matrix(0.9 0 0 1 346.46 335.4)">Apr 2005</text>
<text class="tk xl" transform="matrix(0.9 0 0 1 365.6 335.4)">Jun 2005</text>
<text class="ti" transform="matrix(0.9 0 0 1 441.65 179.4)">Eureka 2005-06</text>
<rect x="388.4" y="183.5" width="106.5" height="4.8" fill="#b9b9b9"/>
<path d="M388.9 184.2H405.2V187.6H388.9ZM406.2 184.2H410.7V187.6H406.2ZM411.7 184.2H414.7V187.6H411.7ZM415.7 184.2H419.5V187.6H415.7ZM420.5 184.2H422.8V187.6H420.5ZM423.8 184.2H426.1V187.6H423.8ZM427.1 184.2H429.4V187.6H427.1ZM430.4 184.2H437.1V187.6H430.4ZM438.1 184.2H458V187.6H438.1ZM459 184.2H477.8V187.6H459ZM478.8 184.2H484.4V187.6H478.8ZM485.4 184.2H494.4V187.6H485.4Z" fill="#fff"/>
<path d="M388.4 194.6H494.9M388.4 199.9H494.9M388.4 205.2H494.9M388.4 210.5H494.9M388.4 215.8H494.9M388.4 221.1H494.9M388.4 226.4H494.9M388.4 234.9H494.9M388.4 238.74H494.9M388.4 242.58H494.9M388.4 246.42H494.9M388.4 250.26H494.9M388.4 259.38H494.9M388.4 267.22H494.9M388.4 271.14H494.9M388.4 275.06H494.9M388.4 278.98H494.9M388.4 284H494.9M388.4 287.9H494.9M388.4 291.8H494.9M388.4 295.7H494.9M388.4 299.6H494.9M388.4 308.25H494.9M388.4 313.1H494.9M388.4 317.95H494.9M388.4 327.65H494.9" stroke="#d0d0d0" stroke-width="0.75" fill="none"/>
<path d="M390.3 188.3V232.2M409.4 188.3V232.2M428.5 188.3V232.2M447.6 188.3V232.2M466.7 188.3V232.2M485.8 188.3V232.2M390.3 232.2V254.3M409.4 232.2V254.3M428.5 232.2V254.3M447.6 232.2V254.3M466.7 232.2V254.3M485.8 232.2V254.3M390.3 256.7V281.1M409.4 256.7V281.1M428.5 256.7V281.1M447.6 256.7V281.1M466.7 256.7V281.1M485.8 256.7V281.1M390.3 281.1V306.3M409.4 281.1V306.3M428.5 281.1V306.3M447.6 281.1V306.3M466.7 281.1V306.3M485.8 281.1V306.3M390.3 306.3V329.6M409.4 306.3V329.6M428.5 306.3V329.6M447.6 306.3V329.6M466.7 306.3V329.6M485.8 306.3V329.6" stroke="#b4b4b4" stroke-width="0.65" fill="none"/>
<path d="M405.8 188.3V232.2M411.8 188.3V232.2M417.2 188.3V232.2M419.9 188.3V232.2M437.7 188.3V232.2M477.6 188.3V232.2M405.8 232.2V254.3M411.8 232.2V254.3M417.2 232.2V254.3M419.9 232.2V254.3M437.7 232.2V254.3M477.6 232.2V254.3M405.8 256.7V281.1M411.8 256.7V281.1M417.2 256.7V281.1M419.9 256.7V281.1M437.7 256.7V281.1M477.6 256.7V281.1M405.8 281.1V306.3M411.8 281.1V306.3M417.2 281.1V306.3M419.9 281.1V306.3M437.7 281.1V306.3M477.6 281.1V306.3M405.8 306.3V329.6M411.8 306.3V329.6M417.2 306.3V329.6M419.9 306.3V329.6M437.7 306.3V329.6M477.6 306.3V329.6" stroke="#5a5a5a" stroke-width="0.5" stroke-dasharray="0.75 0.85" fill="none"/>
<path d="M388.4 303.5H494.9M388.4 263.3H494.9" stroke="#a0a0a0" stroke-width="0.45" stroke-dasharray="1 0.8"/>
<path d="M431 204.9 432 203.5 433 205 434 204.3 435 203.9 436 205.2 437 204.3 438 204.1 439 204.5 440 204.4 441 202.7 442 201.7 443 200.6 444 199.5 445 198.7 445.9 198.4 446.8 198.7 447.7 199.3 448.6 196.8 449.5 198.6 450.5 199.8 451.4 197.6 452.3 197.2 453.2 197 454.1 198.1 455 197.9 455.9 198.1 456.8 198.7 457.7 198.3 458.6 199.1 459.5 199.1 460.5 198.6 461.4 199.4 462.3 199.4 463.2 198.1 464.1 199.5 465 199.2 465.9 198.6 466.8 199.5 467.8 199.7 468.7 199.3 469.6 199.3 470.5 198.3 471.5 198.5 472.4 197.8 473.3 199.4 474.2 200 475.1 198.9 476.1 198.7 477 198.9 477.9 198.8 478.8 199.4 479.8 198.4 480.7 198.6 481.6 198.7 481.6 207.9 480.7 208.4 479.8 208.7 478.8 208.3 477.9 206.9 477 207.3 476.1 206.6 475.1 208.5 474.2 206.4 473.3 208.3 472.4 208.3 471.5 208 470.5 208.4 469.6 206.2 468.7 207.8 467.8 207.8 466.8 207.8 465.9 206.6 465 207.3 464.1 207.2 463.2 208 462.3 208.8 461.4 208.2 460.5 207.4 459.5 207.1 458.6 206.9 457.7 206.6 456.8 207.9 455.9 207.7 455 207.3 454.1 206.8 453.2 207.6 452.3 206.5 451.4 206.5 450.5 208 449.5 207.1 448.6 207.8 447.7 208.5 446.8 207.2 445.9 207.2 445 207.5 444 208.8 443 210.3 442 208.6 441 210.8 440 210.4 439 210.4 438 212 437 212.1 436 212.6 435 211.9 434 211.3 433 210.9 432 212.2 431 211.5Z" fill="#b3e2f2"/>
<path d="M427.7 208.1 428.6 207.6 429.5 211.2 430.4 212.6 431.3 210.1 432.2 212.4 433.1 213.3 434 211.5 434.9 210.6 435.8 210.5 436.7 208.6 437.6 206.6 438.5 205.9 439.4 209.5 440.3 208.8 441.2 205.5 442.1 201.8 443 204.1 443.9 204.9 444.8 202.6 445.7 202.2 446.6 206 447.5 206.2 448.4 205.1 449.3 203.9 450.2 203 451.1 203.3 452 204.9 452.9 203.2 453.8 203.4 454.7 205.1 455.6 201.4 456.5 200.8 457.4 203.3 458.3 201.8 459.2 201.5 460.1 200.5 461 199.8 461.9 202.8 462.8 199.1 463.7 201.9 464.6 201.5 465.5 202.1 466.4 200.2 467.3 203.4 468.2 203.8 469.1 203.7 470 203.9 470.9 202.1 471.8 203.6 472.7 204.3 473.6 204 474.5 200.6 475.4 203.6 476.3 204.5 477.2 203 478.1 203.9 479 205.3 479.9 203.8 480.8 204.8" stroke="#2238ff" stroke-width="0.85" fill="none" stroke-linejoin="round"/>
<path d="M419.6 210.8V217.4M419.2 210.8h0.9M419.2 217.4h0.9M423.3 197.6V206.4M422.9 197.6h0.9M422.9 206.4h0.9M428.8 205.3V211.9M428.4 205.3h0.9M428.4 211.9h0.9M433.2 206.4V213M432.8 206.4h0.9M432.8 213h0.9M438 196.5V205.3M437.6 196.5h0.9M437.6 205.3h0.9M443.1 200.9V207.5M442.7 200.9h0.9M442.7 207.5h0.9M447.5 200.9V208.6M447.1 200.9h0.9M447.1 208.6h0.9M452.6 200.9V208.6M452.2 200.9h0.9M452.2 208.6h0.9M457 193.2V202M456.6 193.2h0.9M456.6 202h0.9M461.8 197.6V206.4M461.4 197.6h0.9M461.4 206.4h0.9M466.6 200.9V209.7M466.2 200.9h0.9M466.2 209.7h0.9M471 202V209.7M470.6 202h0.9M470.6 209.7h0.9M476.1 200.9V208.6M475.7 200.9h0.9M475.7 208.6h0.9" stroke="#1e1e1e" stroke-width="0.55" fill="none"/>
<path d="M419.6 214.1h0.01M423.3 202h0.01M428.8 208.6h0.01M433.2 209.7h0.01M438 200.9h0.01M443.1 204.2h0.01M447.5 204.8h0.01M452.6 204.8h0.01M457 197.6h0.01M461.8 202h0.01M466.6 205.3h0.01M471 205.8h0.01M476.1 204.8h0.01" stroke="#111" stroke-width="1.1" stroke-linecap="round"/>
<text class="st" transform="matrix(.88 0 0 1 478.6 216)">Overlap:</text><text class="st" transform="matrix(.88 0 0 1 493.1 216)">49.7</text>
<text class="st" transform="matrix(.88 0 0 1 478.6 219.65)">MAPE:</text><text class="st" transform="matrix(.88 0 0 1 493.1 219.65)">5.2</text>
<text class="st" transform="matrix(.88 0 0 1 478.6 223.3)">RMSE:</text><text class="st" transform="matrix(.88 0 0 1 493.1 223.3)">31.6</text>
<text class="st" transform="matrix(.88 0 0 1 478.6 226.95)">Bias:</text><text class="st" transform="matrix(.88 0 0 1 493.1 226.95)">6.3</text>
<text class="st" transform="matrix(.88 0 0 1 478.6 230.6)">Corr:</text><text class="st" transform="matrix(.88 0 0 1 493.1 230.6)">0.377</text>
<path d="M409 254.2 450 253.4 480 253 487 254.2Z" fill="#6f6f6f" fill-opacity="0.9"/>
<path d="M389 253.8 409 253.8 413.4 253.1 417.8 252 422.2 250.9 426.6 250.2 428.4 246.5 429.9 249.8 433.2 250.2 437.6 249.8 442 247.6 448.6 247.2 455.2 246.5 461.8 245.8 468.4 245.8 475 246.5 479.4 249.4 483.8 252 487.1 253.8 494.6 253.8" stroke="#f3ab3c" stroke-opacity="0.8" stroke-width="0.95" fill="none" stroke-linejoin="round"/>
<path d="M418.9 251.6h0.01M423.3 250.9h0.01M428.8 250.2h0.01M433.2 250.9h0.01M438 250.2h0.01M443.1 247.2h0.01M448.2 247.6h0.01M452.6 246.5h0.01M457 247.6h0.01M461.8 245.4h0.01M466.6 245.4h0.01M471 245.8h0.01M476.1 244.3h0.01" stroke="#111" stroke-width="1.7" stroke-linecap="square"/>
<path d="M389 259.6 390.3 259.7 398 260.8 404.6 262.6 411.2 265.2 417.8 269.2 424.4 271.8 433.2 274 442 275.1 453 275.1 464 274.7 470.6 273.6 477.2 270.7 483.8 266.3 490.4 263 494.6 261.9" stroke="#2ca02c" stroke-width="0.8" fill="none"/>
<path d="M389 260.8 389.9 260.8 390.8 259.8 391.7 261 392.6 258.5 393.5 260.1 394.4 259.4 395.3 258.8 396.2 259.2 397.1 261.2 398 259.7 398.9 260 399.8 260.1 400.7 259.1 401.6 261.7 402.5 261.1 403.4 259.9 404.3 262.1 405.2 261.1 406.1 262 407 261.9 407.9 262 408.8 263.4 409.7 267.5 410.6 267 411.5 268.2 412.4 268.4 413.3 268.4 414.2 266.6 415.1 268.9 416 268.4 416.9 270.4 417.8 270.9 418.7 273.8 419.6 273.4 420.5 273.5 421.4 273.9 422.3 276.8 423.2 272.7 424.1 271.8 425 273.8 425.9 271.2 426.8 270.8 427.7 268.9 428.6 272 429.5 263.1 430.4 270.8 431.3 274.1 432.2 276.2 433.1 277.8 434 278.7 434.9 275.9 435.8 275.2 436.7 281.2 437.6 278.6 438.5 275.3 439.4 275.2 440.3 278.1 441.2 279.7 442.1 275 443 278.7 443.9 277.8 444.8 273.2 445.7 276.2 446.6 279.1 447.5 278.3 448.4 276.3 449.3 281 450.2 276.8 451.1 275.7 452 280.2 452.9 276.8 453.8 274 454.7 273.4 455.6 271.3 456.5 271.4 457.4 275.7 458.3 275.8 459.2 274.5 460.1 280.5 461 279.3 461.9 281.7 462.8 276.8 463.7 278.4 464.6 276.5 465.5 277 466.4 277.5 467.3 273.4 468.2 276.4 469.1 276.1 470 271.4 470.9 272.8 471.8 273.1 472.7 271.9 473.6 270 474.5 268.3 475.4 267.6 476.3 266.3 477.2 263.6 478.1 262.6 479 264.4 479.9 263 480.8 261.9 481.7 260.5 482.6 263.3 483.5 262.8 484.4 262.9 485.3 261.4 486.2 262 487.1 261.7 488 260.9 488.9 261.3 489.8 261 490.7 261 491.6 260 492.5 261.6 493.4 259.4 494.3 259.7" stroke="#111" stroke-width="0.7" fill="none" stroke-linejoin="round"/>
<path d="M406.4 282.8 406.9 284.1 407.4 285.2 407.9 286.2 408.4 287 408.9 287.8 409.4 288.5 409.9 289 410.4 289.5 410.9 290 411.4 290.4 411.9 290.8 412.4 291.1 412.9 291.4 413.4 291.7 413.9 291.9 414.4 292.2 414.9 292.4 415.4 292.6 415.9 292.7 416.4 292.9 416.9 293.1 417.4 293.2 417.9 293.3 418.4 293.5 418.9 293.6 419.4 293.7 419.9 293.8 420.4 293.9 420.9 294 421.4 294.1 421.9 294.2 422.4 294.3 422.9 294.4 423.4 294.4 423.9 294.5 424.4 294.6 424.9 294.7 425.4 294.7 425.9 294.8 426.4 294.8 426.9 294.9 427.4 295 427.9 295 428.4 295.1 428.9 295.1 429.4 295.2 429.9 295.2 430.4 295.3 430.9 295.3 431.4 295.3 431.9 295.4 432.4 295.4 432.9 295.5 433.4 295.5 433.9 295.5 434.4 295.6 434.9 295.6 435.4 295.6 435.9 295.7 436.4 295.7 436.9 295.7 437.4 295.8 437.9 295.8 438.4 295.8 438.9 295.8 439.4 295.9 439.9 295.9 440.4 295.9 440.9 295.9 441.4 295.9 441.9 296 442.4 296 442.9 296 443.4 296 443.9 296 444.4 296 444.9 296.1 445.4 296.1 445.9 296.1 446.4 296.1 450.4 296.2 454.4 296.3 458.4 296.3 462.4 296.4 466.4 296.4 470.4 296.4 474.4 296.4 478.4 296.5 482.4 296.5 484.9 296.5" stroke="#444" stroke-width="0.55" stroke-dasharray="1 0.7" fill="none"/>
<path d="M406.4 282.8 406.9 285 407.4 286.9 407.9 288.5 408.4 289.8 408.9 290.9 409.4 291.8 409.9 292.6 410.4 293.3 410.9 293.8 411.4 294.3 411.9 294.8 412.4 295.2 412.9 295.5 413.4 295.8 413.9 296.1 414.4 296.3 414.9 296.5 415.4 296.7 415.9 296.9 416.4 297.1 416.9 297.2 417.4 297.3 417.9 297.5 418.4 297.6 418.9 297.7 419.4 297.8 419.9 297.9 420.4 298 420.9 298.1 421.4 298.2 421.9 298.2 422.4 298.3 422.9 298.4 423.4 298.5 423.9 298.5 424.4 298.6 424.9 298.6 425.4 298.7 425.9 298.7 426.4 298.8 426.9 298.8 427.4 298.9 427.9 298.9 428.4 298.9 428.9 299 429.4 299 429.9 299.1 430.4 299.1 430.9 299.1 431.4 299.1 431.9 299.2 432.4 299.2 432.9 299.2 433.4 299.2 433.9 299.3 434.4 299.3 434.9 299.3 435.4 299.3 435.9 299.3 436.4 299.4 436.9 299.4 437.4 299.4 437.9 299.4 438.4 299.4 438.9 299.4 439.4 299.5 439.9 299.5 440.4 299.5 440.9 299.5 441.4 299.5 441.9 299.5 442.4 299.5 442.9 299.5 443.4 299.5 443.9 299.5 444.4 299.5 444.9 299.6 445.4 299.6 445.9 299.6 446.4 299.6 450.4 299.6 454.4 299.6 458.4 299.7 462.4 299.7 466.4 299.7 470.4 299.7 474.4 299.7 478.4 299.7 482.4 299.7 484.9 299.7" stroke="#333" stroke-width="0.6" fill="none"/>
<path d="M388.4 322.8H494.9" stroke="#555" stroke-width="0.4" stroke-dasharray="1 0.8"/>
<path d="M389 323.8 389.8 323.8 390.6 323.8 391.4 324.1 392.2 324.7 393 324.1 393.8 324.5 394.6 324.7 395.4 324.7 396.2 324.9 397 324.9 397.8 325.8 398.6 325.4 399.4 325 400.2 325 401 324.3 401.8 324 402.6 324.2 403.4 323.5 404.2 322.8 405 322.4 405.8 321.8 406.6 322.2 407.4 322.2 408.2 322.6 409 321.4 409.8 320.7 410.6 320.1 411.4 320.1 412.2 320.2 413 320.6 413.8 320.5 414.6 320.1 415.4 321.2 416.2 320.7 417 320.9 417.8 320.2 418.6 320 419.4 319 420.2 318.7 421 319.2 421.8 319.4 422.6 319.2 423.4 319.2 424.2 318.4 425 318.8 425.8 318.6 426.6 318.4 427.4 318.8 428.2 318.6 429 318.4 429.8 318.4 430.6 318.4 431.4 318.4 432.2 318.6 433 318.5 433.8 318.9 434.6 319.4 435.4 319.4 436.2 318.9 437 318.6 437.8 318.8 438.6 318.7 439.4 319.2 440.2 319 441 319 441.8 318.6 442.6 318.7 443.4 318.3 444.2 317.9 445 318.4 445.8 318.1 446.6 318.2 447.4 318.8 448.2 319.3 449 319 449.8 318.7 450.6 319 451.4 319.2 452.2 319.2 453 318.6 453.8 318.5 454.6 319 455.4 318.4 456.2 318.6 457 319.1 457.8 319.3 458.6 318.8 459.4 318.6 460.2 318.6 461 318.2 461.8 318.5 462.6 318.3 463.4 318.7 464.2 318.3 465 318.1 465.8 318.1 466.6 318.2 467.4 317.3 468.2 318.1 469 318 469.8 318.1 470.6 318.5 471.4 318.4 472.2 318.5 473 318.6 473.8 318.9 474.6 319.1 475.4 319.4 476.2 319.2 477 318.8 477.8 319.1 478.6 318.8 479.4 319.2 480.2 319.1 481 318.3 481.8 318.6 482.6 318.4 483.4 318.2 484.2 317.9 485 318.5 485.8 318.9 486.6 318.3 487.4 318.1 488.2 318.1 489 318.4 489.8 320 490.6 320.7 491.4 322.1 492.2 321.9 493 322.5 493.8 324.2 494.6 325" stroke="#b03cc0" stroke-width="0.75" fill="none" stroke-linejoin="round"/>
<path d="M388.4 188.3V183.5H494.9V188.3M388.4 188.3V232.2M494.9 188.3V232.2M388.4 232.2V254.3M494.9 232.2V254.3M388.4 256.7V281.1M494.9 256.7V281.1M388.4 281.1V306.3M494.9 281.1V306.3M388.4 306.3V329.6M494.9 306.3V329.6M388.4 183.5H494.9" stroke="#808080" stroke-width="0.8" fill="none"/>
<path d="M388.4 188.3H494.9M388.4 232.2H494.9M388.4 254.3H494.9M388.4 256.7H494.9M388.4 281.1H494.9M388.4 306.3H494.9M388.4 329.6H494.9" stroke="#7a7a7a" stroke-width="1.35" fill="none"/>
<path d="M390.3 187.6v1.4M409.4 187.6v1.4M428.5 187.6v1.4M447.6 187.6v1.4M466.7 187.6v1.4M485.8 187.6v1.4M390.3 231.5v1.4M409.4 231.5v1.4M428.5 231.5v1.4M447.6 231.5v1.4M466.7 231.5v1.4M485.8 231.5v1.4M387.1 194.6h1.3M387.1 199.9h1.3M387.1 205.2h1.3M387.1 210.5h1.3M387.1 215.8h1.3M387.1 221.1h1.3M387.1 226.4h1.3M390.3 253.6v1.4M409.4 253.6v1.4M428.5 253.6v1.4M447.6 253.6v1.4M466.7 253.6v1.4M485.8 253.6v1.4M387.1 234.9h1.3M387.1 238.74h1.3M387.1 242.58h1.3M387.1 246.42h1.3M387.1 250.26h1.3M387.1 254.1h1.3M390.3 256v1.4M409.4 256v1.4M428.5 256v1.4M447.6 256v1.4M466.7 256v1.4M485.8 256v1.4M390.3 280.4v1.4M409.4 280.4v1.4M428.5 280.4v1.4M447.6 280.4v1.4M466.7 280.4v1.4M485.8 280.4v1.4M387.1 259.38h1.3M387.1 263.3h1.3M387.1 267.22h1.3M387.1 271.14h1.3M387.1 275.06h1.3M387.1 278.98h1.3M390.3 305.6v1.4M409.4 305.6v1.4M428.5 305.6v1.4M447.6 305.6v1.4M466.7 305.6v1.4M485.8 305.6v1.4M387.1 284h1.3M387.1 287.9h1.3M387.1 291.8h1.3M387.1 295.7h1.3M387.1 299.6h1.3M387.1 303.5h1.3M390.3 328.9v1.4M409.4 328.9v1.4M428.5 328.9v1.4M447.6 328.9v1.4M466.7 328.9v1.4M485.8 328.9v1.4M387.1 308.25h1.3M387.1 313.1h1.3M387.1 317.95h1.3M387.1 322.8h1.3M387.1 327.65h1.3M390.3 329.6v1.3M409.4 329.6v1.3M428.5 329.6v1.3M447.6 329.6v1.3M466.7 329.6v1.3M485.8 329.6v1.3" stroke="#1e1e1e" stroke-width="0.75" fill="none"/>
<text class="sd" transform="matrix(.88 0 0 1 433.75 187.1)">0</text>
<text class="sd" transform="matrix(.88 0 0 1 448.05 187.1)">1</text>
<text class="sd" transform="matrix(.88 0 0 1 468.4 187.1)">2</text>
<text class="sd" transform="matrix(.88 0 0 1 489.9 187.1)">3</text>
<text class="rs" transform="matrix(.88 0 0 1 389.6 187)">Refs</text>
<text class="tk" transform="matrix(.88 0 0 1 384.4 196.3)">450</text>
<text class="tk" transform="matrix(.88 0 0 1 384.4 201.6)">400</text>
<text class="tk" transform="matrix(.88 0 0 1 384.4 206.9)">350</text>
<text class="tk" transform="matrix(.88 0 0 1 384.4 212.2)">300</text>
<text class="tk" transform="matrix(.88 0 0 1 384.4 217.5)">250</text>
<text class="tk" transform="matrix(.88 0 0 1 384.4 222.8)">200</text>
<text class="tk" transform="matrix(.88 0 0 1 384.4 228.1)">150</text>
<text class="tk" transform="matrix(.88 0 0 1 384.4 236.6)">50</text>
<text class="tk" transform="matrix(.88 0 0 1 384.4 240.44)">40</text>
<text class="tk" transform="matrix(.88 0 0 1 384.4 244.28)">30</text>
<text class="tk" transform="matrix(.88 0 0 1 384.4 248.12)">20</text>
<text class="tk" transform="matrix(.88 0 0 1 384.4 251.96)">10</text>
<text class="tk" transform="matrix(.88 0 0 1 384.4 255.8)">0</text>
<text class="tk" transform="matrix(.88 0 0 1 384.4 261.08)">10</text>
<text class="tk" transform="matrix(.88 0 0 1 384.4 265)">0</text>
<text class="tk" transform="matrix(.88 0 0 1 384.4 268.92)">−10</text>
<text class="tk" transform="matrix(.88 0 0 1 384.4 272.84)">−20</text>
<text class="tk" transform="matrix(.88 0 0 1 384.4 276.76)">−30</text>
<text class="tk" transform="matrix(.88 0 0 1 384.4 280.68)">−40</text>
<text class="tk" transform="matrix(.88 0 0 1 384.4 285.7)">50</text>
<text class="tk" transform="matrix(.88 0 0 1 384.4 289.6)">40</text>
<text class="tk" transform="matrix(.88 0 0 1 384.4 293.5)">30</text>
<text class="tk" transform="matrix(.88 0 0 1 384.4 297.4)">20</text>
<text class="tk" transform="matrix(.88 0 0 1 384.4 301.3)">10</text>
<text class="tk" transform="matrix(.88 0 0 1 384.4 305.2)">0</text>
<text class="tk" transform="matrix(.88 0 0 1 384.4 309.95)">30</text>
<text class="tk" transform="matrix(.88 0 0 1 384.4 314.8)">20</text>
<text class="tk" transform="matrix(.88 0 0 1 384.4 319.65)">10</text>
<text class="tk" transform="matrix(.88 0 0 1 384.4 324.5)">0</text>
<text class="tk" transform="matrix(.88 0 0 1 384.4 329.35)">−10</text>
<text class="tk xl" transform="matrix(0.9 0 0 1 390.3 335.4)">Aug 2005</text>
<text class="tk xl" transform="matrix(0.9 0 0 1 409.4 335.4)">Oct 2005</text>
<text class="tk xl" transform="matrix(0.9 0 0 1 428.5 335.4)">Dec 2005</text>
<text class="tk xl" transform="matrix(0.9 0 0 1 447.6 335.4)">Feb 2006</text>
<text class="tk xl" transform="matrix(0.9 0 0 1 466.7 335.4)">Apr 2006</text>
<text class="tk xl" transform="matrix(0.9 0 0 1 485.8 335.4)">Jun 2006</text>
<text class="ti" transform="matrix(0.9 0 0 1 77.35 349.8)">Eureka 2006-07</text>
<rect x="22.2" y="353.9" width="110.3" height="4.8" fill="#b9b9b9"/>
<path d="M22.7 354.6H40.6V357.9H22.7ZM41.6 354.6H43.3V357.9H41.6ZM44.3 354.6H45.6V357.9H44.3ZM46.6 354.6H50.1V357.9H46.6ZM51.1 354.6H53.6V357.9H51.1ZM54.6 354.6H63.4V357.9H54.6ZM64.4 354.6H71.8V357.9H64.4ZM72.8 354.6H95.3V357.9H72.8ZM96.3 354.6H115.8V357.9H96.3ZM116.8 354.6H120.8V357.9H116.8ZM121.8 354.6H125.8V357.9H121.8ZM126.8 354.6H132V357.9H126.8Z" fill="#fff"/>
<path d="M22.2 365H132.5M22.2 370.3H132.5M22.2 375.6H132.5M22.2 380.9H132.5M22.2 386.2H132.5M22.2 391.5H132.5M22.2 396.8H132.5M22.2 405.3H132.5M22.2 409.14H132.5M22.2 412.98H132.5M22.2 416.82H132.5M22.2 420.66H132.5M22.2 429.78H132.5M22.2 437.62H132.5M22.2 441.54H132.5M22.2 445.46H132.5M22.2 449.38H132.5M22.2 454.4H132.5M22.2 458.3H132.5M22.2 462.2H132.5M22.2 466.1H132.5M22.2 470H132.5M22.2 478.65H132.5M22.2 483.5H132.5M22.2 488.35H132.5M22.2 498.05H132.5" stroke="#d0d0d0" stroke-width="0.75" fill="none"/>
<path d="M24.2 358.7V402.6M43.88 358.7V402.6M63.56 358.7V402.6M83.24 358.7V402.6M102.92 358.7V402.6M122.6 358.7V402.6M24.2 402.6V424.7M43.88 402.6V424.7M63.56 402.6V424.7M83.24 402.6V424.7M102.92 402.6V424.7M122.6 402.6V424.7M24.2 427.1V451.5M43.88 427.1V451.5M63.56 427.1V451.5M83.24 427.1V451.5M102.92 427.1V451.5M122.6 427.1V451.5M24.2 451.5V476.7M43.88 451.5V476.7M63.56 451.5V476.7M83.24 451.5V476.7M102.92 451.5V476.7M122.6 451.5V476.7M24.2 476.7V500M43.88 476.7V500M63.56 476.7V500M83.24 476.7V500M102.92 476.7V500M122.6 476.7V500" stroke="#b4b4b4" stroke-width="0.65" fill="none"/>
<path d="M41.3 358.7V402.6M48.3 358.7V402.6M54.3 358.7V402.6M72.4 358.7V402.6M116.6 358.7V402.6M126.4 358.7V402.6M41.3 402.6V424.7M48.3 402.6V424.7M54.3 402.6V424.7M72.4 402.6V424.7M116.6 402.6V424.7M126.4 402.6V424.7M41.3 427.1V451.5M48.3 427.1V451.5M54.3 427.1V451.5M72.4 427.1V451.5M116.6 427.1V451.5M126.4 427.1V451.5M41.3 451.5V476.7M48.3 451.5V476.7M54.3 451.5V476.7M72.4 451.5V476.7M116.6 451.5V476.7M126.4 451.5V476.7M41.3 476.7V500M48.3 476.7V500M54.3 476.7V500M72.4 476.7V500M116.6 476.7V500M126.4 476.7V500" stroke="#5a5a5a" stroke-width="0.5" stroke-dasharray="0.75 0.85" fill="none"/>
<path d="M22.2 473.9H132.5M22.2 433.7H132.5" stroke="#a0a0a0" stroke-width="0.45" stroke-dasharray="1 0.8"/>
<path d="M68.9 381.3 70.4 380.4 71.5 380.7 72.6 382.6 74.1 385.6 75.5 381.5 76.7 382.9 77.8 383.8 78.9 383.5 80 379.9 81.1 381.8 82.2 381.5 83.3 382 84.4 383.1 85.5 382.3 86.6 382.4 87.7 380.7 88.8 380.1 89.9 380.2 91.1 378.9 92.5 376 94 375.1 95.1 375.4 96.2 379 97.3 377.1 98.5 378.2 99.6 379.5 100.7 380.7 101.8 381.8 102.9 381.5 104 381.3 105.1 380.4 106.2 379.5 107.3 378.4 108.4 378.4 109.6 377.8 110.7 377.6 111.8 376.7 113.3 376 113.3 379.6 111.8 379.6 110.7 381.1 109.6 380 108.4 381.4 107.3 382.8 106.2 382.8 105.1 383.3 104 384.6 102.9 386.3 101.8 385.3 100.7 383.4 99.6 383.7 98.5 382.1 97.3 381.3 96.2 380.9 95.1 377.3 94 378.1 92.5 379.6 91.1 383.1 89.9 381.9 88.8 384.4 87.7 384.8 86.6 386 85.5 386.2 84.4 387.1 83.3 387.3 82.2 385 81.1 385.2 80 384.8 78.9 385.6 77.8 388.3 76.7 386.7 75.5 385.5 74.1 389.2 72.6 384.9 71.5 385 70.4 384 68.9 384.9Z" fill="#b3e2f2"/>
<path d="M113.5 369.3 114.4 369.7 115.3 369.3 116.2 370.2 117.1 368.7 118 369.2 119 369.5 120 369.2 121 370.5 122 368.4 123 369.2 123 377.8 122 377.8 121 377.4 120 378.5 119 379.3 118 379.3 117.1 380.9 116.2 379.6 115.3 378.7 114.4 379 113.5 380Z" fill="#b3e2f2"/>
<path d="M68.9 381.6 69.8 381.8 70.7 383.2 71.6 382.3 72.5 382.5 73.4 385.5 74.3 382.7 75.2 386.1 76.1 385.9 77 386.1 77.9 385.6 78.8 385.8 79.7 385.1 80.6 383.7 81.5 382.6 82.4 383 83.3 384.2 84.2 383 85.1 385.2 86 385.8 86.9 381.2 87.8 384.1 88.7 381.4 89.6 381.1 90.5 380.3 91.4 378.6 92.3 376.7 93.2 376.7 94.1 373.7 95 378.4 95.9 375.5 96.8 378.1 97.7 379.4 98.6 377.7 99.5 379.4 100.4 380.2 101.3 379.8 102.2 380.1 103.1 385.7 104 385.5 104.9 382.2 105.8 382.4 106.7 382.2 107.6 382 108.5 381.8 109.4 380.5 110.3 377 111.2 379.6 112.1 374.5 113 378 113.9 375.7 114.8 373.4 115.7 376.9 116.6 374.5 117.5 380 118.4 376.3 119.3 375.9 120.2 374.3 121.1 373.1 122 378.1" stroke="#2238ff" stroke-width="0.85" fill="none" stroke-linejoin="round"/>
<path d="M54.1 383.1V389.9M53.6 383.1h0.9M53.6 389.9h0.9M58.6 369.4V377.4M58.1 369.4h0.9M58.1 377.4h0.9M63.9 384.2V389.9M63.4 384.2h0.9M63.4 389.9h0.9M68.9 379.6V386.5M68.5 379.6h0.9M68.5 386.5h0.9M73.9 378.5V385.3M73.5 378.5h0.9M73.5 385.3h0.9M78.5 377.4V384.2M78 377.4h0.9M78 384.2h0.9M83 378.5V385.3M82.5 378.5h0.9M82.5 385.3h0.9M88.3 378.5V384.2M87.8 378.5h0.9M87.8 384.2h0.9M92.8 372.8V379.6M92.3 372.8h0.9M92.3 379.6h0.9M97.4 376.2V381.9M97 376.2h0.9M97 381.9h0.9M101.9 376.2V383.1M101.5 376.2h0.9M101.5 383.1h0.9M107.2 373.9V380.8M106.8 373.9h0.9M106.8 380.8h0.9M112.2 371.7V378.5M111.8 371.7h0.9M111.8 378.5h0.9M116.8 373.9V380.8M116.3 373.9h0.9M116.3 380.8h0.9" stroke="#1e1e1e" stroke-width="0.55" fill="none"/>
<path d="M54.1 386.5h0.01M63.9 387h0.01M68.9 383.1h0.01M73.9 381.9h0.01M78.5 380.8h0.01M83 381.9h0.01M88.3 381.4h0.01M92.8 376.2h0.01M97.4 379h0.01M101.9 379.6h0.01M107.2 377.4h0.01M112.2 375.1h0.01M116.8 377.4h0.01" stroke="#111" stroke-width="1.1" stroke-linecap="round"/>
<path d="M58.6 373.4h0.01" stroke="#e8312a" stroke-width="1.4" stroke-linecap="round"/>
<text class="st" transform="matrix(.88 0 0 1 116.2 386.4)">Overlap:</text><text class="st" transform="matrix(.88 0 0 1 130.7 386.4)">58.8</text>
<text class="st" transform="matrix(.88 0 0 1 116.2 390.05)">MAPE:</text><text class="st" transform="matrix(.88 0 0 1 130.7 390.05)">11.8</text>
<text class="st" transform="matrix(.88 0 0 1 116.2 393.7)">RMSE:</text><text class="st" transform="matrix(.88 0 0 1 130.7 393.7)">40.9</text>
<text class="st" transform="matrix(.88 0 0 1 116.2 397.35)">Bias:</text><text class="st" transform="matrix(.88 0 0 1 130.7 397.35)">−14.5</text>
<text class="st" transform="matrix(.88 0 0 1 116.2 401)">Corr:</text><text class="st" transform="matrix(.88 0 0 1 130.7 401)">0.262</text>
<path d="M45 424.4 120 423.3 126 424.4Z" fill="#6f6f6f" fill-opacity="0.9"/>
<path d="M22.8 423.9 43.8 423.9 48.4 423.3 52.9 422.3 57.5 421.4 64.3 420.5 71.2 419.8 80.3 419.4 89.4 418.7 98.5 417.8 107.6 417.1 114.5 417.8 119 418.7 122.5 420.5 125.9 423.9 132.5 423.9" stroke="#f3ab3c" stroke-opacity="0.8" stroke-width="0.95" fill="none" stroke-linejoin="round"/>
<path d="M54.1 422.3h0.01M58.6 421.7h0.01M63.9 421.2h0.01M68.9 420.5h0.01M73.9 419.8h0.01M78.5 419.6h0.01M83 419.6h0.01M88.3 419.2h0.01M92.8 418.7h0.01M97.4 417.8h0.01M102.6 417.8h0.01M107.2 417.1h0.01M112.2 417.3h0.01M116.8 416.4h0.01" stroke="#111" stroke-width="1.7" stroke-linecap="square"/>
<path d="M22.8 430.7 24.4 430.8 32.4 431.5 39.2 433.1 46.1 436 52.9 439.9 59.8 442.9 66.6 445.1 78 446.7 89.4 447.9 98.5 448.3 105.4 446.7 112.2 443.3 119 439.9 125.9 438.8 130 436.5 132.5 433.7" stroke="#2ca02c" stroke-width="0.8" fill="none"/>
<path d="M22.8 429.1 23.7 430 24.6 430.6 25.5 431.1 26.4 431.4 27.3 430.7 28.2 432.2 29.1 430.1 30 432.9 30.9 432.5 31.8 431.9 32.7 432.9 33.6 431.7 34.5 434.3 35.4 433.4 36.3 433.4 37.2 433.1 38.1 432.6 39 434.3 39.9 433.6 40.8 434.9 41.7 434 42.6 434.4 43.5 434 44.4 432.4 45.3 435.4 46.2 437.7 47.1 434.3 48 436.4 48.9 435.9 49.8 436.4 50.7 436.3 51.6 439.2 52.5 440.2 53.4 439.4 54.3 439 55.2 435.9 56.1 437.8 57 441.2 57.9 445.4 58.8 443.9 59.7 443.2 60.6 444.7 61.5 443.9 62.4 445.7 63.3 445.2 64.2 446.6 65.1 446.5 66 446.8 66.9 449.5 67.8 445.6 68.7 446.3 69.6 445.1 70.5 444.7 71.4 446.7 72.3 446 73.2 443.7 74.1 443.4 75 444.8 75.9 447 76.8 446.8 77.7 448.3 78.6 447.3 79.5 448.1 80.4 449.9 81.3 448.9 82.2 449.2 83.1 446 84 443.9 84.9 445.5 85.8 447.4 86.7 445.9 87.6 447.4 88.5 449 89.4 449.7 90.3 448.5 91.2 444.5 92.1 447.7 93 446.6 93.9 448.7 94.8 449.5 95.7 447.7 96.6 448.3 97.5 447.8 98.4 450.1 99.3 449.9 100.2 449.3 101.1 447.7 102 447.1 102.9 444.3 103.8 441.9 104.7 438.2 105.6 439.2 106.5 436.7 107.4 439.4 108.3 437.9 109.2 442.6 110.1 441.1 111 441 111.9 440.2 112.8 438.6 113.7 438.9 114.6 439.6 115.5 439.4 116.4 438.4 117.3 438.8 118.2 438.9 119.1 436.8 120 437.1 120.9 437.7 121.8 436.3 122.7 436.1 123.6 434.1 124.5 433.3 125.4 432.3 126.3 432.8 127.2 431.1 128.1 431.1 129 430.5 129.9 430.5 130.8 429.5 131.7 431.7" stroke="#111" stroke-width="0.7" fill="none" stroke-linejoin="round"/>
<path d="M41.5 452.6 42 455.1 42.5 457 43 458.5 43.5 459.6 44 460.5 44.5 461.3 45 461.9 45.5 462.4 46 462.8 46.5 463.1 47 463.5 47.5 463.7 48 464 48.5 464.2 49 464.4 49.5 464.6 50 464.8 50.5 464.9 51 465 51.5 465.2 52 465.3 52.5 465.4 53 465.5 53.5 465.6 54 465.7 54.5 465.8 55 465.9 55.5 465.9 56 466 56.5 466.1 57 466.1 57.5 466.2 58 466.2 58.5 466.3 59 466.3 59.5 466.4 60 466.4 60.5 466.4 61 466.5 61.5 466.5 62 466.5 62.5 466.5 63 466.6 63.5 466.6 64 466.6 64.5 466.6 65 466.7 65.5 466.7 66 466.7 66.5 466.7 67 466.7 67.5 466.7 68 466.7 68.5 466.7 69 466.8 69.5 466.8 70 466.8 70.5 466.8 71 466.8 71.5 466.8 72 466.8 72.5 466.8 73 466.8 73.5 466.8 74 466.8 74.5 466.8 75 466.8 75.5 466.8 76 466.8 76.5 466.9 77 466.9 77.5 466.9 78 466.9 78.5 466.9 79 466.9 79.5 466.9 80 466.9 80.5 466.9 81 466.9 81.5 466.9 85.5 466.9 89.5 466.9 93.5 466.9 97.5 466.9 101.5 466.9 105.5 466.9 109.5 466.9 113.5 466.9 117.5 466.9 121.5 466.9 125.5 466.9 125.9 466.9" stroke="#444" stroke-width="0.55" stroke-dasharray="1 0.7" fill="none"/>
<path d="M41.5 452.6 42 456.8 42.5 459.8 43 461.9 43.5 463.4 44 464.5 44.5 465.4 45 466.1 45.5 466.6 46 467 46.5 467.4 47 467.7 47.5 467.9 48 468.1 48.5 468.3 49 468.5 49.5 468.7 50 468.8 50.5 468.9 51 469 51.5 469.2 52 469.2 52.5 469.3 53 469.4 53.5 469.5 54 469.5 54.5 469.6 55 469.6 55.5 469.7 56 469.7 56.5 469.8 57 469.8 57.5 469.8 58 469.8 58.5 469.9 59 469.9 59.5 469.9 60 469.9 60.5 469.9 61 470 61.5 470 62 470 62.5 470 63 470 63.5 470 64 470 64.5 470 65 470 65.5 470 66 470 66.5 470.1 67 470.1 67.5 470.1 68 470.1 68.5 470.1 69 470.1 69.5 470.1 70 470.1 70.5 470.1 71 470.1 71.5 470.1 72 470.1 72.5 470.1 73 470.1 73.5 470.1 74 470.1 74.5 470.1 75 470.1 75.5 470.1 76 470.1 76.5 470.1 77 470.1 77.5 470.1 78 470.1 78.5 470.1 79 470.1 79.5 470.1 80 470.1 80.5 470.1 81 470.1 81.5 470.1 85.5 470.1 89.5 470.1 93.5 470.1 97.5 470.1 101.5 470.1 105.5 470.1 109.5 470.1 113.5 470.1 117.5 470.1 121.5 470.1 125.5 470.1 125.9 470.1" stroke="#333" stroke-width="0.6" fill="none"/>
<path d="M22.2 493.2H132.5" stroke="#555" stroke-width="0.4" stroke-dasharray="1 0.8"/>
<path d="M22.8 494.9 23.6 495.3 24.4 495.7 25.2 495.4 26 495 26.8 495.3 27.6 495.7 28.4 496.2 29.2 495.6 30 495.3 30.8 495.7 31.6 495.8 32.4 496.2 33.2 496.1 34 495.5 34.8 495.1 35.6 496 36.4 495.2 37.2 494.5 38 493.9 38.8 493.9 39.6 493.7 40.4 493.3 41.2 493.1 42 493 42.8 493 43.6 493.1 44.4 492.6 45.2 491.5 46 491.8 46.8 490.8 47.6 490.4 48.4 489.5 49.2 490 50 490 50.8 490.4 51.6 491.9 52.4 491.4 53.2 491.5 54 490.5 54.8 490.4 55.6 490.6 56.4 490.3 57.2 490.3 58 490.1 58.8 489.5 59.6 489.8 60.4 489.4 61.2 490.2 62 489.7 62.8 489.9 63.6 489.7 64.4 490 65.2 489.5 66 489.9 66.8 489.6 67.6 490 68.4 489.9 69.2 489.7 70 489.2 70.8 489.5 71.6 489.6 72.4 490 73.2 489.5 74 489.5 74.8 489.5 75.6 489.4 76.4 489.3 77.2 489.2 78 488.9 78.8 488.5 79.6 488.6 80.4 489 81.2 489.5 82 489.5 82.8 489.6 83.6 489.5 84.4 489.4 85.2 489.1 86 489.2 86.8 489.6 87.6 489 88.4 488.5 89.2 489.3 90 489 90.8 489.2 91.6 489.2 92.4 488.5 93.2 489.5 94 489.7 94.8 489.2 95.6 489.2 96.4 488.9 97.2 488.3 98 488.3 98.8 488.4 99.6 488.7 100.4 488.7 101.2 488.4 102 488.9 102.8 488.4 103.6 488.8 104.4 489.2 105.2 488.9 106 488.2 106.8 488.2 107.6 488.8 108.4 489.1 109.2 489.8 110 489.1 110.8 489.2 111.6 489.5 112.4 489.4 113.2 488.5 114 489.4 114.8 490.4 115.6 490.4 116.4 489.7 117.2 489.6 118 489.8 118.8 490.8 119.6 490.6 120.4 490.3 121.2 490.8 122 490.4 122.8 491 123.6 490.3 124.4 490.1 125.2 491.8 126 494.5 126.8 495.6 127.6 495.9 128.4 495.3 129.2 494.8 130 494.4 130.8 494.1 131.6 494.1 132.4 493.5" stroke="#b03cc0" stroke-width="0.75" fill="none" stroke-linejoin="round"/>
<path d="M22.2 358.7V353.9H132.5V358.7M22.2 358.7V402.6M132.5 358.7V402.6M22.2 402.6V424.7M132.5 402.6V424.7M22.2 427.1V451.5M132.5 427.1V451.5M22.2 451.5V476.7M132.5 451.5V476.7M22.2 476.7V500M132.5 476.7V500M22.2 353.9H132.5" stroke="#808080" stroke-width="0.8" fill="none"/>
<path d="M22.2 358.7H132.5M22.2 402.6H132.5M22.2 424.7H132.5M22.2 427.1H132.5M22.2 451.5H132.5M22.2 476.7H132.5M22.2 500H132.5" stroke="#7a7a7a" stroke-width="1.35" fill="none"/>
<path d="M24.2 358v1.4M43.88 358v1.4M63.56 358v1.4M83.24 358v1.4M102.92 358v1.4M122.6 358v1.4M24.2 401.9v1.4M43.88 401.9v1.4M63.56 401.9v1.4M83.24 401.9v1.4M102.92 401.9v1.4M122.6 401.9v1.4M20.9 365h1.3M20.9 370.3h1.3M20.9 375.6h1.3M20.9 380.9h1.3M20.9 386.2h1.3M20.9 391.5h1.3M20.9 396.8h1.3M24.2 424v1.4M43.88 424v1.4M63.56 424v1.4M83.24 424v1.4M102.92 424v1.4M122.6 424v1.4M20.9 405.3h1.3M20.9 409.14h1.3M20.9 412.98h1.3M20.9 416.82h1.3M20.9 420.66h1.3M20.9 424.5h1.3M24.2 426.4v1.4M43.88 426.4v1.4M63.56 426.4v1.4M83.24 426.4v1.4M102.92 426.4v1.4M122.6 426.4v1.4M24.2 450.8v1.4M43.88 450.8v1.4M63.56 450.8v1.4M83.24 450.8v1.4M102.92 450.8v1.4M122.6 450.8v1.4M20.9 429.78h1.3M20.9 433.7h1.3M20.9 437.62h1.3M20.9 441.54h1.3M20.9 445.46h1.3M20.9 449.38h1.3M24.2 476v1.4M43.88 476v1.4M63.56 476v1.4M83.24 476v1.4M102.92 476v1.4M122.6 476v1.4M20.9 454.4h1.3M20.9 458.3h1.3M20.9 462.2h1.3M20.9 466.1h1.3M20.9 470h1.3M20.9 473.9h1.3M24.2 499.3v1.4M43.88 499.3v1.4M63.56 499.3v1.4M83.24 499.3v1.4M102.92 499.3v1.4M122.6 499.3v1.4M20.9 478.65h1.3M20.9 483.5h1.3M20.9 488.35h1.3M20.9 493.2h1.3M20.9 498.05h1.3M24.2 500v1.3M43.88 500v1.3M63.56 500v1.3M83.24 500v1.3M102.92 500v1.3M122.6 500v1.3" stroke="#1e1e1e" stroke-width="0.75" fill="none"/>
<text class="sd" transform="matrix(.88 0 0 1 59 357.5)">0</text>
<text class="sd" transform="matrix(.88 0 0 1 68.1 357.5)">1</text>
<text class="sd" transform="matrix(.88 0 0 1 84.05 357.5)">2</text>
<text class="sd" transform="matrix(.88 0 0 1 106.05 357.5)">3</text>
<text class="rs" transform="matrix(.88 0 0 1 23.4 357.4)">Refs</text>
<text class="tk" transform="matrix(.88 0 0 1 18.2 366.7)">450</text>
<text class="tk" transform="matrix(.88 0 0 1 18.2 372)">400</text>
<text class="tk" transform="matrix(.88 0 0 1 18.2 377.3)">350</text>
<text class="tk" transform="matrix(.88 0 0 1 18.2 382.6)">300</text>
<text class="tk" transform="matrix(.88 0 0 1 18.2 387.9)">250</text>
<text class="tk" transform="matrix(.88 0 0 1 18.2 393.2)">200</text>
<text class="tk" transform="matrix(.88 0 0 1 18.2 398.5)">150</text>
<text class="yl" transform="translate(8.3 381.15) rotate(-90) scale(0.86 1)">Density (kg m<tspan dy="-1.3" font-size="3.2">−3</tspan><tspan dy="1.3">)</tspan></text>
<text class="tk" transform="matrix(.88 0 0 1 18.2 407)">50</text>
<text class="tk" transform="matrix(.88 0 0 1 18.2 410.84)">40</text>
<text class="tk" transform="matrix(.88 0 0 1 18.2 414.68)">30</text>
<text class="tk" transform="matrix(.88 0 0 1 18.2 418.52)">20</text>
<text class="tk" transform="matrix(.88 0 0 1 18.2 422.36)">10</text>
<text class="tk" transform="matrix(.88 0 0 1 18.2 426.2)">0</text>
<text class="yl" transform="translate(8.3 414.15) rotate(-90) scale(0.86 1)">Depth (cm)</text>
<text class="tk" transform="matrix(.88 0 0 1 18.2 431.48)">10</text>
<text class="tk" transform="matrix(.88 0 0 1 18.2 435.4)">0</text>
<text class="tk" transform="matrix(.88 0 0 1 18.2 439.32)">−10</text>
<text class="tk" transform="matrix(.88 0 0 1 18.2 443.24)">−20</text>
<text class="tk" transform="matrix(.88 0 0 1 18.2 447.16)">−30</text>
<text class="tk" transform="matrix(.88 0 0 1 18.2 451.08)">−40</text>
<text class="yl" transform="translate(8.3 439.8) rotate(-90) scale(0.86 1)">Temp (°C)</text>
<text class="tk" transform="matrix(.88 0 0 1 18.2 456.1)">50</text>
<text class="tk" transform="matrix(.88 0 0 1 18.2 460)">40</text>
<text class="tk" transform="matrix(.88 0 0 1 18.2 463.9)">30</text>
<text class="tk" transform="matrix(.88 0 0 1 18.2 467.8)">20</text>
<text class="tk" transform="matrix(.88 0 0 1 18.2 471.7)">10</text>
<text class="tk" transform="matrix(.88 0 0 1 18.2 475.6)">0</text>
<text class="yl" transform="translate(8.3 464.6) rotate(-90) scale(0.86 1)">SSA (m<tspan dy="-1.3" font-size="3.2">2</tspan><tspan dy="1.3"> kg</tspan><tspan dy="-1.3" font-size="3.2">−1</tspan><tspan dy="1.3">)</tspan></text>
<text class="tk" transform="matrix(.88 0 0 1 18.2 480.35)">30</text>
<text class="tk" transform="matrix(.88 0 0 1 18.2 485.2)">20</text>
<text class="tk" transform="matrix(.88 0 0 1 18.2 490.05)">10</text>
<text class="tk" transform="matrix(.88 0 0 1 18.2 494.9)">0</text>
<text class="tk" transform="matrix(.88 0 0 1 18.2 499.75)">−10</text>
<text class="yl" transform="translate(8.3 488.85) rotate(-90) scale(0.86 1)">ΔT (K)</text>
<text class="tk xl" transform="matrix(0.9 0 0 1 24.2 505.8)">Aug 2006</text>
<text class="tk xl" transform="matrix(0.9 0 0 1 43.88 505.8)">Oct 2006</text>
<text class="tk xl" transform="matrix(0.9 0 0 1 63.56 505.8)">Dec 2006</text>
<text class="tk xl" transform="matrix(0.9 0 0 1 83.24 505.8)">Feb 2007</text>
<text class="tk xl" transform="matrix(0.9 0 0 1 102.92 505.8)">Apr 2007</text>
<text class="tk xl" transform="matrix(0.9 0 0 1 122.6 505.8)">Jun 2007</text>
<text class="ti" transform="matrix(0.9 0 0 1 200.85 349.8)">Eureka 2007-08</text>
<rect x="147.5" y="353.9" width="106.7" height="4.8" fill="#b9b9b9"/>
<path d="M148 354.6H160.9V357.9H148ZM161.9 354.6H173V357.9H161.9ZM174 354.6H185.1V357.9H174ZM186.1 354.6H189.5V357.9H186.1ZM190.5 354.6H195.7V357.9H190.5ZM196.7 354.6H200.5V357.9H196.7ZM201.5 354.6H219.2V357.9H201.5ZM220.2 354.6H236.8V357.9H220.2ZM237.8 354.6H242.3V357.9H237.8ZM243.3 354.6H245.6V357.9H243.3ZM246.6 354.6H253.7V357.9H246.6Z" fill="#fff"/>
<path d="M147.5 365H254.2M147.5 370.3H254.2M147.5 375.6H254.2M147.5 380.9H254.2M147.5 386.2H254.2M147.5 391.5H254.2M147.5 396.8H254.2M147.5 405.3H254.2M147.5 409.14H254.2M147.5 412.98H254.2M147.5 416.82H254.2M147.5 420.66H254.2M147.5 429.78H254.2M147.5 437.62H254.2M147.5 441.54H254.2M147.5 445.46H254.2M147.5 449.38H254.2M147.5 454.4H254.2M147.5 458.3H254.2M147.5 462.2H254.2M147.5 466.1H254.2M147.5 470H254.2M147.5 478.65H254.2M147.5 483.5H254.2M147.5 488.35H254.2M147.5 498.05H254.2" stroke="#d0d0d0" stroke-width="0.75" fill="none"/>
<path d="M149.4 358.7V402.6M168.64 358.7V402.6M187.88 358.7V402.6M207.12 358.7V402.6M226.36 358.7V402.6M245.6 358.7V402.6M149.4 402.6V424.7M168.64 402.6V424.7M187.88 402.6V424.7M207.12 402.6V424.7M226.36 402.6V424.7M245.6 402.6V424.7M149.4 427.1V451.5M168.64 427.1V451.5M187.88 427.1V451.5M207.12 427.1V451.5M226.36 427.1V451.5M245.6 427.1V451.5M149.4 451.5V476.7M168.64 451.5V476.7M187.88 451.5V476.7M207.12 451.5V476.7M226.36 451.5V476.7M245.6 451.5V476.7M149.4 476.7V500M168.64 476.7V500M187.88 476.7V500M207.12 476.7V500M226.36 476.7V500M245.6 476.7V500" stroke="#b4b4b4" stroke-width="0.65" fill="none"/>
<path d="M161.6 358.7V402.6M184.3 358.7V402.6M189.7 358.7V402.6M237.2 358.7V402.6M161.6 402.6V424.7M184.3 402.6V424.7M189.7 402.6V424.7M237.2 402.6V424.7M161.6 427.1V451.5M184.3 427.1V451.5M189.7 427.1V451.5M237.2 427.1V451.5M161.6 451.5V476.7M184.3 451.5V476.7M189.7 451.5V476.7M237.2 451.5V476.7M161.6 476.7V500M184.3 476.7V500M189.7 476.7V500M237.2 476.7V500" stroke="#5a5a5a" stroke-width="0.5" stroke-dasharray="0.75 0.85" fill="none"/>
<path d="M147.5 473.9H254.2M147.5 433.7H254.2" stroke="#a0a0a0" stroke-width="0.45" stroke-dasharray="1 0.8"/>
<path d="M192.2 374.1 193.2 372.5 194.1 374.2 195.1 374.1 196.1 373.3 197.1 373.9 198.1 371.6 199 371.5 200 372.5 200.9 370.1 201.8 370.4 202.7 371.6 203.6 371.6 204.5 371.5 205.5 369.9 206.4 370.4 207.3 370.8 208.2 371.2 209.1 369.8 210 370.1 210.9 370.9 211.8 369.5 212.7 369.8 213.6 370.3 214.5 369.8 215.5 369.3 216.4 368.9 217.3 369 218.2 370.1 219.1 370.5 220 369 220.9 368.2 221.8 369.1 222.7 370.5 223.6 369.3 224.5 369 225.5 369.2 226.4 369.4 227.3 369.1 228.2 369.5 229.1 369 230 369.1 231 369.6 231.9 369.5 232.9 368.6 233.9 368.7 234.8 367.9 235.8 368.3 236.7 368.9 237.7 367.7 238.7 367.9 239.6 368.6 240.6 368.5 240.6 374.3 239.6 373.8 238.7 375.1 237.7 373.1 236.7 375.3 235.8 374.1 234.8 374.2 233.9 373.9 232.9 374.9 231.9 375.3 231 375.6 230 375.9 229.1 374.4 228.2 375.7 227.3 374.2 226.4 375.4 225.5 375.6 224.5 376.3 223.6 375.4 222.7 376.5 221.8 375.5 220.9 376.3 220 375.3 219.1 376.5 218.2 377.8 217.3 378.4 216.4 377.3 215.5 377.1 214.5 376.5 213.6 378.4 212.7 377.3 211.8 379.1 210.9 378.8 210 377.9 209.1 377.3 208.2 378.9 207.3 379 206.4 378.6 205.5 378.8 204.5 379.7 203.6 379.5 202.7 380 201.8 379.6 200.9 380.2 200 379.2 199 379.7 198.1 379.3 197.1 379.4 196.1 380.2 195.1 381 194.1 380.5 193.2 380.6 192.2 380Z" fill="#b3e2f2"/>
<path d="M162.5 364.3V394" stroke="#9fd4ec" stroke-width="0.7" stroke-dasharray="1 0.6" fill="none"/>
<path d="M192.2 380.9 193.1 377.7 194 378.5 194.9 377.8 195.8 376.8 196.7 376.7 197.6 377.1 198.5 377.9 199.4 378 200.3 377.8 201.2 376.5 202.1 377.6 203 377.4 203.9 376.5 204.8 375.5 205.7 374 206.6 372.8 207.5 373.7 208.4 374 209.3 374.7 210.2 374.7 211.1 372.4 212 372 212.9 371.9 213.8 374.4 214.7 373.3 215.6 372.7 216.5 371 217.4 370.6 218.3 371.3 219.2 371.8 220.1 372.2 221 370 221.9 371.8 222.8 371 223.7 370.8 224.6 370.6 225.5 370.4 226.4 371.6 227.3 372.5 228.2 372.2 229.1 371.4 230 372.5 230.9 373 231.8 374 232.7 372.9 233.6 370.2 234.5 370.1 235.4 370 236.3 370.9 237.2 370 238.1 370.7 239 370.3 239.9 368.8" stroke="#2238ff" stroke-width="0.85" fill="none" stroke-linejoin="round"/>
<path d="M173.5 384.1V389.6M173.1 384.1h0.9M173.1 389.6h0.9M178.6 380.8V386.3M178.2 380.8h0.9M178.2 386.3h0.9M183 369.8V377.5M182.6 369.8h0.9M182.6 377.5h0.9M187.8 374.2V383M187.4 374.2h0.9M187.4 383h0.9M192.2 367.6V374.2M191.8 367.6h0.9M191.8 374.2h0.9M197.7 375.3V381.9M197.2 375.3h0.9M197.2 381.9h0.9M202.1 376.4V383M201.7 376.4h0.9M201.7 383h0.9M207.2 374.2V380.8M206.8 374.2h0.9M206.8 380.8h0.9M212 374.2V380.8M211.6 374.2h0.9M211.6 380.8h0.9M216.4 372V379.7M216 372h0.9M216 379.7h0.9M220.8 372V378.6M220.4 372h0.9M220.4 378.6h0.9M225.6 370.9V377.5M225.2 370.9h0.9M225.2 377.5h0.9M230.7 373.1V379.7M230.2 373.1h0.9M230.2 379.7h0.9M235.1 374.2V379.7M234.7 374.2h0.9M234.7 379.7h0.9M239.5 375.3V380.8M239.1 375.3h0.9M239.1 380.8h0.9" stroke="#1e1e1e" stroke-width="0.55" fill="none"/>
<path d="M173.5 386.9h0.01M178.6 383.6h0.01M183 373.6h0.01M187.8 378.6h0.01M192.2 370.9h0.01M197.7 378.6h0.01M202.1 379.7h0.01M207.2 377.5h0.01M212 377.5h0.01M216.4 375.9h0.01M220.8 375.3h0.01M225.6 374.2h0.01M230.7 376.4h0.01M235.1 376.9h0.01" stroke="#111" stroke-width="1.1" stroke-linecap="round"/>
<path d="M239.5 378.1h0.01" stroke="#e8312a" stroke-width="1.4" stroke-linecap="round"/>
<text class="st" transform="matrix(.88 0 0 1 237.9 386.4)">Overlap:</text><text class="st" transform="matrix(.88 0 0 1 252.4 386.4)">59.4</text>
<text class="st" transform="matrix(.88 0 0 1 237.9 390.05)">MAPE:</text><text class="st" transform="matrix(.88 0 0 1 252.4 390.05)">8.4</text>
<text class="st" transform="matrix(.88 0 0 1 237.9 393.7)">RMSE:</text><text class="st" transform="matrix(.88 0 0 1 252.4 393.7)">35.1</text>
<text class="st" transform="matrix(.88 0 0 1 237.9 397.35)">Bias:</text><text class="st" transform="matrix(.88 0 0 1 252.4 397.35)">18.1</text>
<text class="st" transform="matrix(.88 0 0 1 237.9 401)">Corr:</text><text class="st" transform="matrix(.88 0 0 1 252.4 401)">0.292</text>
<path d="M165 424.4 238 421.3 246 424.4Z" fill="#6f6f6f" fill-opacity="0.9"/>
<path d="M148 423.8 160.3 423.8 161.8 420.9 163.2 419.8 164.7 423.1 168 423.8 172.4 422.7 179 421.6 185.6 420.9 194.4 420.2 203.2 419.4 212 418.7 220.8 418.7 229.6 418.7 236.2 419.4 240.6 420.9 245 423.1 247.2 423.8 253.6 423.8" stroke="#f3ab3c" stroke-opacity="0.8" stroke-width="0.95" fill="none" stroke-linejoin="round"/>
<path d="M173.5 422h0.01M178.6 420.2h0.01M183 420.2h0.01M187.8 420.9h0.01M192.2 419.4h0.01M197.7 418.7h0.01M202.1 418.7h0.01M207.2 417.6h0.01M212 417.6h0.01M216.4 417.2h0.01M220.8 417.6h0.01M225.6 417.6h0.01M230.7 417.2h0.01M235.1 417.2h0.01M239.5 415.8h0.01" stroke="#111" stroke-width="1.7" stroke-linecap="square"/>
<path d="M148 429.6 149.3 429.7 157 430.8 163.6 433 170.2 436.3 176.8 439.6 185.6 442.9 194.4 445.8 203.2 448 212 448.8 220.8 448 229.6 445.1 238.4 441.8 245 437.4 251.6 434.1 253.6 433.5" stroke="#2ca02c" stroke-width="0.8" fill="none"/>
<path d="M148 429.4 148.9 430 149.8 430.2 150.7 431.9 151.6 431.9 152.5 431.4 153.4 431.2 154.3 430.1 155.2 432.2 156.1 432.3 157 433.1 157.9 432.3 158.8 432.1 159.7 433.4 160.6 434.8 161.5 434.1 162.4 433.6 163.3 434.4 164.2 436.1 165.1 438.1 166 437.7 166.9 436.9 167.8 439.4 168.7 438.5 169.6 438.5 170.5 438.1 171.4 437.8 172.3 439.1 173.2 443.3 174.1 443.4 175 441.7 175.9 441.7 176.8 440.6 177.7 442.5 178.6 438.5 179.5 441.1 180.4 443.3 181.3 444.6 182.2 444.1 183.1 440.9 184 441.8 184.9 446.7 185.8 443.5 186.7 446.7 187.6 448.1 188.5 444.7 189.4 442.1 190.3 441.4 191.2 444.7 192.1 445.9 193 447.4 193.9 448.7 194.8 446.9 195.7 448.9 196.6 449.2 197.5 449.6 198.4 448.3 199.3 449.2 200.2 448.7 201.1 449.7 202 450.5 202.9 450.7 203.8 447.2 204.7 443.1 205.6 445.6 206.5 440.5 207.4 438.6 208.3 439.8 209.2 443.3 210.1 445 211 450.3 211.9 446.8 212.8 447.3 213.7 448.3 214.6 448.7 215.5 445.4 216.4 445.7 217.3 447.7 218.2 448.3 219.1 448.2 220 447.4 220.9 448.1 221.8 449.4 222.7 447.5 223.6 447.3 224.5 448 225.4 447.9 226.3 449.3 227.2 444.2 228.1 445.7 229 444.2 229.9 446.7 230.8 447.3 231.7 445.4 232.6 443.2 233.5 443.4 234.4 440.7 235.3 439.7 236.2 443.2 237.1 441.4 238 439.5 238.9 437.1 239.8 436.9 240.7 435.6 241.6 434.6 242.5 434.2 243.4 434.4 244.3 434.4 245.2 431.2 246.1 431.8 247 430.7 247.9 430.1 248.8 429.3 249.7 430.8 250.6 430 251.5 430.1 252.4 429.8 253.3 428.6" stroke="#111" stroke-width="0.7" fill="none" stroke-linejoin="round"/>
<path d="M161.8 453.5 162.3 455.9 162.8 457.7 163.3 459 163.8 460.1 164.3 460.9 164.8 461.6 165.3 462.2 165.8 462.7 166.3 463 166.8 463.4 167.3 463.7 167.8 463.9 168.3 464.2 168.8 464.4 169.3 464.6 169.8 464.7 170.3 464.9 170.8 465 171.3 465.2 171.8 465.3 172.3 465.4 172.8 465.5 173.3 465.6 173.8 465.7 174.3 465.8 174.8 465.9 175.3 465.9 175.8 466 176.3 466.1 176.8 466.1 177.3 466.2 177.8 466.2 178.3 466.3 178.8 466.3 179.3 466.3 179.8 466.4 180.3 466.4 180.8 466.5 181.3 466.5 181.8 466.5 182.3 466.5 182.8 466.6 183.3 466.6 183.8 466.6 184.3 466.6 184.8 466.6 185.3 466.7 185.8 466.7 186.3 466.7 186.8 466.7 187.3 466.7 187.8 466.7 188.3 466.7 188.8 466.8 189.3 466.8 189.8 466.8 190.3 466.8 190.8 466.8 191.3 466.8 191.8 466.8 192.3 466.8 192.8 466.8 193.3 466.8 193.8 466.8 194.3 466.8 194.8 466.8 195.3 466.8 195.8 466.8 196.3 466.9 196.8 466.9 197.3 466.9 197.8 466.9 198.3 466.9 198.8 466.9 199.3 466.9 199.8 466.9 200.3 466.9 200.8 466.9 201.3 466.9 201.8 466.9 205.8 466.9 209.8 466.9 213.8 466.9 217.8 466.9 221.8 466.9 225.8 466.9 229.8 466.9 233.8 466.9 237.8 466.9 241.8 466.9 245.8 466.9 246.8 466.9" stroke="#444" stroke-width="0.55" stroke-dasharray="1 0.7" fill="none"/>
<path d="M161.8 453.5 162.3 457.5 162.8 460.3 163.3 462.3 163.8 463.8 164.3 464.8 164.8 465.6 165.3 466.3 165.8 466.8 166.3 467.2 166.8 467.5 167.3 467.8 167.8 468 168.3 468.2 168.8 468.4 169.3 468.6 169.8 468.7 170.3 468.9 170.8 469 171.3 469.1 171.8 469.2 172.3 469.3 172.8 469.4 173.3 469.4 173.8 469.5 174.3 469.6 174.8 469.6 175.3 469.7 175.8 469.7 176.3 469.7 176.8 469.8 177.3 469.8 177.8 469.8 178.3 469.9 178.8 469.9 179.3 469.9 179.8 469.9 180.3 469.9 180.8 470 181.3 470 181.8 470 182.3 470 182.8 470 183.3 470 183.8 470 184.3 470 184.8 470 185.3 470 185.8 470 186.3 470.1 186.8 470.1 187.3 470.1 187.8 470.1 188.3 470.1 188.8 470.1 189.3 470.1 189.8 470.1 190.3 470.1 190.8 470.1 191.3 470.1 191.8 470.1 192.3 470.1 192.8 470.1 193.3 470.1 193.8 470.1 194.3 470.1 194.8 470.1 195.3 470.1 195.8 470.1 196.3 470.1 196.8 470.1 197.3 470.1 197.8 470.1 198.3 470.1 198.8 470.1 199.3 470.1 199.8 470.1 200.3 470.1 200.8 470.1 201.3 470.1 201.8 470.1 205.8 470.1 209.8 470.1 213.8 470.1 217.8 470.1 221.8 470.1 225.8 470.1 229.8 470.1 233.8 470.1 237.8 470.1 241.8 470.1 245.8 470.1 246.8 470.1" stroke="#333" stroke-width="0.6" fill="none"/>
<path d="M147.5 493.2H254.2" stroke="#555" stroke-width="0.4" stroke-dasharray="1 0.8"/>
<path d="M148 494 148.8 494.4 149.6 494.4 150.4 494.2 151.2 494.6 152 494.4 152.8 494.2 153.6 495 154.4 494.5 155.2 494 156 493.8 156.8 494 157.6 494.5 158.4 494.8 159.2 495 160 495.3 160.8 495.4 161.6 495 162.4 494.8 163.2 494.3 164 493.5 164.8 493.4 165.6 492.6 166.4 491.7 167.2 491.7 168 490.9 168.8 490.2 169.6 489.9 170.4 490.6 171.2 489.9 172 489.8 172.8 489.6 173.6 489.4 174.4 489.2 175.2 488.7 176 488.4 176.8 488.4 177.6 488.2 178.4 488.5 179.2 489 180 488.2 180.8 488.3 181.6 487.7 182.4 487.5 183.2 487.6 184 487.7 184.8 487.5 185.6 486.5 186.4 487.5 187.2 487.4 188 487.1 188.8 487.5 189.6 487.1 190.4 486.6 191.2 487.1 192 487.3 192.8 487 193.6 487.4 194.4 487.5 195.2 486.9 196 487.8 196.8 487.6 197.6 487 198.4 487.3 199.2 487.3 200 487.7 200.8 486.9 201.6 487.5 202.4 487.8 203.2 487.8 204 487.8 204.8 488.1 205.6 488.1 206.4 487.8 207.2 487.3 208 487.9 208.8 488.1 209.6 488 210.4 487.8 211.2 488 212 486.9 212.8 487.3 213.6 486.5 214.4 487.1 215.2 487.7 216 488.3 216.8 487.7 217.6 487.7 218.4 487.5 219.2 486.6 220 487.2 220.8 487.3 221.6 487.3 222.4 486.9 223.2 487 224 487.2 224.8 487.8 225.6 487.7 226.4 488.9 227.2 488 228 487.6 228.8 487.5 229.6 487.2 230.4 488 231.2 488 232 487.3 232.8 487.5 233.6 488 234.4 487.3 235.2 487.6 236 487.6 236.8 488.7 237.6 488.5 238.4 488.1 239.2 487.9 240 488.8 240.8 488.3 241.6 489.2 242.4 488.2 243.2 488.2 244 488.3 244.8 488.2 245.6 488.4 246.4 488.8 247.2 489.7 248 491.6 248.8 494.1 249.6 495.7 250.4 495.3 251.2 495.2 252 494 252.8 494.7 253.6 494.1" stroke="#b03cc0" stroke-width="0.75" fill="none" stroke-linejoin="round"/>
<path d="M147.5 358.7V353.9H254.2V358.7M147.5 358.7V402.6M254.2 358.7V402.6M147.5 402.6V424.7M254.2 402.6V424.7M147.5 427.1V451.5M254.2 427.1V451.5M147.5 451.5V476.7M254.2 451.5V476.7M147.5 476.7V500M254.2 476.7V500M147.5 353.9H254.2" stroke="#808080" stroke-width="0.8" fill="none"/>
<path d="M147.5 358.7H254.2M147.5 402.6H254.2M147.5 424.7H254.2M147.5 427.1H254.2M147.5 451.5H254.2M147.5 476.7H254.2M147.5 500H254.2" stroke="#7a7a7a" stroke-width="1.35" fill="none"/>
<path d="M149.4 358v1.4M168.64 358v1.4M187.88 358v1.4M207.12 358v1.4M226.36 358v1.4M245.6 358v1.4M149.4 401.9v1.4M168.64 401.9v1.4M187.88 401.9v1.4M207.12 401.9v1.4M226.36 401.9v1.4M245.6 401.9v1.4M146.2 365h1.3M146.2 370.3h1.3M146.2 375.6h1.3M146.2 380.9h1.3M146.2 386.2h1.3M146.2 391.5h1.3M146.2 396.8h1.3M149.4 424v1.4M168.64 424v1.4M187.88 424v1.4M207.12 424v1.4M226.36 424v1.4M245.6 424v1.4M146.2 405.3h1.3M146.2 409.14h1.3M146.2 412.98h1.3M146.2 416.82h1.3M146.2 420.66h1.3M146.2 424.5h1.3M149.4 426.4v1.4M168.64 426.4v1.4M187.88 426.4v1.4M207.12 426.4v1.4M226.36 426.4v1.4M245.6 426.4v1.4M149.4 450.8v1.4M168.64 450.8v1.4M187.88 450.8v1.4M207.12 450.8v1.4M226.36 450.8v1.4M245.6 450.8v1.4M146.2 429.78h1.3M146.2 433.7h1.3M146.2 437.62h1.3M146.2 441.54h1.3M146.2 445.46h1.3M146.2 449.38h1.3M149.4 476v1.4M168.64 476v1.4M187.88 476v1.4M207.12 476v1.4M226.36 476v1.4M245.6 476v1.4M146.2 454.4h1.3M146.2 458.3h1.3M146.2 462.2h1.3M146.2 466.1h1.3M146.2 470h1.3M146.2 473.9h1.3M149.4 499.3v1.4M168.64 499.3v1.4M187.88 499.3v1.4M207.12 499.3v1.4M226.36 499.3v1.4M245.6 499.3v1.4M146.2 478.65h1.3M146.2 483.5h1.3M146.2 488.35h1.3M146.2 493.2h1.3M146.2 498.05h1.3M149.4 500v1.3M168.64 500v1.3M187.88 500v1.3M207.12 500v1.3M226.36 500v1.3M245.6 500v1.3" stroke="#1e1e1e" stroke-width="0.75" fill="none"/>
<text class="sd" transform="matrix(.88 0 0 1 167.45 357.5)">0</text>
<text class="sd" transform="matrix(.88 0 0 1 179.55 357.5)">1</text>
<text class="sd" transform="matrix(.88 0 0 1 210.35 357.5)">2</text>
<text class="sd" transform="matrix(.88 0 0 1 228.5 357.5)">3</text>
<text class="rs" transform="matrix(.88 0 0 1 148.7 357.4)">Refs</text>
<text class="tk" transform="matrix(.88 0 0 1 143.5 366.7)">450</text>
<text class="tk" transform="matrix(.88 0 0 1 143.5 372)">400</text>
<text class="tk" transform="matrix(.88 0 0 1 143.5 377.3)">350</text>
<text class="tk" transform="matrix(.88 0 0 1 143.5 382.6)">300</text>
<text class="tk" transform="matrix(.88 0 0 1 143.5 387.9)">250</text>
<text class="tk" transform="matrix(.88 0 0 1 143.5 393.2)">200</text>
<text class="tk" transform="matrix(.88 0 0 1 143.5 398.5)">150</text>
<text class="tk" transform="matrix(.88 0 0 1 143.5 407)">50</text>
<text class="tk" transform="matrix(.88 0 0 1 143.5 410.84)">40</text>
<text class="tk" transform="matrix(.88 0 0 1 143.5 414.68)">30</text>
<text class="tk" transform="matrix(.88 0 0 1 143.5 418.52)">20</text>
<text class="tk" transform="matrix(.88 0 0 1 143.5 422.36)">10</text>
<text class="tk" transform="matrix(.88 0 0 1 143.5 426.2)">0</text>
<text class="tk" transform="matrix(.88 0 0 1 143.5 431.48)">10</text>
<text class="tk" transform="matrix(.88 0 0 1 143.5 435.4)">0</text>
<text class="tk" transform="matrix(.88 0 0 1 143.5 439.32)">−10</text>
<text class="tk" transform="matrix(.88 0 0 1 143.5 443.24)">−20</text>
<text class="tk" transform="matrix(.88 0 0 1 143.5 447.16)">−30</text>
<text class="tk" transform="matrix(.88 0 0 1 143.5 451.08)">−40</text>
<text class="tk" transform="matrix(.88 0 0 1 143.5 456.1)">50</text>
<text class="tk" transform="matrix(.88 0 0 1 143.5 460)">40</text>
<text class="tk" transform="matrix(.88 0 0 1 143.5 463.9)">30</text>
<text class="tk" transform="matrix(.88 0 0 1 143.5 467.8)">20</text>
<text class="tk" transform="matrix(.88 0 0 1 143.5 471.7)">10</text>
<text class="tk" transform="matrix(.88 0 0 1 143.5 475.6)">0</text>
<text class="tk" transform="matrix(.88 0 0 1 143.5 480.35)">30</text>
<text class="tk" transform="matrix(.88 0 0 1 143.5 485.2)">20</text>
<text class="tk" transform="matrix(.88 0 0 1 143.5 490.05)">10</text>
<text class="tk" transform="matrix(.88 0 0 1 143.5 494.9)">0</text>
<text class="tk" transform="matrix(.88 0 0 1 143.5 499.75)">−10</text>
<text class="tk xl" transform="matrix(0.9 0 0 1 149.4 505.8)">Aug 2007</text>
<text class="tk xl" transform="matrix(0.9 0 0 1 168.64 505.8)">Oct 2007</text>
<text class="tk xl" transform="matrix(0.9 0 0 1 187.88 505.8)">Dec 2007</text>
<text class="tk xl" transform="matrix(0.9 0 0 1 207.12 505.8)">Feb 2008</text>
<text class="tk xl" transform="matrix(0.9 0 0 1 226.36 505.8)">Apr 2008</text>
<text class="tk xl" transform="matrix(0.9 0 0 1 245.6 505.8)">Jun 2008</text>
<text class="ti" transform="matrix(0.9 0 0 1 321.1 349.8)">Eureka 2009-10</text>
<rect x="267.6" y="353.9" width="107" height="4.8" fill="#b9b9b9"/>
<path d="M268.1 354.6H276.1V357.9H268.1ZM277.1 354.6H283.1V357.9H277.1ZM284.1 354.6H291.5V357.9H284.1ZM292.5 354.6H298.5V357.9H292.5ZM299.5 354.6H306.2V357.9H299.5ZM307.2 354.6H312.8V357.9H307.2ZM313.8 354.6H318.3V357.9H313.8ZM319.3 354.6H324.9V357.9H319.3ZM325.9 354.6H339.9V357.9H325.9ZM340.9 354.6H353.5V357.9H340.9ZM354.5 354.6H361.2V357.9H354.5ZM362.2 354.6H366.7V357.9H362.2ZM367.7 354.6H374.1V357.9H367.7Z" fill="#fff"/>
<path d="M267.6 365H374.6M267.6 370.3H374.6M267.6 375.6H374.6M267.6 380.9H374.6M267.6 386.2H374.6M267.6 391.5H374.6M267.6 396.8H374.6M267.6 405.3H374.6M267.6 409.14H374.6M267.6 412.98H374.6M267.6 416.82H374.6M267.6 420.66H374.6M267.6 429.78H374.6M267.6 437.62H374.6M267.6 441.54H374.6M267.6 445.46H374.6M267.6 449.38H374.6M267.6 454.4H374.6M267.6 458.3H374.6M267.6 462.2H374.6M267.6 466.1H374.6M267.6 470H374.6M267.6 478.65H374.6M267.6 483.5H374.6M267.6 488.35H374.6M267.6 498.05H374.6" stroke="#d0d0d0" stroke-width="0.75" fill="none"/>
<path d="M269.9 358.7V402.6M289.04 358.7V402.6M308.18 358.7V402.6M327.32 358.7V402.6M346.46 358.7V402.6M365.6 358.7V402.6M269.9 402.6V424.7M289.04 402.6V424.7M308.18 402.6V424.7M327.32 402.6V424.7M346.46 402.6V424.7M365.6 402.6V424.7M269.9 427.1V451.5M289.04 427.1V451.5M308.18 427.1V451.5M327.32 427.1V451.5M346.46 427.1V451.5M365.6 427.1V451.5M269.9 451.5V476.7M289.04 451.5V476.7M308.18 451.5V476.7M327.32 451.5V476.7M346.46 451.5V476.7M365.6 451.5V476.7M269.9 476.7V500M289.04 476.7V500M308.18 476.7V500M327.32 476.7V500M346.46 476.7V500M365.6 476.7V500" stroke="#b4b4b4" stroke-width="0.65" fill="none"/>
<path d="M283.7 358.7V402.6M299.4 358.7V402.6M313.7 358.7V402.6M325.3 358.7V402.6M354.5 358.7V402.6M368.5 358.7V402.6M283.7 402.6V424.7M299.4 402.6V424.7M313.7 402.6V424.7M325.3 402.6V424.7M354.5 402.6V424.7M368.5 402.6V424.7M283.7 427.1V451.5M299.4 427.1V451.5M313.7 427.1V451.5M325.3 427.1V451.5M354.5 427.1V451.5M368.5 427.1V451.5M283.7 451.5V476.7M299.4 451.5V476.7M313.7 451.5V476.7M325.3 451.5V476.7M354.5 451.5V476.7M368.5 451.5V476.7M283.7 476.7V500M299.4 476.7V500M313.7 476.7V500M325.3 476.7V500M354.5 476.7V500M368.5 476.7V500" stroke="#5a5a5a" stroke-width="0.5" stroke-dasharray="0.75 0.85" fill="none"/>
<path d="M267.6 473.9H374.6M267.6 433.7H374.6" stroke="#a0a0a0" stroke-width="0.45" stroke-dasharray="1 0.8"/>
<path d="M296.4 376 298 375.2 299.1 374.6 300.1 374 301.2 374.5 301.2 387.3 300.1 386.7 299.1 387.5 298 387 296.4 388Z" fill="#b3e2f2"/>
<path d="M308.9 372.4 309.9 370.8 310.9 372.1 311.9 372 313 369.8 314 369.4 315 370.7 315.9 369.2 316.8 369.6 317.7 369.8 318.6 369.1 319.5 369.8 320.5 370.1 321.4 370.2 322.3 370.2 323.2 371.1 324.1 369.1 325 369.6 325.9 368.6 326.8 369 327.7 368.6 328.6 370.4 329.5 368 330.5 371.1 331.4 369.3 332.3 370 333.2 368.6 334.1 369 335 368.9 335.9 370.7 336.8 369.4 337.7 370.6 338.6 368.5 339.5 369.3 340.5 369 341.4 368.6 342.3 369.3 343.2 368.9 344.1 371.1 345 368.6 346 368.5 347 368.1 348 367.9 349 369.5 350 369.1 351 367.2 352 368 353 367.2 353.9 368.9 354.8 368.1 355.8 367.8 356.7 368.5 357.6 368.3 358.5 368.5 359.5 367 360.4 367.6 361.3 367.6 362.2 367.2 363.2 367.8 364.1 370.4 365 368.7 365 375.9 364.1 376.1 363.2 376 362.3 376.5 361.4 376.5 360.5 377.3 359.5 375.4 358.6 375.6 357.7 376.7 356.8 375 355.9 376.1 355 375 354.1 376.2 353.2 375.6 352.3 375.6 351.4 375.1 350.5 375.7 349.5 375.6 348.6 376.8 347.7 376.4 346.8 376.4 345.9 375.4 345 376.1 344.1 376.1 343.2 375.6 342.3 376.5 341.4 376.2 340.5 377.2 339.5 376.9 338.6 376.5 337.7 376.8 336.8 376 335.9 377.8 335 378.5 334.1 377.3 333.2 376.1 332.3 376.8 331.4 376.3 330.5 378.5 329.5 377.8 328.6 377.1 327.7 378.3 326.8 377.1 325.9 376.7 325 377.3 324.1 376.2 323.2 378.2 322.3 376.3 321.4 379.2 320.5 376.6 319.5 378.5 318.6 376.8 317.7 377.2 316.8 378.8 315.9 378.8 315 377.2 314 377.3 313 378.4 311.9 378.9 310.9 376.2 309.9 378.3 308.9 378Z" fill="#b3e2f2"/>
<path d="M289.8 391.8 290.6 387.8 292 395.1 293.5 395.8 295.7 395.8 296.8 388.5 297.9 385.2 299 379.7 300.1 380.8 300.8 384.1" stroke="#2238ff" stroke-width="0.85" fill="none" stroke-linejoin="round"/>
<path d="M308.9 377.6 309.8 375.3 310.7 376.1 311.6 374.7 312.5 376.1 313.4 375.9 314.3 375 315.2 375.7 316.1 374.9 317 374.1 317.9 376.4 318.8 375.9 319.7 378 320.6 376.9 321.5 375.4 322.4 375.5 323.3 376.9 324.2 374 325.1 374.4 326 373.2 326.9 374.9 327.8 375.2 328.7 376.2 329.6 374.4 330.5 374.3 331.4 375.9 332.3 374 333.2 375.4 334.1 373.7 335 372.7 335.9 374.7 336.8 374.7 337.7 373.1 338.6 374.7 339.5 375.4 340.4 373.3 341.3 372.9 342.2 373 343.1 372.7 344 372.5 344.9 374.2 345.8 373.4 346.7 372.8 347.6 372 348.5 372.4 349.4 371.4 350.3 370.8 351.2 370.6 352.1 370 353 370.4 353.9 369.9 354.8 370.6 355.7 370.6 356.6 372.9 357.5 372.2 358.4 372.3 359.3 369.9 360.2 370.6 361.1 371.7 362 372.6 362.9 370.8 363.8 371.4 364.7 371.7" stroke="#2238ff" stroke-width="0.85" fill="none" stroke-linejoin="round"/>
<path d="M289.8 388.5V395.1M289.4 388.5h0.9M289.4 395.1h0.9M293.5 398.4V400.6M293.1 398.4h0.9M293.1 400.6h0.9M299 366.5V375.3M298.6 366.5h0.9M298.6 375.3h0.9M300.8 376.4V383M300.4 376.4h0.9M300.4 383h0.9M303.4 379.7V386.3M302.9 379.7h0.9M302.9 386.3h0.9M308.2 368.7V375.3M307.8 368.7h0.9M307.8 375.3h0.9M312.6 375.3V383M312.2 375.3h0.9M312.2 383h0.9M318.4 362.1V370.9M317.9 362.1h0.9M317.9 370.9h0.9M322.8 372V379.7M322.4 372h0.9M322.4 379.7h0.9M327.6 375.3V384.1M327.2 375.3h0.9M327.2 384.1h0.9M332 375.3V383M331.6 375.3h0.9M331.6 383h0.9M336.4 375.3V383M335.9 375.3h0.9M335.9 383h0.9M340.8 375.3V383M340.4 375.3h0.9M340.4 383h0.9M345.6 374.2V384.1M345.2 374.2h0.9M345.2 384.1h0.9M350.7 372V379.7M350.2 372h0.9M350.2 379.7h0.9M355.1 370.9V378.6M354.7 370.9h0.9M354.7 378.6h0.9M359.5 372V379.7M359.1 372h0.9M359.1 379.7h0.9M364.6 373.1V380.8M364.2 373.1h0.9M364.2 380.8h0.9" stroke="#1e1e1e" stroke-width="0.55" fill="none"/>
<path d="M289.8 391.8h0.01M300.8 379.7h0.01M303.4 383h0.01M308.2 372h0.01M312.6 379.1h0.01M318.4 366.5h0.01M322.8 375.9h0.01M327.6 379.7h0.01M332 379.1h0.01M336.4 379.1h0.01M340.8 379.1h0.01M345.6 379.1h0.01M350.7 375.9h0.01M355.1 374.8h0.01M359.5 375.9h0.01M364.6 377h0.01" stroke="#111" stroke-width="1.1" stroke-linecap="round"/>
<path d="M293.5 399.5h0.01M299 370.9h0.01" stroke="#e8312a" stroke-width="1.4" stroke-linecap="round"/>
<text class="st" transform="matrix(.88 0 0 1 358.3 386.4)">Overlap:</text><text class="st" transform="matrix(.88 0 0 1 372.8 386.4)">70.1</text>
<text class="st" transform="matrix(.88 0 0 1 358.3 390.05)">MAPE:</text><text class="st" transform="matrix(.88 0 0 1 372.8 390.05)">14.6</text>
<text class="st" transform="matrix(.88 0 0 1 358.3 393.7)">RMSE:</text><text class="st" transform="matrix(.88 0 0 1 372.8 393.7)">54.9</text>
<text class="st" transform="matrix(.88 0 0 1 358.3 397.35)">Bias:</text><text class="st" transform="matrix(.88 0 0 1 372.8 397.35)">33.7</text>
<text class="st" transform="matrix(.88 0 0 1 358.3 401)">Corr:</text><text class="st" transform="matrix(.88 0 0 1 372.8 401)">−0.243</text>
<path d="M285 424.4 330 422.5 364 420.9 368 424.4Z" fill="#6f6f6f" fill-opacity="0.9"/>
<path d="M268 424.2 283.6 424.2 285.8 422 288 420.9 292.4 419.8 299 420.2 305.6 420.9 310 420.2 316.6 419.4 323.2 419.4 329.8 418.7 336.4 417.6 343 416.5 349.6 415.4 354 414.3 358.4 413.6 362.8 415 366.1 417.6 368.3 423.8 374 424.2" stroke="#f3ab3c" stroke-opacity="0.8" stroke-width="0.95" fill="none" stroke-linejoin="round"/>
<path d="M289.8 420.9h0.01M293.5 420.2h0.01M298.6 420.2h0.01M303 420.9h0.01M308.2 420.9h0.01M312.6 419.8h0.01M317.7 419.8h0.01M322.8 419.8h0.01M327.6 419.4h0.01M332 418.7h0.01M336.4 417.2h0.01M340.8 416.5h0.01M346.3 415.8h0.01M350.7 416.5h0.01M355.1 416.5h0.01M359.5 415.8h0.01M364.6 417.2h0.01" stroke="#111" stroke-width="1.7" stroke-linecap="square"/>
<path d="M268 428.4 269.3 428.6 277 430.8 283.6 432.6 290.2 433.4 296.8 434.1 301.2 439.6 305.6 440.7 314.4 441.8 323.2 445.1 332 446.2 338.6 445.8 345.2 444 351.8 441.8 358.4 439.6 365 438.5 369.4 435.2 374 433" stroke="#2ca02c" stroke-width="0.8" fill="none"/>
<path d="M268 429.3 268.9 428.2 269.8 427.6 270.7 428.8 271.6 428.7 272.5 429.6 273.4 430 274.3 429.9 275.2 430 276.1 430.3 277 432 277.9 430.2 278.8 430.8 279.7 432.1 280.6 431.4 281.5 430.8 282.4 433.3 283.3 435.1 284.2 434 285.1 434.8 286 434.2 286.9 435.3 287.8 434.8 288.7 434.8 289.6 436.9 290.5 437.2 291.4 438.6 292.3 437.6 293.2 438 294.1 440.5 295 442 295.9 442.8 296.8 443.5 297.7 443.4 298.6 446.3 299.5 447.3 300.4 445.5 301.3 444.2 302.2 445.5 303.1 442.6 304 442.3 304.9 443.4 305.8 444.1 306.7 442.5 307.6 441.9 308.5 439.7 309.4 442.9 310.3 441.8 311.2 443.4 312.1 447.1 313 447.5 313.9 446.6 314.8 448.6 315.7 447.4 316.6 447.1 317.5 449.8 318.4 449.1 319.3 451.8 320.2 450.3 321.1 449.3 322 446.8 322.9 445.9 323.8 447.6 324.7 447.4 325.6 445.8 326.5 452.8 327.4 450.2 328.3 448.5 329.2 450.7 330.1 449.1 331 449.3 331.9 450.5 332.8 446.4 333.7 447.8 334.6 446.6 335.5 445.4 336.4 443.4 337.3 441.8 338.2 442.7 339.1 443.8 340 440.5 340.9 443.4 341.8 442 342.7 441.9 343.6 444.8 344.5 443 345.4 440.1 346.3 441 347.2 441.7 348.1 439.1 349 439.4 349.9 438.5 350.8 438.7 351.7 437.7 352.6 434.9 353.5 437.2 354.4 437.1 355.3 437.6 356.2 436.7 357.1 435.5 358 437 358.9 435.8 359.8 434.4 360.7 435.9 361.6 434.9 362.5 435.2 363.4 433.3 364.3 433 365.2 433.6 366.1 432.7 367 431.8 367.9 431.8 368.8 430.5 369.7 430.6 370.6 429.3 371.5 428.2 372.4 428.4 373.3 429" stroke="#111" stroke-width="0.7" fill="none" stroke-linejoin="round"/>
<path d="M283.6 453.5 284.1 455.9 284.6 457.7 285.1 459 285.6 460.1 286.1 460.9 286.6 461.6 287.1 462.2 287.6 462.7 288.1 463 288.6 463.4 289.1 463.7 289.6 463.9 290.1 464.2 290.6 464.4 291.1 464.6 291.6 464.7 292.1 464.9 292.6 465 293.1 465.2 293.6 465.3 294.1 465.4 294.6 465.5 295.1 465.6 295.6 465.7 296.1 465.8 296.6 465.9 297.1 465.9 297.6 466 298.1 466.1 298.6 466.1 299.1 466.2 299.6 466.2 300.1 466.3 300.6 466.3 301.1 466.3 301.6 466.4 302.1 466.4 302.6 466.5 303.1 466.5 303.6 466.5 304.1 466.5 304.6 466.6 305.1 466.6 305.6 466.6 306.1 466.6 306.6 466.6 307.1 466.7 307.6 466.7 308.1 466.7 308.6 466.7 309.1 466.7 309.6 466.7 310.1 466.7 310.6 466.8 311.1 466.8 311.6 466.8 312.1 466.8 312.6 466.8 313.1 466.8 313.6 466.8 314.1 466.8 314.6 466.8 315.1 466.8 315.6 466.8 316.1 466.8 316.6 466.8 317.1 466.8 317.6 466.8 318.1 466.9 318.6 466.9 319.1 466.9 319.6 466.9 320.1 466.9 320.6 466.9 321.1 466.9 321.6 466.9 322.1 466.9 322.6 466.9 323.1 466.9 323.6 466.9 327.6 466.9 331.6 466.9 335.6 466.9 339.6 466.9 343.6 466.9 347.6 466.9 351.6 466.9 355.6 466.9 359.6 466.9 363.6 466.9 367.6 466.9 369 466.9" stroke="#444" stroke-width="0.55" stroke-dasharray="1 0.7" fill="none"/>
<path d="M283.6 453.5 284.1 457.5 284.6 460.3 285.1 462.3 285.6 463.8 286.1 464.8 286.6 465.6 287.1 466.3 287.6 466.8 288.1 467.2 288.6 467.5 289.1 467.8 289.6 468 290.1 468.2 290.6 468.4 291.1 468.6 291.6 468.7 292.1 468.9 292.6 469 293.1 469.1 293.6 469.2 294.1 469.3 294.6 469.4 295.1 469.4 295.6 469.5 296.1 469.6 296.6 469.6 297.1 469.7 297.6 469.7 298.1 469.7 298.6 469.8 299.1 469.8 299.6 469.8 300.1 469.9 300.6 469.9 301.1 469.9 301.6 469.9 302.1 469.9 302.6 470 303.1 470 303.6 470 304.1 470 304.6 470 305.1 470 305.6 470 306.1 470 306.6 470 307.1 470 307.6 470 308.1 470.1 308.6 470.1 309.1 470.1 309.6 470.1 310.1 470.1 310.6 470.1 311.1 470.1 311.6 470.1 312.1 470.1 312.6 470.1 313.1 470.1 313.6 470.1 314.1 470.1 314.6 470.1 315.1 470.1 315.6 470.1 316.1 470.1 316.6 470.1 317.1 470.1 317.6 470.1 318.1 470.1 318.6 470.1 319.1 470.1 319.6 470.1 320.1 470.1 320.6 470.1 321.1 470.1 321.6 470.1 322.1 470.1 322.6 470.1 323.1 470.1 323.6 470.1 327.6 470.1 331.6 470.1 335.6 470.1 339.6 470.1 343.6 470.1 347.6 470.1 351.6 470.1 355.6 470.1 359.6 470.1 363.6 470.1 367.6 470.1 369 470.1" stroke="#333" stroke-width="0.6" fill="none"/>
<path d="M267.6 493.2H374.6" stroke="#555" stroke-width="0.4" stroke-dasharray="1 0.8"/>
<path d="M268 495.3 268.8 495.9 269.6 495.2 270.4 494.4 271.2 494.7 272 494.9 272.8 494.8 273.6 494.8 274.4 494.4 275.2 494.1 276 494 276.8 494.2 277.6 494.2 278.4 494.8 279.2 495 280 494.1 280.8 494.2 281.6 493.9 282.4 494 283.2 494.1 284 493.6 284.8 492.2 285.6 492.2 286.4 491.2 287.2 491.7 288 490.9 288.8 490.5 289.6 490.8 290.4 489.4 291.2 489.2 292 488.5 292.8 488.1 293.6 487.5 294.4 487.5 295.2 486.8 296 486.5 296.8 486.2 297.6 485.3 298.4 486 299.2 485.6 300 484.9 300.8 485.1 301.6 486 302.4 486.7 303.2 486.4 304 486.8 304.8 487.1 305.6 487.7 306.4 487.2 307.2 487.2 308 486.4 308.8 485.9 309.6 486.1 310.4 486.3 311.2 486.4 312 486.8 312.8 487 313.6 487.5 314.4 488 315.2 487.5 316 487.2 316.8 486.4 317.6 485.8 318.4 484.7 319.2 485.1 320 485.3 320.8 485.5 321.6 484.7 322.4 484.8 323.2 484.8 324 484.3 324.8 485.1 325.6 485.6 326.4 484.9 327.2 485.1 328 485.8 328.8 485 329.6 485.4 330.4 485.9 331.2 486.2 332 485.1 332.8 484.7 333.6 485 334.4 485.5 335.2 484.8 336 484.7 336.8 484.4 337.6 485 338.4 484.6 339.2 484.8 340 484.8 340.8 485 341.6 485 342.4 485 343.2 485.3 344 485.3 344.8 484.6 345.6 484.7 346.4 485.3 347.2 485.3 348 485.2 348.8 485.5 349.6 486.8 350.4 486.5 351.2 486.7 352 486.9 352.8 486.9 353.6 487.7 354.4 487.8 355.2 487.4 356 486.3 356.8 486.7 357.6 486.6 358.4 486.1 359.2 484.9 360 485.3 360.8 485 361.6 485.3 362.4 485.3 363.2 485.1 364 485.7 364.8 485.7 365.6 486.1 366.4 486.7 367.2 490.2 368 493.3 368.8 494.7 369.6 495.3 370.4 494.8 371.2 494.7 372 494.7 372.8 495 373.6 494.9" stroke="#b03cc0" stroke-width="0.75" fill="none" stroke-linejoin="round"/>
<path d="M267.6 358.7V353.9H374.6V358.7M267.6 358.7V402.6M374.6 358.7V402.6M267.6 402.6V424.7M374.6 402.6V424.7M267.6 427.1V451.5M374.6 427.1V451.5M267.6 451.5V476.7M374.6 451.5V476.7M267.6 476.7V500M374.6 476.7V500M267.6 353.9H374.6" stroke="#808080" stroke-width="0.8" fill="none"/>
<path d="M267.6 358.7H374.6M267.6 402.6H374.6M267.6 424.7H374.6M267.6 427.1H374.6M267.6 451.5H374.6M267.6 476.7H374.6M267.6 500H374.6" stroke="#7a7a7a" stroke-width="1.35" fill="none"/>
<path d="M269.9 358v1.4M289.04 358v1.4M308.18 358v1.4M327.32 358v1.4M346.46 358v1.4M365.6 358v1.4M269.9 401.9v1.4M289.04 401.9v1.4M308.18 401.9v1.4M327.32 401.9v1.4M346.46 401.9v1.4M365.6 401.9v1.4M266.3 365h1.3M266.3 370.3h1.3M266.3 375.6h1.3M266.3 380.9h1.3M266.3 386.2h1.3M266.3 391.5h1.3M266.3 396.8h1.3M269.9 424v1.4M289.04 424v1.4M308.18 424v1.4M327.32 424v1.4M346.46 424v1.4M365.6 424v1.4M266.3 405.3h1.3M266.3 409.14h1.3M266.3 412.98h1.3M266.3 416.82h1.3M266.3 420.66h1.3M266.3 424.5h1.3M269.9 426.4v1.4M289.04 426.4v1.4M308.18 426.4v1.4M327.32 426.4v1.4M346.46 426.4v1.4M365.6 426.4v1.4M269.9 450.8v1.4M289.04 450.8v1.4M308.18 450.8v1.4M327.32 450.8v1.4M346.46 450.8v1.4M365.6 450.8v1.4M266.3 429.78h1.3M266.3 433.7h1.3M266.3 437.62h1.3M266.3 441.54h1.3M266.3 445.46h1.3M266.3 449.38h1.3M269.9 476v1.4M289.04 476v1.4M308.18 476v1.4M327.32 476v1.4M346.46 476v1.4M365.6 476v1.4M266.3 454.4h1.3M266.3 458.3h1.3M266.3 462.2h1.3M266.3 466.1h1.3M266.3 470h1.3M266.3 473.9h1.3M269.9 499.3v1.4M289.04 499.3v1.4M308.18 499.3v1.4M327.32 499.3v1.4M346.46 499.3v1.4M365.6 499.3v1.4M266.3 478.65h1.3M266.3 483.5h1.3M266.3 488.35h1.3M266.3 493.2h1.3M266.3 498.05h1.3M269.9 500v1.3M289.04 500v1.3M308.18 500v1.3M327.32 500v1.3M346.46 500v1.3M365.6 500v1.3" stroke="#1e1e1e" stroke-width="0.75" fill="none"/>
<text class="sd" transform="matrix(.88 0 0 1 287.8 357.5)">0</text>
<text class="sd" transform="matrix(.88 0 0 1 302.85 357.5)">1</text>
<text class="sd" transform="matrix(.88 0 0 1 332.9 357.5)">2</text>
<text class="sd" transform="matrix(.88 0 0 1 347.2 357.5)">3</text>
<text class="rs" transform="matrix(.88 0 0 1 268.8 357.4)">Refs</text>
<text class="tk" transform="matrix(.88 0 0 1 263.6 366.7)">450</text>
<text class="tk" transform="matrix(.88 0 0 1 263.6 372)">400</text>
<text class="tk" transform="matrix(.88 0 0 1 263.6 377.3)">350</text>
<text class="tk" transform="matrix(.88 0 0 1 263.6 382.6)">300</text>
<text class="tk" transform="matrix(.88 0 0 1 263.6 387.9)">250</text>
<text class="tk" transform="matrix(.88 0 0 1 263.6 393.2)">200</text>
<text class="tk" transform="matrix(.88 0 0 1 263.6 398.5)">150</text>
<text class="tk" transform="matrix(.88 0 0 1 263.6 407)">50</text>
<text class="tk" transform="matrix(.88 0 0 1 263.6 410.84)">40</text>
<text class="tk" transform="matrix(.88 0 0 1 263.6 414.68)">30</text>
<text class="tk" transform="matrix(.88 0 0 1 263.6 418.52)">20</text>
<text class="tk" transform="matrix(.88 0 0 1 263.6 422.36)">10</text>
<text class="tk" transform="matrix(.88 0 0 1 263.6 426.2)">0</text>
<text class="tk" transform="matrix(.88 0 0 1 263.6 431.48)">10</text>
<text class="tk" transform="matrix(.88 0 0 1 263.6 435.4)">0</text>
<text class="tk" transform="matrix(.88 0 0 1 263.6 439.32)">−10</text>
<text class="tk" transform="matrix(.88 0 0 1 263.6 443.24)">−20</text>
<text class="tk" transform="matrix(.88 0 0 1 263.6 447.16)">−30</text>
<text class="tk" transform="matrix(.88 0 0 1 263.6 451.08)">−40</text>
<text class="tk" transform="matrix(.88 0 0 1 263.6 456.1)">50</text>
<text class="tk" transform="matrix(.88 0 0 1 263.6 460)">40</text>
<text class="tk" transform="matrix(.88 0 0 1 263.6 463.9)">30</text>
<text class="tk" transform="matrix(.88 0 0 1 263.6 467.8)">20</text>
<text class="tk" transform="matrix(.88 0 0 1 263.6 471.7)">10</text>
<text class="tk" transform="matrix(.88 0 0 1 263.6 475.6)">0</text>
<text class="tk" transform="matrix(.88 0 0 1 263.6 480.35)">30</text>
<text class="tk" transform="matrix(.88 0 0 1 263.6 485.2)">20</text>
<text class="tk" transform="matrix(.88 0 0 1 263.6 490.05)">10</text>
<text class="tk" transform="matrix(.88 0 0 1 263.6 494.9)">0</text>
<text class="tk" transform="matrix(.88 0 0 1 263.6 499.75)">−10</text>
<text class="tk xl" transform="matrix(0.9 0 0 1 269.9 505.8)">Aug 2009</text>
<text class="tk xl" transform="matrix(0.9 0 0 1 289.04 505.8)">Oct 2009</text>
<text class="tk xl" transform="matrix(0.9 0 0 1 308.18 505.8)">Dec 2009</text>
<text class="tk xl" transform="matrix(0.9 0 0 1 327.32 505.8)">Feb 2010</text>
<text class="tk xl" transform="matrix(0.9 0 0 1 346.46 505.8)">Apr 2010</text>
<text class="tk xl" transform="matrix(0.9 0 0 1 365.6 505.8)">Jun 2010</text>
<text class="ti" transform="matrix(0.9 0 0 1 441.65 349.8)">Eureka 2010-11</text>
<rect x="388.4" y="353.9" width="106.5" height="4.8" fill="#b9b9b9"/>
<path d="M388.9 354.6H396.4V357.9H388.9ZM397.4 354.6H403V357.9H397.4ZM404 354.6H409.6V357.9H404ZM410.6 354.6H415.1V357.9H410.6ZM416.1 354.6H418.4V357.9H416.1ZM419.4 354.6H420.6V357.9H419.4ZM421.6 354.6H422.8V357.9H421.6ZM423.8 354.6H432.7V357.9H423.8ZM433.7 354.6H439.3V357.9H433.7ZM440.3 354.6H445.9V357.9H440.3ZM446.9 354.6H463.5V357.9H446.9ZM464.5 354.6H476.7V357.9H464.5ZM477.7 354.6H485.5V357.9H477.7ZM486.5 354.6H494.4V357.9H486.5Z" fill="#fff"/>
<path d="M388.4 365H494.9M388.4 370.3H494.9M388.4 375.6H494.9M388.4 380.9H494.9M388.4 386.2H494.9M388.4 391.5H494.9M388.4 396.8H494.9M388.4 405.3H494.9M388.4 409.14H494.9M388.4 412.98H494.9M388.4 416.82H494.9M388.4 420.66H494.9M388.4 429.78H494.9M388.4 437.62H494.9M388.4 441.54H494.9M388.4 445.46H494.9M388.4 449.38H494.9M388.4 454.4H494.9M388.4 458.3H494.9M388.4 462.2H494.9M388.4 466.1H494.9M388.4 470H494.9M388.4 478.65H494.9M388.4 483.5H494.9M388.4 488.35H494.9M388.4 498.05H494.9" stroke="#d0d0d0" stroke-width="0.75" fill="none"/>
<path d="M390.3 358.7V402.6M409.4 358.7V402.6M428.5 358.7V402.6M447.6 358.7V402.6M466.7 358.7V402.6M485.8 358.7V402.6M390.3 402.6V424.7M409.4 402.6V424.7M428.5 402.6V424.7M447.6 402.6V424.7M466.7 402.6V424.7M485.8 402.6V424.7M390.3 427.1V451.5M409.4 427.1V451.5M428.5 427.1V451.5M447.6 427.1V451.5M466.7 427.1V451.5M485.8 427.1V451.5M390.3 451.5V476.7M409.4 451.5V476.7M428.5 451.5V476.7M447.6 451.5V476.7M466.7 451.5V476.7M485.8 451.5V476.7M390.3 476.7V500M409.4 476.7V500M428.5 476.7V500M447.6 476.7V500M466.7 476.7V500M485.8 476.7V500" stroke="#b4b4b4" stroke-width="0.65" fill="none"/>
<path d="M403.7 358.7V402.6M415.5 358.7V402.6M420.4 358.7V402.6M424.7 358.7V402.6M450.4 358.7V402.6M476.6 358.7V402.6M487.9 358.7V402.6M403.7 402.6V424.7M415.5 402.6V424.7M420.4 402.6V424.7M424.7 402.6V424.7M450.4 402.6V424.7M476.6 402.6V424.7M487.9 402.6V424.7M403.7 427.1V451.5M415.5 427.1V451.5M420.4 427.1V451.5M424.7 427.1V451.5M450.4 427.1V451.5M476.6 427.1V451.5M487.9 427.1V451.5M403.7 451.5V476.7M415.5 451.5V476.7M420.4 451.5V476.7M424.7 451.5V476.7M450.4 451.5V476.7M476.6 451.5V476.7M487.9 451.5V476.7M403.7 476.7V500M415.5 476.7V500M420.4 476.7V500M424.7 476.7V500M450.4 476.7V500M476.6 476.7V500M487.9 476.7V500" stroke="#5a5a5a" stroke-width="0.5" stroke-dasharray="0.75 0.85" fill="none"/>
<path d="M388.4 473.9H494.9M388.4 433.7H494.9" stroke="#a0a0a0" stroke-width="0.45" stroke-dasharray="1 0.8"/>
<path d="M421 386.1 422 385.1 423 383.6 424 384.2 425 382.6 426 379.5 427 381.1 428 378.4 429 380.1 430 377.8 431 377.4 432 377.9 433 377.6 434 377.3 435 377 436.2 374.4 437.5 371.1 438.5 370.8 439.4 370.7 440.4 369.2 441.3 370.6 442.3 370.2 443.3 370 444.2 370.3 445.2 369.9 446.2 369.9 447.1 368.8 448.1 369.3 449 370.3 450 369.1 450.9 369.9 451.8 368.6 452.7 369.5 453.6 369.6 454.5 368.7 455.5 369.6 456.4 369.6 457.3 368.5 458.2 370 459.1 369.5 460 369.7 460.9 369.6 461.8 370 462.7 370.4 463.6 370.2 464.5 369.3 465.5 368.8 466.4 370.4 467.3 370 468.2 369.6 469.1 370.3 470 369.5 470.9 368.8 471.8 369.5 472.8 369.2 473.7 368.8 474.6 369 475.5 371 476.4 368.9 477.4 368.4 478.3 369.9 479.2 370.1 480.1 368.9 481 370 482 369.1 482.9 369.6 483.8 369 483.8 377.3 482.9 378.5 482 378.4 481 377.4 480.1 376.4 479.2 379.5 478.3 377.7 477.4 377.9 476.4 379.6 475.5 377.4 474.6 377.7 473.7 378.3 472.8 378.1 471.8 379.3 470.9 378.1 470 378.5 469.1 378 468.2 378.3 467.3 378 466.4 378.9 465.5 378.4 464.5 378.2 463.6 378.2 462.7 380.7 461.8 379.2 460.9 379.6 460 379.4 459.1 379.6 458.2 380.1 457.3 378.5 456.4 378.3 455.5 380.1 454.5 377.6 453.6 378.6 452.7 379.7 451.8 380.1 450.9 379.4 450 379.3 449.1 379.1 448.2 380.7 447.2 380.8 446.3 379.7 445.4 379.9 444.5 381.1 443.5 379.7 442.6 381.3 441.7 380.6 440.8 379.6 439.8 380.4 438.9 381.3 438 380.7 437 381.8 436 382 435 380.8 434 382.6 433 382 432 380.2 431 382.9 430 382.2 429 384.3 428 384.9 427 384.3 426 385.7 425 384.7 424 387.1 423 387.7 422 388.8 421 390Z" fill="#b3e2f2"/>
<path d="M419.6 391.5 420.5 386.3 421.4 386 422.3 386.5 423.2 384.7 424.1 381 425 383.9 425.9 383 426.8 380.9 427.7 380 428.6 377.9 429.5 379.8 430.4 378.7 431.3 379.4 432.2 381.6 433.1 380.5 434 379.7 434.9 379.9 435.8 378.5 436.7 378.8 437.6 377.6 438.5 376.4 439.4 374.4 440.3 376.6 441.2 377.6 442.1 376 443 375.6 443.9 374.9 444.8 378.2 445.7 377.3 446.6 376 447.5 376 448.4 376.3 449.3 374.1 450.2 375.6 451.1 376 452 375.1 452.9 375.5 453.8 375.9 454.7 374.6 455.6 374 456.5 375.4 457.4 375 458.3 374.8 459.2 376.2 460.1 374.8 461 374.2 461.9 372.9 462.8 374.2 463.7 374.3 464.6 374.7 465.5 374.9 466.4 375 467.3 374.1 468.2 373.5 469.1 374 470 373.1 470.9 372.6 471.8 372.1 472.7 372.9 473.6 371.4 474.5 372.8 475.4 373.4 476.3 373.7 477.2 372.1 478.1 372.7 479 372.6 479.9 371.8 480.8 372.2 481.7 371.8 482.6 369.9" stroke="#2238ff" stroke-width="0.85" fill="none" stroke-linejoin="round"/>
<path d="M413.8 388.5V392.9M413.4 388.5h0.9M413.4 392.9h0.9M419.6 395.1V398.4M419.2 395.1h0.9M419.2 398.4h0.9M424 380.8V386.3M423.6 380.8h0.9M423.6 386.3h0.9M428.8 377.5V383M428.4 377.5h0.9M428.4 383h0.9M433.2 381.9V386.3M432.8 381.9h0.9M432.8 386.3h0.9M438 383V388.5M437.6 383h0.9M437.6 388.5h0.9M443.1 384.1V389.6M442.7 384.1h0.9M442.7 389.6h0.9M448.2 377.5V384.1M447.8 377.5h0.9M447.8 384.1h0.9M452.6 380.8V386.3M452.2 380.8h0.9M452.2 386.3h0.9M457 394V398.4M456.6 394h0.9M456.6 398.4h0.9M461.8 374.2V380.8M461.4 374.2h0.9M461.4 380.8h0.9M466.6 374.2V380.8M466.2 374.2h0.9M466.2 380.8h0.9M471 372V378.6M470.6 372h0.9M470.6 378.6h0.9M476.1 367.6V374.2M475.7 367.6h0.9M475.7 374.2h0.9M480.5 369.8V376.4M480.1 369.8h0.9M480.1 376.4h0.9M485.4 374.2V379.7M484.9 374.2h0.9M484.9 379.7h0.9" stroke="#1e1e1e" stroke-width="0.55" fill="none"/>
<path d="M413.8 390.7h0.01M419.6 396.8h0.01M424 383.6h0.01M428.8 380.2h0.01M433.2 384.1h0.01M438 385.8h0.01M443.1 386.9h0.01M448.2 380.8h0.01M452.6 383.6h0.01M461.8 377.5h0.01M466.6 377.5h0.01M471 375.3h0.01M476.1 370.9h0.01M480.5 373.1h0.01" stroke="#111" stroke-width="1.1" stroke-linecap="round"/>
<path d="M457 396.2h0.01M485.4 376.9h0.01" stroke="#e8312a" stroke-width="1.4" stroke-linecap="round"/>
<text class="st" transform="matrix(.88 0 0 1 478.6 386.4)">Overlap:</text><text class="st" transform="matrix(.88 0 0 1 493.1 386.4)">54.5</text>
<text class="st" transform="matrix(.88 0 0 1 478.6 390.05)">MAPE:</text><text class="st" transform="matrix(.88 0 0 1 493.1 390.05)">17.5</text>
<text class="st" transform="matrix(.88 0 0 1 478.6 393.7)">RMSE:</text><text class="st" transform="matrix(.88 0 0 1 493.1 393.7)">52.1</text>
<text class="st" transform="matrix(.88 0 0 1 478.6 397.35)">Bias:</text><text class="st" transform="matrix(.88 0 0 1 493.1 397.35)">22.9</text>
<text class="st" transform="matrix(.88 0 0 1 478.6 401)">Corr:</text><text class="st" transform="matrix(.88 0 0 1 493.1 401)">0.363</text>
<path d="M405 424.4 450 422.7 482 421.3 487 424.4Z" fill="#6f6f6f" fill-opacity="0.9"/>
<path d="M389 424.2 403.5 424.2 406.8 423.1 411.2 422 415.6 420.9 420 419.8 424.4 418.7 428.8 417.2 433.2 415 437.6 412.1 439.8 411.4 442 413.2 446.4 415 450.8 415.4 455.2 414.3 459.6 413.6 464 413.6 468.4 413.2 472.8 412.8 477.2 412.8 480.5 412.1 482.7 416.5 484.9 420.9 487.1 424.2 494.6 424.2" stroke="#f3ab3c" stroke-opacity="0.8" stroke-width="0.95" fill="none" stroke-linejoin="round"/>
<path d="M409.4 422.4h0.01M413.8 421.6h0.01M419.6 420.2h0.01M424 419.8h0.01M428.8 419.4h0.01M433.2 418h0.01M438.7 415.4h0.01M443.1 415.8h0.01M448.2 415.8h0.01M452.6 415h0.01M457 413.6h0.01M461.8 414.3h0.01M466.6 413.6h0.01M471 412.8h0.01M476.1 411.4h0.01M480.5 411.4h0.01M485.4 420.2h0.01" stroke="#111" stroke-width="1.7" stroke-linecap="square"/>
<path d="M389 433.2 390.3 433 395.8 431.9 402.4 433 409 435.2 415.6 437.4 422.2 439.6 431 441.8 439.8 442.9 448.6 444 457.4 445.1 464 445.1 470.6 444 477.2 441.8 483.8 439.6 488.2 435.2 494.6 431.9" stroke="#2ca02c" stroke-width="0.8" fill="none"/>
<path d="M389 433.3 389.9 433.5 390.8 432.5 391.7 434.9 392.6 431 393.5 431.9 394.4 432 395.3 434.1 396.2 432.7 397.1 432.2 398 434.7 398.9 431.3 399.8 434.9 400.7 434.3 401.6 435.6 402.5 435 403.4 435.3 404.3 435.3 405.2 435.4 406.1 436.1 407 437.3 407.9 437.4 408.8 439.1 409.7 441.1 410.6 441.4 411.5 442.4 412.4 441.7 413.3 442.7 414.2 441.5 415.1 440.6 416 441.5 416.9 440.8 417.8 441.5 418.7 444.8 419.6 442.5 420.5 440.4 421.4 442.3 422.3 441 423.2 442 424.1 445.9 425 448 425.9 446.3 426.8 444.8 427.7 442.8 428.6 439.8 429.5 442.4 430.4 441.6 431.3 442.6 432.2 443.3 433.1 440.2 434 441.5 434.9 440.7 435.8 437.9 436.7 441.7 437.6 444.2 438.5 446.3 439.4 447.8 440.3 444.7 441.2 444.3 442.1 442.9 443 444.5 443.9 447.3 444.8 445.6 445.7 444.4 446.6 438.9 447.5 439.4 448.4 443.4 449.3 442.9 450.2 444.8 451.1 447.5 452 442.8 452.9 444.6 453.8 446.3 454.7 446.3 455.6 447.9 456.5 449.4 457.4 449.8 458.3 446.5 459.2 448.2 460.1 446.9 461 446.8 461.9 447.6 462.8 446.1 463.7 445.3 464.6 447 465.5 445.5 466.4 443 467.3 442.9 468.2 444.3 469.1 444.5 470 442.3 470.9 440.9 471.8 438 472.7 440.8 473.6 440 474.5 437.9 475.4 437.8 476.3 436.6 477.2 438.9 478.1 436.3 479 436.1 479.9 437.6 480.8 435.1 481.7 436.4 482.6 435.3 483.5 431.4 484.4 432.1 485.3 432.1 486.2 432.1 487.1 431.9 488 430.7 488.9 429.6 489.8 429.5 490.7 430.8 491.6 429.8 492.5 429.9 493.4 428.4 494.3 429.3" stroke="#111" stroke-width="0.7" fill="none" stroke-linejoin="round"/>
<path d="M403.5 452.4 404 455 404.5 456.9 405 458.4 405.5 459.5 406 460.5 406.5 461.2 407 461.8 407.5 462.3 408 462.7 408.5 463.1 409 463.4 409.5 463.7 410 463.9 410.5 464.2 411 464.4 411.5 464.6 412 464.7 412.5 464.9 413 465 413.5 465.2 414 465.3 414.5 465.4 415 465.5 415.5 465.6 416 465.7 416.5 465.8 417 465.8 417.5 465.9 418 466 418.5 466 419 466.1 419.5 466.2 420 466.2 420.5 466.3 421 466.3 421.5 466.3 422 466.4 422.5 466.4 423 466.5 423.5 466.5 424 466.5 424.5 466.5 425 466.6 425.5 466.6 426 466.6 426.5 466.6 427 466.6 427.5 466.7 428 466.7 428.5 466.7 429 466.7 429.5 466.7 430 466.7 430.5 466.7 431 466.8 431.5 466.8 432 466.8 432.5 466.8 433 466.8 433.5 466.8 434 466.8 434.5 466.8 435 466.8 435.5 466.8 436 466.8 436.5 466.8 437 466.8 437.5 466.8 438 466.8 438.5 466.9 439 466.9 439.5 466.9 440 466.9 440.5 466.9 441 466.9 441.5 466.9 442 466.9 442.5 466.9 443 466.9 443.5 466.9 447.5 466.9 451.5 466.9 455.5 466.9 459.5 466.9 463.5 466.9 467.5 466.9 471.5 466.9 475.5 466.9 479.5 466.9 483.5 466.9 487.5 466.9 487.8 466.9" stroke="#444" stroke-width="0.55" stroke-dasharray="1 0.7" fill="none"/>
<path d="M403.5 452.4 404 456.7 404.5 459.7 405 461.8 405.5 463.3 406 464.5 406.5 465.3 407 466 407.5 466.5 408 467 408.5 467.3 409 467.6 409.5 467.9 410 468.1 410.5 468.3 411 468.5 411.5 468.7 412 468.8 412.5 468.9 413 469 413.5 469.1 414 469.2 414.5 469.3 415 469.4 415.5 469.5 416 469.5 416.5 469.6 417 469.6 417.5 469.7 418 469.7 418.5 469.7 419 469.8 419.5 469.8 420 469.8 420.5 469.9 421 469.9 421.5 469.9 422 469.9 422.5 469.9 423 470 423.5 470 424 470 424.5 470 425 470 425.5 470 426 470 426.5 470 427 470 427.5 470 428 470 428.5 470.1 429 470.1 429.5 470.1 430 470.1 430.5 470.1 431 470.1 431.5 470.1 432 470.1 432.5 470.1 433 470.1 433.5 470.1 434 470.1 434.5 470.1 435 470.1 435.5 470.1 436 470.1 436.5 470.1 437 470.1 437.5 470.1 438 470.1 438.5 470.1 439 470.1 439.5 470.1 440 470.1 440.5 470.1 441 470.1 441.5 470.1 442 470.1 442.5 470.1 443 470.1 443.5 470.1 447.5 470.1 451.5 470.1 455.5 470.1 459.5 470.1 463.5 470.1 467.5 470.1 471.5 470.1 475.5 470.1 479.5 470.1 483.5 470.1 487.5 470.1 487.8 470.1" stroke="#333" stroke-width="0.6" fill="none"/>
<path d="M388.4 493.2H494.9" stroke="#555" stroke-width="0.4" stroke-dasharray="1 0.8"/>
<path d="M389 495.1 389.8 495.2 390.6 494.4 391.4 493.7 392.2 494 393 494.5 393.8 494.3 394.6 493.7 395.4 493.8 396.2 494.5 397 493.9 397.8 494.6 398.6 494.8 399.4 494.9 400.2 495.1 401 494 401.8 493.3 402.6 493.4 403.4 492.3 404.2 491 405 489.4 405.8 488.5 406.6 487.9 407.4 487.7 408.2 487.2 409 486.6 409.8 486.1 410.6 485.6 411.4 485.5 412.2 484.9 413 485 413.8 484.7 414.6 484.2 415.4 484.2 416.2 484.7 417 484.9 417.8 484.7 418.6 484.9 419.4 485.5 420.2 485.8 421 486.1 421.8 485.6 422.6 485.9 423.4 486.2 424.2 486.2 425 486.7 425.8 486 426.6 485.9 427.4 485.9 428.2 485.6 429 485.6 429.8 485.7 430.6 485.6 431.4 485.4 432.2 485.3 433 485.4 433.8 484.8 434.6 485.2 435.4 484.9 436.2 485 437 484.8 437.8 485.1 438.6 485.1 439.4 485.2 440.2 485 441 485.2 441.8 485.9 442.6 485 443.4 485.4 444.2 485.5 445 485.3 445.8 484.8 446.6 485.6 447.4 485.5 448.2 485.7 449 485.3 449.8 484.9 450.6 485.4 451.4 485.5 452.2 485.1 453 485 453.8 485.2 454.6 484.9 455.4 484.7 456.2 484.9 457 485.4 457.8 485.6 458.6 485.5 459.4 485.9 460.2 485.5 461 485.2 461.8 486.2 462.6 485.6 463.4 485.7 464.2 485.8 465 485.7 465.8 485.7 466.6 485.9 467.4 485.9 468.2 485.5 469 485.6 469.8 486.1 470.6 486.2 471.4 485.8 472.2 485.8 473 485.4 473.8 485.1 474.6 485.3 475.4 486.2 476.2 485.9 477 485.2 477.8 485.7 478.6 485.7 479.4 486.3 480.2 486.8 481 486.6 481.8 486.8 482.6 487.2 483.4 488.6 484.2 489 485 489.7 485.8 490.2 486.6 489 487.4 489.8 488.2 492.5 489 494.6 489.8 495.2 490.6 496 491.4 495.6 492.2 495.3 493 494.4 493.8 494.5 494.6 493.7" stroke="#b03cc0" stroke-width="0.75" fill="none" stroke-linejoin="round"/>
<path d="M388.4 358.7V353.9H494.9V358.7M388.4 358.7V402.6M494.9 358.7V402.6M388.4 402.6V424.7M494.9 402.6V424.7M388.4 427.1V451.5M494.9 427.1V451.5M388.4 451.5V476.7M494.9 451.5V476.7M388.4 476.7V500M494.9 476.7V500M388.4 353.9H494.9" stroke="#808080" stroke-width="0.8" fill="none"/>
<path d="M388.4 358.7H494.9M388.4 402.6H494.9M388.4 424.7H494.9M388.4 427.1H494.9M388.4 451.5H494.9M388.4 476.7H494.9M388.4 500H494.9" stroke="#7a7a7a" stroke-width="1.35" fill="none"/>
<path d="M390.3 358v1.4M409.4 358v1.4M428.5 358v1.4M447.6 358v1.4M466.7 358v1.4M485.8 358v1.4M390.3 401.9v1.4M409.4 401.9v1.4M428.5 401.9v1.4M447.6 401.9v1.4M466.7 401.9v1.4M485.8 401.9v1.4M387.1 365h1.3M387.1 370.3h1.3M387.1 375.6h1.3M387.1 380.9h1.3M387.1 386.2h1.3M387.1 391.5h1.3M387.1 396.8h1.3M390.3 424v1.4M409.4 424v1.4M428.5 424v1.4M447.6 424v1.4M466.7 424v1.4M485.8 424v1.4M387.1 405.3h1.3M387.1 409.14h1.3M387.1 412.98h1.3M387.1 416.82h1.3M387.1 420.66h1.3M387.1 424.5h1.3M390.3 426.4v1.4M409.4 426.4v1.4M428.5 426.4v1.4M447.6 426.4v1.4M466.7 426.4v1.4M485.8 426.4v1.4M390.3 450.8v1.4M409.4 450.8v1.4M428.5 450.8v1.4M447.6 450.8v1.4M466.7 450.8v1.4M485.8 450.8v1.4M387.1 429.78h1.3M387.1 433.7h1.3M387.1 437.62h1.3M387.1 441.54h1.3M387.1 445.46h1.3M387.1 449.38h1.3M390.3 476v1.4M409.4 476v1.4M428.5 476v1.4M447.6 476v1.4M466.7 476v1.4M485.8 476v1.4M387.1 454.4h1.3M387.1 458.3h1.3M387.1 462.2h1.3M387.1 466.1h1.3M387.1 470h1.3M387.1 473.9h1.3M390.3 499.3v1.4M409.4 499.3v1.4M428.5 499.3v1.4M447.6 499.3v1.4M466.7 499.3v1.4M485.8 499.3v1.4M387.1 478.65h1.3M387.1 483.5h1.3M387.1 488.35h1.3M387.1 493.2h1.3M387.1 498.05h1.3M390.3 500v1.3M409.4 500v1.3M428.5 500v1.3M447.6 500v1.3M466.7 500v1.3M485.8 500v1.3" stroke="#1e1e1e" stroke-width="0.75" fill="none"/>
<text class="sd" transform="matrix(.88 0 0 1 428.25 357.5)">0</text>
<text class="sd" transform="matrix(.88 0 0 1 455.2 357.5)">1</text>
<text class="sd" transform="matrix(.88 0 0 1 470.6 357.5)">2</text>
<text class="sd" transform="matrix(.88 0 0 1 481.6 357.5)">3</text>
<text class="rs" transform="matrix(.88 0 0 1 389.6 357.4)">Refs</text>
<text class="tk" transform="matrix(.88 0 0 1 384.4 366.7)">450</text>
<text class="tk" transform="matrix(.88 0 0 1 384.4 372)">400</text>
<text class="tk" transform="matrix(.88 0 0 1 384.4 377.3)">350</text>
<text class="tk" transform="matrix(.88 0 0 1 384.4 382.6)">300</text>
<text class="tk" transform="matrix(.88 0 0 1 384.4 387.9)">250</text>
<text class="tk" transform="matrix(.88 0 0 1 384.4 393.2)">200</text>
<text class="tk" transform="matrix(.88 0 0 1 384.4 398.5)">150</text>
<text class="tk" transform="matrix(.88 0 0 1 384.4 407)">50</text>
<text class="tk" transform="matrix(.88 0 0 1 384.4 410.84)">40</text>
<text class="tk" transform="matrix(.88 0 0 1 384.4 414.68)">30</text>
<text class="tk" transform="matrix(.88 0 0 1 384.4 418.52)">20</text>
<text class="tk" transform="matrix(.88 0 0 1 384.4 422.36)">10</text>
<text class="tk" transform="matrix(.88 0 0 1 384.4 426.2)">0</text>
<text class="tk" transform="matrix(.88 0 0 1 384.4 431.48)">10</text>
<text class="tk" transform="matrix(.88 0 0 1 384.4 435.4)">0</text>
<text class="tk" transform="matrix(.88 0 0 1 384.4 439.32)">−10</text>
<text class="tk" transform="matrix(.88 0 0 1 384.4 443.24)">−20</text>
<text class="tk" transform="matrix(.88 0 0 1 384.4 447.16)">−30</text>
<text class="tk" transform="matrix(.88 0 0 1 384.4 451.08)">−40</text>
<text class="tk" transform="matrix(.88 0 0 1 384.4 456.1)">50</text>
<text class="tk" transform="matrix(.88 0 0 1 384.4 460)">40</text>
<text class="tk" transform="matrix(.88 0 0 1 384.4 463.9)">30</text>
<text class="tk" transform="matrix(.88 0 0 1 384.4 467.8)">20</text>
<text class="tk" transform="matrix(.88 0 0 1 384.4 471.7)">10</text>
<text class="tk" transform="matrix(.88 0 0 1 384.4 475.6)">0</text>
<text class="tk" transform="matrix(.88 0 0 1 384.4 480.35)">30</text>
<text class="tk" transform="matrix(.88 0 0 1 384.4 485.2)">20</text>
<text class="tk" transform="matrix(.88 0 0 1 384.4 490.05)">10</text>
<text class="tk" transform="matrix(.88 0 0 1 384.4 494.9)">0</text>
<text class="tk" transform="matrix(.88 0 0 1 384.4 499.75)">−10</text>
<text class="tk xl" transform="matrix(0.9 0 0 1 390.3 505.8)">Aug 2010</text>
<text class="tk xl" transform="matrix(0.9 0 0 1 409.4 505.8)">Oct 2010</text>
<text class="tk xl" transform="matrix(0.9 0 0 1 428.5 505.8)">Dec 2010</text>
<text class="tk xl" transform="matrix(0.9 0 0 1 447.6 505.8)">Feb 2011</text>
<text class="tk xl" transform="matrix(0.9 0 0 1 466.7 505.8)">Apr 2011</text>
<text class="tk xl" transform="matrix(0.9 0 0 1 485.8 505.8)">Jun 2011</text>
</svg></body></html>
